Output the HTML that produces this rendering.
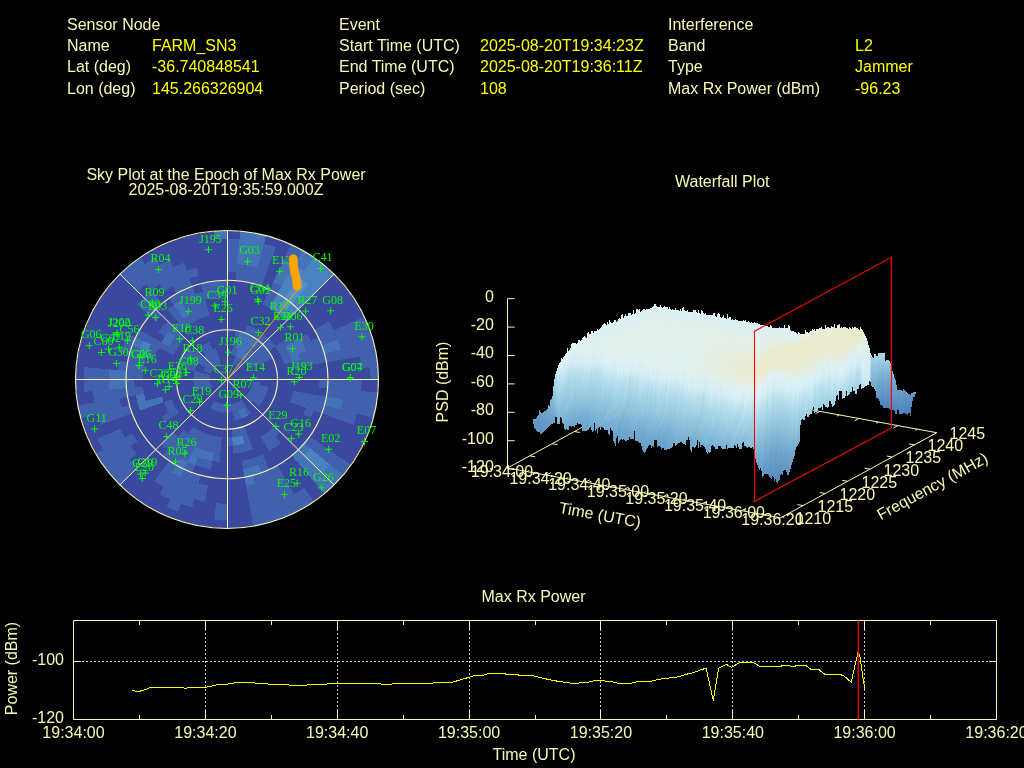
<!DOCTYPE html>
<html><head><meta charset="utf-8"><title>Interference Event Report</title>
<style>
html,body{margin:0;padding:0;background:#000;overflow:hidden}
svg{display:block}
text{font-family:'Liberation Sans', Arial, sans-serif;font-size:16px}
.sat text{font-family:'Liberation Serif','Times New Roman',serif;font-size:12px;fill:#00ff00;text-anchor:middle}
</style></head><body>
<svg width="1024" height="768" viewBox="0 0 1024 768">
<rect width="1024" height="768" fill="#000"/>
<text x="67" y="29.8" fill="#f8f8b4" text-anchor="start">Sensor Node</text>
<text x="67" y="50.8" fill="#f8f8b4" text-anchor="start">Name</text>
<text x="152" y="50.8" fill="#ffff00" text-anchor="start">FARM_SN3</text>
<text x="67" y="72.4" fill="#f8f8b4" text-anchor="start">Lat (deg)</text>
<text x="152" y="72.4" fill="#ffff00" text-anchor="start">-36.740848541</text>
<text x="67" y="94.2" fill="#f8f8b4" text-anchor="start">Lon (deg)</text>
<text x="152" y="94.2" fill="#ffff00" text-anchor="start">145.266326904</text>
<text x="339" y="29.8" fill="#f8f8b4" text-anchor="start">Event</text>
<text x="339" y="50.8" fill="#f8f8b4" text-anchor="start">Start Time (UTC)</text>
<text x="480" y="50.8" fill="#ffff00" text-anchor="start">2025-08-20T19:34:23Z</text>
<text x="339" y="72.4" fill="#f8f8b4" text-anchor="start">End Time (UTC)</text>
<text x="480" y="72.4" fill="#ffff00" text-anchor="start">2025-08-20T19:36:11Z</text>
<text x="339" y="94.2" fill="#f8f8b4" text-anchor="start">Period (sec)</text>
<text x="480" y="94.2" fill="#ffff00" text-anchor="start">108</text>
<text x="668" y="29.8" fill="#f8f8b4" text-anchor="start">Interference</text>
<text x="668" y="50.8" fill="#f8f8b4" text-anchor="start">Band</text>
<text x="855" y="50.8" fill="#ffff00" text-anchor="start">L2</text>
<text x="668" y="72.4" fill="#f8f8b4" text-anchor="start">Type</text>
<text x="855" y="72.4" fill="#ffff00" text-anchor="start">Jammer</text>
<text x="668" y="94.2" fill="#f8f8b4" text-anchor="start">Max Rx Power (dBm)</text>
<text x="855" y="94.2" fill="#ffff00" text-anchor="start">-96.23</text>
<text x="226" y="180" fill="#f8f8b4" text-anchor="middle">Sky Plot at the Epoch of Max Rx Power</text>
<text x="226" y="195" fill="#f8f8b4" text-anchor="middle">2025-08-20T19:35:59.000Z</text>
<text x="722.3" y="186.6" fill="#f8f8b4" text-anchor="middle">Waterfall Plot</text>
<text x="533.5" y="602" fill="#f8f8b4" text-anchor="middle">Max Rx Power</text>
<g shape-rendering="crispEdges">
<ellipse cx="227.0" cy="379.5" rx="151.0" ry="148.5" fill="#3b48a0"/>
<path d="M291.0 244.5A151.5 149.0 0 0 1 302.8 250.5L298.5 257.6A143.1 140.7 0 0 0 287.5 252.0ZM364.3 316.5A151.5 149.0 0 0 1 378.5 379.5L370.1 379.5A143.1 140.7 0 0 0 356.7 320.0ZM377.9 392.5A151.5 149.0 0 0 1 373.3 418.1L365.2 415.9A143.1 140.7 0 0 0 369.5 391.8ZM351.1 465.0A151.5 149.0 0 0 1 343.1 475.3L336.6 470.0A143.1 140.7 0 0 0 344.2 460.2ZM313.9 501.6A151.5 149.0 0 0 1 253.3 526.2L251.8 518.1A143.1 140.7 0 0 0 309.1 494.8ZM119.9 484.9A151.5 149.0 0 0 1 95.8 454.0L103.1 449.9A143.1 140.7 0 0 0 125.8 479.0ZM80.7 418.1A151.5 149.0 0 0 1 77.8 405.4L86.1 403.9A143.1 140.7 0 0 0 88.8 415.9ZM119.9 274.1A151.5 149.0 0 0 1 140.1 257.4L144.9 264.2A143.1 140.7 0 0 0 125.8 280.0ZM227.0 238.8A143.1 140.7 0 0 1 239.5 239.3L238.7 247.6A134.7 132.4 0 0 0 227.0 247.1ZM264.0 243.6A143.1 140.7 0 0 1 275.9 247.3L273.1 255.0A134.7 132.4 0 0 0 261.9 251.6ZM287.5 252.0A143.1 140.7 0 0 1 298.5 257.6L294.3 264.8A134.7 132.4 0 0 0 283.9 259.5ZM356.7 320.0A143.1 140.7 0 0 1 369.5 367.2L361.2 368.0A134.7 132.4 0 0 0 349.0 323.5ZM369.5 391.8A143.1 140.7 0 0 1 365.2 415.9L357.1 413.8A134.7 132.4 0 0 0 361.2 391.0ZM344.2 460.2A143.1 140.7 0 0 1 336.6 470.0L330.2 464.6A134.7 132.4 0 0 0 337.3 455.5ZM309.1 494.8A143.1 140.7 0 0 1 251.8 518.1L250.4 509.9A134.7 132.4 0 0 0 304.2 488.0ZM227.0 520.2A143.1 140.7 0 0 1 214.5 519.7L215.3 511.4A134.7 132.4 0 0 0 227.0 511.9ZM178.1 511.7A143.1 140.7 0 0 1 166.5 507.0L170.1 499.5A134.7 132.4 0 0 0 180.9 504.0ZM125.8 479.0A143.1 140.7 0 0 1 97.3 439.0L105.0 435.5A134.7 132.4 0 0 0 131.8 473.2ZM88.8 415.9A143.1 140.7 0 0 1 86.1 403.9L94.4 402.5A134.7 132.4 0 0 0 96.9 413.8ZM84.5 391.8A143.1 140.7 0 0 1 84.5 367.2L92.8 368.0A134.7 132.4 0 0 0 92.8 391.0ZM125.8 280.0A143.1 140.7 0 0 1 155.5 257.6L159.7 264.8A134.7 132.4 0 0 0 131.8 285.8ZM227.0 247.1A134.7 132.4 0 0 1 238.7 247.6L238.0 255.8A126.2 124.2 0 0 0 227.0 255.3ZM261.9 251.6A134.7 132.4 0 0 1 273.1 255.0L270.2 262.8A126.2 124.2 0 0 0 259.7 259.6ZM349.0 323.5A134.7 132.4 0 0 1 359.6 356.5L351.3 357.9A126.2 124.2 0 0 0 341.4 327.0ZM361.7 379.5A134.7 132.4 0 0 1 353.5 424.8L345.6 422.0A126.2 124.2 0 0 0 353.2 379.5ZM337.3 455.5A134.7 132.4 0 0 1 330.2 464.6L323.7 459.3A126.2 124.2 0 0 0 330.4 450.7ZM294.3 494.2A134.7 132.4 0 0 1 250.4 509.9L248.9 501.8A126.2 124.2 0 0 0 290.1 487.0ZM227.0 511.9A134.7 132.4 0 0 1 215.3 511.4L216.0 503.2A126.2 124.2 0 0 0 227.0 503.7ZM192.1 507.4A134.7 132.4 0 0 1 159.7 494.2L163.9 487.0A126.2 124.2 0 0 0 194.3 499.4ZM131.8 473.2A134.7 132.4 0 0 1 105.0 435.5L112.6 432.0A126.2 124.2 0 0 0 137.7 467.3ZM100.5 424.8A134.7 132.4 0 0 1 92.8 368.0L101.2 368.7A126.2 124.2 0 0 0 108.4 422.0ZM131.8 285.8A134.7 132.4 0 0 1 170.1 259.5L173.6 267.0A126.2 124.2 0 0 0 137.7 291.7ZM227.0 255.3A126.2 124.2 0 0 1 238.0 255.8L237.3 264.1A117.8 115.9 0 0 0 227.0 263.6ZM259.7 259.6A126.2 124.2 0 0 1 270.2 262.8L267.3 270.6A117.8 115.9 0 0 0 257.5 267.6ZM341.4 327.0A126.2 124.2 0 0 1 351.3 357.9L343.0 359.4A117.8 115.9 0 0 0 333.8 330.5ZM353.2 379.5A126.2 124.2 0 0 1 345.6 422.0L337.7 419.1A117.8 115.9 0 0 0 344.8 379.5ZM330.4 450.7A126.2 124.2 0 0 1 323.7 459.3L317.3 454.0A117.8 115.9 0 0 0 323.5 446.0ZM290.1 487.0A126.2 124.2 0 0 1 248.9 501.8L247.5 493.6A117.8 115.9 0 0 0 285.9 479.9ZM205.1 501.8A126.2 124.2 0 0 1 154.6 481.2L159.4 474.4A117.8 115.9 0 0 0 206.5 493.6ZM130.3 459.3A126.2 124.2 0 0 1 112.6 432.0L120.2 428.5A117.8 115.9 0 0 0 136.7 454.0ZM108.4 422.0A126.2 124.2 0 0 1 101.2 368.7L109.6 369.4A117.8 115.9 0 0 0 116.3 419.1ZM145.8 284.4A126.2 124.2 0 0 1 183.8 262.8L186.7 270.6A117.8 115.9 0 0 0 151.3 290.7ZM227.0 263.6A117.8 115.9 0 0 1 267.3 270.6L264.4 278.4A109.4 107.6 0 0 0 227.0 271.9ZM329.0 321.6A117.8 115.9 0 0 1 337.7 339.9L329.8 342.7A109.4 107.6 0 0 0 321.8 325.7ZM340.8 349.5A117.8 115.9 0 0 1 343.0 359.4L334.8 360.8A109.4 107.6 0 0 0 332.7 351.6ZM344.8 379.5A117.8 115.9 0 0 1 343.0 399.6L334.8 398.2A109.4 107.6 0 0 0 336.4 379.5ZM340.8 409.5A117.8 115.9 0 0 1 337.7 419.1L329.8 416.3A109.4 107.6 0 0 0 332.7 407.4ZM323.5 446.0A117.8 115.9 0 0 1 317.3 454.0L310.8 448.7A109.4 107.6 0 0 0 316.6 441.2ZM285.9 479.9A117.8 115.9 0 0 1 247.5 493.6L246.0 485.5A109.4 107.6 0 0 0 281.7 472.7ZM206.5 493.6A117.8 115.9 0 0 1 159.4 474.4L164.2 467.6A109.4 107.6 0 0 0 208.0 485.5ZM130.5 446.0A117.8 115.9 0 0 1 125.0 437.4L132.2 433.3A109.4 107.6 0 0 0 137.4 441.2ZM116.3 419.1A117.8 115.9 0 0 1 109.6 389.6L118.0 388.9A109.4 107.6 0 0 0 124.2 416.3ZM136.7 305.0A117.8 115.9 0 0 1 151.3 290.7L156.7 297.1A109.4 107.6 0 0 0 143.2 310.3ZM159.4 284.6A117.8 115.9 0 0 1 196.5 267.6L198.7 275.6A109.4 107.6 0 0 0 164.2 291.4ZM236.5 272.3A109.4 107.6 0 0 1 264.4 278.4L261.5 286.2A101.0 99.3 0 0 0 235.8 280.5ZM273.2 282.0A109.4 107.6 0 0 1 281.7 286.3L277.5 293.5A101.0 99.3 0 0 0 269.7 289.5ZM321.8 325.7A109.4 107.6 0 0 1 329.8 342.7L321.9 345.5A101.0 99.3 0 0 0 314.5 329.8ZM332.7 351.6A109.4 107.6 0 0 1 334.8 360.8L326.5 362.3A101.0 99.3 0 0 0 324.6 353.8ZM336.4 379.5A109.4 107.6 0 0 1 334.8 398.2L326.5 396.7A101.0 99.3 0 0 0 328.0 379.5ZM332.7 407.4A109.4 107.6 0 0 1 329.8 416.3L321.9 413.5A101.0 99.3 0 0 0 324.6 405.2ZM316.6 441.2A109.4 107.6 0 0 1 310.8 448.7L304.4 443.4A101.0 99.3 0 0 0 309.7 436.5ZM281.7 472.7A109.4 107.6 0 0 1 255.3 483.4L253.1 475.4A101.0 99.3 0 0 0 277.5 465.5ZM198.7 483.4A109.4 107.6 0 0 1 180.8 477.0L184.3 469.5A101.0 99.3 0 0 0 200.9 475.4ZM172.3 472.7A109.4 107.6 0 0 1 164.2 467.6L169.1 460.9A101.0 99.3 0 0 0 176.5 465.5ZM124.2 416.3A109.4 107.6 0 0 1 121.3 407.4L129.4 405.2A101.0 99.3 0 0 0 132.1 413.5ZM119.2 398.2A109.4 107.6 0 0 1 118.0 388.9L126.4 388.2A101.0 99.3 0 0 0 127.5 396.7ZM118.0 370.1A109.4 107.6 0 0 1 119.2 360.8L127.5 362.3A101.0 99.3 0 0 0 126.4 370.8ZM121.3 351.6A109.4 107.6 0 0 1 127.8 334.0L135.5 337.5A101.0 99.3 0 0 0 129.4 353.8ZM143.2 310.3A109.4 107.6 0 0 1 156.7 297.1L162.1 303.4A101.0 99.3 0 0 0 149.6 315.6ZM172.3 286.3A109.4 107.6 0 0 1 189.6 278.4L192.5 286.2A101.0 99.3 0 0 0 176.5 293.5ZM269.7 289.5A101.0 99.3 0 0 1 277.5 293.5L273.3 300.6A92.6 91.1 0 0 0 266.1 297.0ZM318.5 337.5A101.0 99.3 0 0 1 326.5 362.3L318.2 363.7A92.6 91.1 0 0 0 310.9 341.0ZM328.0 379.5A101.0 99.3 0 0 1 327.6 388.2L319.2 387.4A92.6 91.1 0 0 0 319.6 379.5ZM326.5 396.7A101.0 99.3 0 0 1 321.9 413.5L314.0 410.6A92.6 91.1 0 0 0 318.2 395.3ZM269.7 469.5A101.0 99.3 0 0 1 261.5 472.8L258.7 465.1A92.6 91.1 0 0 0 266.1 462.0ZM192.5 472.8A101.0 99.3 0 0 1 184.3 469.5L187.9 462.0A92.6 91.1 0 0 0 195.3 465.1ZM176.5 465.5A101.0 99.3 0 0 1 162.1 455.6L167.5 449.3A92.6 91.1 0 0 0 180.7 458.4ZM127.5 396.7A101.0 99.3 0 0 1 132.1 345.5L140.0 348.4A92.6 91.1 0 0 0 135.8 395.3ZM135.5 337.5A101.0 99.3 0 0 1 139.5 329.8L146.8 334.0A92.6 91.1 0 0 0 143.1 341.0ZM149.6 315.6A101.0 99.3 0 0 1 155.6 309.3L161.5 315.1A92.6 91.1 0 0 0 156.1 321.0ZM169.1 298.1A101.0 99.3 0 0 1 192.5 286.2L195.3 293.9A92.6 91.1 0 0 0 173.9 304.9ZM200.9 283.6A101.0 99.3 0 0 1 227.0 280.2L227.0 288.4A92.6 91.1 0 0 0 203.0 291.5ZM266.1 297.0A92.6 91.1 0 0 1 273.3 300.6L269.1 307.8A84.2 82.8 0 0 0 262.6 304.5ZM307.2 334.0A92.6 91.1 0 0 1 318.2 363.7L309.9 365.1A84.2 82.8 0 0 0 299.9 338.1ZM318.2 395.3A92.6 91.1 0 0 1 310.9 418.0L303.3 414.5A84.2 82.8 0 0 0 309.9 393.9ZM266.1 462.0A92.6 91.1 0 0 1 243.1 469.2L241.6 461.0A84.2 82.8 0 0 0 262.6 454.5ZM210.9 469.2A92.6 91.1 0 0 1 195.3 465.1L198.2 457.3A84.2 82.8 0 0 0 212.4 461.0ZM187.9 462.0A92.6 91.1 0 0 1 161.5 443.9L167.5 438.0A84.2 82.8 0 0 0 191.4 454.5ZM135.8 395.3A92.6 91.1 0 0 1 134.8 387.4L143.2 386.7A84.2 82.8 0 0 0 144.1 393.9ZM134.4 379.5A92.6 91.1 0 0 1 137.6 355.9L145.7 358.1A84.2 82.8 0 0 0 142.8 379.5ZM143.1 341.0A92.6 91.1 0 0 1 146.8 334.0L154.1 338.1A84.2 82.8 0 0 0 150.7 344.5ZM167.5 309.7A92.6 91.1 0 0 1 173.9 304.9L178.7 311.7A84.2 82.8 0 0 0 172.9 316.1ZM180.7 300.6A92.6 91.1 0 0 1 227.0 288.4L227.0 296.7A84.2 82.8 0 0 0 184.9 307.8ZM306.1 351.2A84.2 82.8 0 0 1 309.9 365.1L301.6 366.6A75.8 74.5 0 0 0 298.2 354.0ZM309.9 393.9A84.2 82.8 0 0 1 306.1 407.8L298.2 405.0A75.8 74.5 0 0 0 301.6 392.4ZM281.1 442.9A84.2 82.8 0 0 1 269.1 451.2L264.9 444.0A75.8 74.5 0 0 0 275.7 436.6ZM219.7 462.0A84.2 82.8 0 0 1 212.4 461.0L213.8 452.9A75.8 74.5 0 0 0 220.4 453.7ZM191.4 454.5A84.2 82.8 0 0 1 167.5 438.0L173.4 432.2A75.8 74.5 0 0 0 195.0 447.0ZM145.7 358.1A84.2 82.8 0 0 1 154.1 338.1L161.4 342.2A75.8 74.5 0 0 0 153.8 360.2ZM158.1 332.0A84.2 82.8 0 0 1 167.5 321.0L173.4 326.8A75.8 74.5 0 0 0 164.9 336.8ZM172.9 316.1A84.2 82.8 0 0 1 178.7 311.7L183.6 318.5A75.8 74.5 0 0 0 178.3 322.4ZM184.9 307.8A84.2 82.8 0 0 1 205.2 299.5L207.4 307.5A75.8 74.5 0 0 0 189.1 315.0ZM289.1 336.8A75.8 74.5 0 0 1 292.6 342.2L285.3 346.4A67.3 66.2 0 0 0 282.2 341.5ZM300.2 360.2A75.8 74.5 0 0 1 301.6 366.6L293.3 368.0A67.3 66.2 0 0 0 292.0 362.4ZM301.6 392.4A75.8 74.5 0 0 1 298.2 405.0L290.3 402.1A67.3 66.2 0 0 0 293.3 391.0ZM280.6 432.2A75.8 74.5 0 0 1 264.9 444.0L260.7 436.9A67.3 66.2 0 0 0 274.6 426.3ZM252.9 449.5A75.8 74.5 0 0 1 233.6 453.7L232.9 445.5A67.3 66.2 0 0 0 250.0 441.7ZM220.4 453.7A75.8 74.5 0 0 1 178.3 436.6L183.7 430.2A67.3 66.2 0 0 0 221.1 445.5ZM164.9 422.2A75.8 74.5 0 0 1 161.4 416.8L168.7 412.6A67.3 66.2 0 0 0 171.8 417.5ZM158.3 348.0A75.8 74.5 0 0 1 161.4 342.2L168.7 346.4A67.3 66.2 0 0 0 166.0 351.5ZM169.0 331.6A75.8 74.5 0 0 1 207.4 307.5L209.6 315.5A67.3 66.2 0 0 0 175.4 336.9ZM282.2 341.5A67.3 66.2 0 0 1 292.0 362.4L283.9 364.5A58.9 57.9 0 0 0 275.3 346.3ZM250.0 441.7A67.3 66.2 0 0 1 244.4 443.5L242.2 435.5A58.9 57.9 0 0 0 247.2 433.9ZM232.9 445.5A67.3 66.2 0 0 1 227.0 445.7L227.0 437.4A58.9 57.9 0 0 0 232.1 437.2ZM221.1 445.5A67.3 66.2 0 0 1 188.4 433.7L193.2 427.0A58.9 57.9 0 0 0 221.9 437.2ZM171.8 417.5A67.3 66.2 0 0 1 163.7 402.1L171.6 399.3A58.9 57.9 0 0 0 178.7 412.7ZM166.0 351.5A67.3 66.2 0 0 1 179.4 332.7L185.3 338.5A58.9 57.9 0 0 0 173.6 355.0ZM247.2 325.1A58.9 57.9 0 0 1 275.3 346.3L268.4 351.0A50.5 49.7 0 0 0 244.3 332.8ZM247.2 433.9A58.9 57.9 0 0 1 232.1 437.2L231.4 429.0A50.5 49.7 0 0 0 244.3 426.2ZM235.8 330.6A50.5 49.7 0 0 1 240.1 331.5L237.9 339.5A42.1 41.4 0 0 0 234.3 338.7ZM259.5 341.5A50.5 49.7 0 0 1 272.8 358.5L265.1 362.0A42.1 41.4 0 0 0 254.1 347.8ZM179.5 362.5A50.5 49.7 0 0 1 188.3 347.6L194.8 352.9A42.1 41.4 0 0 0 187.5 365.3ZM234.3 338.7A42.1 41.4 0 0 1 237.9 339.5L235.7 347.5A33.7 33.1 0 0 0 232.8 346.9ZM251.1 345.6A42.1 41.4 0 0 1 265.1 362.0L257.5 365.5A33.7 33.1 0 0 0 246.3 352.4ZM268.4 386.7A42.1 41.4 0 0 1 259.2 406.1L252.8 400.8A33.7 33.1 0 0 0 260.2 385.2ZM251.1 413.4A42.1 41.4 0 0 1 248.0 415.3L243.8 408.2A33.7 33.1 0 0 0 246.3 406.6ZM241.4 418.4A42.1 41.4 0 0 1 234.3 420.3L232.8 412.1A33.7 33.1 0 0 0 238.5 410.6ZM186.4 368.8A42.1 41.4 0 0 1 197.2 350.2L203.2 356.1A33.7 33.1 0 0 0 194.5 370.9ZM199.9 347.8A42.1 41.4 0 0 1 209.2 342.0L212.8 349.5A33.7 33.1 0 0 0 205.4 354.1ZM232.8 346.9A33.7 33.1 0 0 1 238.5 348.4L235.6 356.2A25.2 24.8 0 0 0 231.4 355.0ZM248.6 354.1A33.7 33.1 0 0 1 257.5 365.5L249.9 369.0A25.2 24.8 0 0 0 243.2 360.5ZM260.5 382.4A33.7 33.1 0 0 1 250.8 402.9L244.9 397.1A25.2 24.8 0 0 0 252.2 381.7ZM246.3 406.6A33.7 33.1 0 0 1 210.2 408.2L214.4 401.0A25.2 24.8 0 0 0 241.5 399.8ZM195.4 390.8A33.7 33.1 0 0 1 194.5 370.9L202.6 373.1A25.2 24.8 0 0 0 203.3 388.0ZM197.8 362.9A33.7 33.1 0 0 1 215.5 348.4L218.4 356.2A25.2 24.8 0 0 0 205.1 367.1ZM235.6 356.2A25.2 24.8 0 0 1 244.9 361.9L238.9 367.8A16.8 16.6 0 0 0 232.8 363.9ZM204.1 390.0A25.2 24.8 0 0 1 202.6 373.1L210.7 375.2A16.8 16.6 0 0 0 211.7 386.5ZM203.3 371.0A25.2 24.8 0 0 1 218.4 356.2L221.2 363.9A16.8 16.6 0 0 0 211.2 373.8Z" fill="#4160ad"/>
<path d="M240.2 231.1A151.5 149.0 0 0 1 266.2 235.6L264.0 243.6A143.1 140.7 0 0 0 239.5 239.3ZM302.8 250.5A151.5 149.0 0 0 1 313.9 257.4L309.1 264.2A143.1 140.7 0 0 0 298.5 257.6ZM343.1 475.3A151.5 149.0 0 0 1 324.4 493.6L319.0 487.3A143.1 140.7 0 0 0 336.6 470.0ZM213.8 231.1A151.5 149.0 0 0 1 227.0 230.5L227.0 238.8A143.1 140.7 0 0 0 214.5 239.3ZM239.5 239.3A143.1 140.7 0 0 1 264.0 243.6L261.9 251.6A134.7 132.4 0 0 0 238.7 247.6ZM298.5 257.6A143.1 140.7 0 0 1 309.1 264.2L304.2 271.0A134.7 132.4 0 0 0 294.3 264.8ZM336.6 470.0A143.1 140.7 0 0 1 319.0 487.3L313.6 481.0A134.7 132.4 0 0 0 330.2 464.6ZM238.7 247.6A134.7 132.4 0 0 1 261.9 251.6L259.7 259.6A126.2 124.2 0 0 0 238.0 255.8ZM283.9 259.5A134.7 132.4 0 0 1 294.3 264.8L290.1 272.0A126.2 124.2 0 0 0 280.4 267.0ZM322.2 473.2A134.7 132.4 0 0 1 313.6 481.0L308.2 474.6A126.2 124.2 0 0 0 316.3 467.3ZM238.0 255.8A126.2 124.2 0 0 1 259.7 259.6L257.5 267.6A117.8 115.9 0 0 0 237.3 264.1ZM280.4 267.0A126.2 124.2 0 0 1 290.1 272.0L285.9 279.1A117.8 115.9 0 0 0 276.8 274.5ZM316.3 467.3A126.2 124.2 0 0 1 308.2 474.6L302.7 468.3A117.8 115.9 0 0 0 310.3 461.4ZM276.8 274.5A117.8 115.9 0 0 1 285.9 279.1L281.7 286.3A109.4 107.6 0 0 0 273.2 282.0ZM337.7 339.9A117.8 115.9 0 0 1 340.8 349.5L332.7 351.6A109.4 107.6 0 0 0 329.8 342.7ZM343.0 399.6A117.8 115.9 0 0 1 340.8 409.5L332.7 407.4A109.4 107.6 0 0 0 334.8 398.2ZM310.3 461.4A117.8 115.9 0 0 1 302.7 468.3L297.3 461.9A109.4 107.6 0 0 0 304.4 455.6ZM109.6 389.6A117.8 115.9 0 0 1 109.6 369.4L118.0 370.1A109.4 107.6 0 0 0 118.0 388.9ZM329.8 342.7A109.4 107.6 0 0 1 332.7 351.6L324.6 353.8A101.0 99.3 0 0 0 321.9 345.5ZM334.8 398.2A109.4 107.6 0 0 1 332.7 407.4L324.6 405.2A101.0 99.3 0 0 0 326.5 396.7ZM310.8 448.7A109.4 107.6 0 0 1 297.3 461.9L291.9 455.6A101.0 99.3 0 0 0 304.4 443.4ZM255.3 483.4A109.4 107.6 0 0 1 246.0 485.5L244.5 477.3A101.0 99.3 0 0 0 253.1 475.4ZM180.8 477.0A109.4 107.6 0 0 1 172.3 472.7L176.5 465.5A101.0 99.3 0 0 0 184.3 469.5ZM118.0 388.9A109.4 107.6 0 0 1 118.0 370.1L126.4 370.8A101.0 99.3 0 0 0 126.4 388.2ZM261.5 472.8A101.0 99.3 0 0 1 244.5 477.3L243.1 469.2A92.6 91.1 0 0 0 258.7 465.1ZM184.3 469.5A101.0 99.3 0 0 1 176.5 465.5L180.7 458.4A92.6 91.1 0 0 0 187.9 462.0ZM132.1 345.5A101.0 99.3 0 0 1 135.5 337.5L143.1 341.0A92.6 91.1 0 0 0 140.0 348.4ZM195.3 465.1A92.6 91.1 0 0 1 187.9 462.0L191.4 454.5A84.2 82.8 0 0 0 198.2 457.3ZM140.0 410.6A92.6 91.1 0 0 1 135.8 395.3L144.1 393.9A84.2 82.8 0 0 0 147.9 407.8ZM137.6 355.9A92.6 91.1 0 0 1 140.0 348.4L147.9 351.2A84.2 82.8 0 0 0 145.7 358.1ZM173.9 304.9A92.6 91.1 0 0 1 180.7 300.6L184.9 307.8A84.2 82.8 0 0 0 178.7 311.7ZM299.9 338.1A84.2 82.8 0 0 1 306.1 351.2L298.2 354.0A75.8 74.5 0 0 0 292.6 342.2ZM212.4 461.0A84.2 82.8 0 0 1 191.4 454.5L195.0 447.0A75.8 74.5 0 0 0 213.8 452.9ZM147.9 407.8A84.2 82.8 0 0 1 145.7 400.9L153.8 398.8A75.8 74.5 0 0 0 155.8 405.0ZM178.7 311.7A84.2 82.8 0 0 1 184.9 307.8L189.1 315.0A75.8 74.5 0 0 0 183.6 318.5ZM292.6 342.2A75.8 74.5 0 0 1 300.2 360.2L292.0 362.4A67.3 66.2 0 0 0 285.3 346.4ZM155.8 405.0A75.8 74.5 0 0 1 153.8 398.8L162.0 396.6A67.3 66.2 0 0 0 163.7 402.1ZM161.4 342.2A75.8 74.5 0 0 1 169.0 331.6L175.4 336.9A67.3 66.2 0 0 0 168.7 346.4ZM240.1 331.5A50.5 49.7 0 0 1 259.5 341.5L254.1 347.8A42.1 41.4 0 0 0 237.9 339.5ZM237.9 339.5A42.1 41.4 0 0 1 251.1 345.6L246.3 352.4A33.7 33.1 0 0 0 235.7 347.5ZM248.0 415.3A42.1 41.4 0 0 1 241.4 418.4L238.5 410.6A33.7 33.1 0 0 0 243.8 408.2ZM238.5 348.4A33.7 33.1 0 0 1 248.6 354.1L243.2 360.5A25.2 24.8 0 0 0 235.6 356.2Z" fill="#4573b7"/>
<path d="M313.9 257.4A151.5 149.0 0 0 1 334.1 274.1L328.2 280.0A143.1 140.7 0 0 0 309.1 264.2ZM309.1 264.2A143.1 140.7 0 0 1 328.2 280.0L322.2 285.8A134.7 132.4 0 0 0 304.2 271.0ZM294.3 264.8A134.7 132.4 0 0 1 322.2 285.8L316.3 291.7A126.2 124.2 0 0 0 290.1 272.0ZM330.2 464.6A134.7 132.4 0 0 1 322.2 473.2L316.3 467.3A126.2 124.2 0 0 0 323.7 459.3ZM290.1 272.0A126.2 124.2 0 0 1 299.4 277.8L294.6 284.6A117.8 115.9 0 0 0 285.9 279.1ZM308.2 284.4A126.2 124.2 0 0 1 316.3 291.7L310.3 297.6A117.8 115.9 0 0 0 302.7 290.7ZM323.7 459.3A126.2 124.2 0 0 1 316.3 467.3L310.3 461.4A117.8 115.9 0 0 0 317.3 454.0ZM285.9 279.1A117.8 115.9 0 0 1 294.6 284.6L289.8 291.4A109.4 107.6 0 0 0 281.7 286.3ZM302.7 290.7A117.8 115.9 0 0 1 310.3 297.6L304.4 303.4A109.4 107.6 0 0 0 297.3 297.1ZM317.3 454.0A117.8 115.9 0 0 1 310.3 461.4L304.4 455.6A109.4 107.6 0 0 0 310.8 448.7ZM281.7 286.3A109.4 107.6 0 0 1 289.8 291.4L284.9 298.1A101.0 99.3 0 0 0 277.5 293.5ZM297.3 297.1A109.4 107.6 0 0 1 304.4 303.4L298.4 309.3A101.0 99.3 0 0 0 291.9 303.4ZM277.5 293.5A101.0 99.3 0 0 1 284.9 298.1L280.1 304.9A92.6 91.1 0 0 0 273.3 300.6ZM291.9 303.4A101.0 99.3 0 0 1 298.4 309.3L292.5 315.1A92.6 91.1 0 0 0 286.5 309.7ZM273.3 300.6A92.6 91.1 0 0 1 292.5 315.1L286.5 321.0A84.2 82.8 0 0 0 269.1 307.8ZM140.0 348.4A92.6 91.1 0 0 1 143.1 341.0L150.7 344.5A84.2 82.8 0 0 0 147.9 351.2ZM244.4 443.5A67.3 66.2 0 0 1 232.9 445.5L232.1 437.2A58.9 57.9 0 0 0 242.2 435.5Z" fill="#4a82c1"/>
<path d="M299.4 277.8A126.2 124.2 0 0 1 308.2 284.4L302.7 290.7A117.8 115.9 0 0 0 294.6 284.6ZM294.6 284.6A117.8 115.9 0 0 1 302.7 290.7L297.3 297.1A109.4 107.6 0 0 0 289.8 291.4ZM289.8 291.4A109.4 107.6 0 0 1 297.3 297.1L291.9 303.4A101.0 99.3 0 0 0 284.9 298.1ZM284.9 298.1A101.0 99.3 0 0 1 291.9 303.4L286.5 309.7A92.6 91.1 0 0 0 280.1 304.9Z" fill="#5592c9"/>
</g>
<path d="M227.5 230.5L227.5 528.5M334.1 274.1L119.9 484.9M378.5 379.5L75.5 379.5M334.1 484.9L119.9 274.1" stroke="#f8f8b4" stroke-width="1" fill="none"/>
<ellipse cx="227.0" cy="379.5" rx="50.5" ry="49.7" stroke="#f8f8b4" stroke-width="1.1" fill="none"/>
<ellipse cx="227.0" cy="379.5" rx="101.0" ry="99.3" stroke="#f8f8b4" stroke-width="1.1" fill="none"/>
<ellipse cx="227.0" cy="379.5" rx="151.5" ry="149.0" stroke="#f8f8b4" stroke-width="1.1" fill="none"/>
<path d="M205.0 249.7h7M208.5 246.2v7M154.9 269.6h7M158.4 266.1v7M149.0 302.9h7M152.5 299.4v7M144.7 315.1h7M148.2 311.6v7M152.2 317.5h7M155.7 314.0v7M244.0 261.6h7M247.5 258.1v7M184.9 311.3h7M188.4 307.8v7M211.2 305.7h7M214.7 302.2v7M221.6 301.6h7M225.1 298.1v7M217.7 319.5h7M221.2 316.0v7M254.2 299.6h7M257.7 296.1v7M254.9 301.6h7M258.4 298.1v7M255.1 332.6h7M258.6 329.1v7M276.2 271.3h7M279.7 267.8v7M317.1 268.5h7M320.6 265.0v7M302.1 311.1h7M305.6 307.6v7M327.1 310.7h7M330.6 307.2v7M358.5 336.9h7M362.0 333.4v7M286.9 326.7h7M290.4 323.2v7M277.1 327.3h7M280.6 323.8v7M274.2 317.2h7M277.7 313.7v7M288.9 348.6h7M292.4 345.1v7M249.9 377.7h7M253.4 374.2v7M296.0 377.5h7M299.5 374.0v7M290.9 381.8h7M294.4 378.3v7M346.8 377.8h7M350.3 374.3v7M346.8 377.8h7M350.3 374.3v7M361.0 441.5h7M364.5 438.0v7M295.2 434.1h7M298.7 430.6v7M287.9 438.6h7M291.4 435.1v7M272.3 426.4h7M275.8 422.9v7M325.2 449.3h7M328.7 445.8v7M293.6 483.3h7M297.1 479.8v7M317.9 487.9h7M321.4 484.4v7M280.9 494.4h7M284.4 490.9v7M85.8 345.6h7M89.3 342.1v7M97.9 352.5h7M101.4 349.0v7M105.0 349.1h7M108.5 345.6v7M115.8 347.3h7M119.3 343.8v7M113.5 333.0h7M117.0 329.5v7M113.9 334.3h7M117.4 330.8v7M124.0 340.5h7M127.5 337.0v7M113.0 363.4h7M116.5 359.9v7M135.7 365.5h7M139.2 362.0v7M135.7 365.5h7M139.2 362.0v7M141.7 370.3h7M145.2 366.8v7M176.2 338.9h7M179.7 335.4v7M188.8 340.8h7M192.3 337.3v7M187.1 358.7h7M190.6 355.2v7M183.2 372.5h7M186.7 369.0v7M224.9 352.2h7M228.4 348.7v7M217.9 380.2h7M221.4 376.7v7M237.1 395.3h7M240.6 391.8v7M223.3 405.3h7M226.8 401.8v7M196.0 402.0h7M199.5 398.5v7M187.1 410.5h7M190.6 407.0v7M153.9 383.7h7M157.4 380.2v7M161.9 389.8h7M165.4 386.3v7M165.7 386.5h7M169.2 383.0v7M173.2 383.4h7M176.7 379.9v7M171.9 377.5h7M175.4 374.0v7M91.1 428.9h7M94.6 425.4v7M162.9 436.5h7M166.4 433.0v7M172.1 461.8h7M175.6 458.3v7M181.1 453.2h7M184.6 449.7v7M137.0 474.0h7M140.5 470.5v7M141.7 473.0h7M145.2 469.5v7M138.8 478.5h7M142.3 475.0v7" stroke="#00ff00" stroke-width="1" fill="none"/>
<g class="sat">
<text x="210.5" y="242.5">J195</text>
<text x="160.4" y="262.4">R04</text>
<text x="154.5" y="295.7">R09</text>
<text x="150.2" y="307.9">C60</text>
<text x="157.7" y="310.3">E03</text>
<text x="249.5" y="254.4">G03</text>
<text x="190.4" y="304.1">J199</text>
<text x="216.7" y="298.5">C39</text>
<text x="227.1" y="294.4">G01</text>
<text x="223.2" y="312.3">E26</text>
<text x="259.7" y="292.4">C04</text>
<text x="260.4" y="294.4">G02</text>
<text x="260.6" y="325.4">C32</text>
<text x="281.7" y="264.1">E13</text>
<text x="322.6" y="261.3">C41</text>
<text x="307.6" y="303.9">R27</text>
<text x="332.6" y="303.5">G08</text>
<text x="364.0" y="329.7">E30</text>
<text x="292.4" y="319.5">R06</text>
<text x="282.6" y="320.1">E21</text>
<text x="279.7" y="310.0">R17</text>
<text x="294.4" y="341.4">R01</text>
<text x="255.4" y="370.5">E14</text>
<text x="301.5" y="370.3">J193</text>
<text x="296.4" y="374.6">R20</text>
<text x="352.3" y="370.6">G04</text>
<text x="352.3" y="370.6">G07</text>
<text x="366.5" y="434.3">E07</text>
<text x="300.7" y="426.9">G16</text>
<text x="293.4" y="431.4">C23</text>
<text x="277.8" y="419.2">E29</text>
<text x="330.7" y="442.1">E02</text>
<text x="299.1" y="476.1">R16</text>
<text x="323.4" y="480.7">G26</text>
<text x="286.4" y="487.2">E25</text>
<text x="91.3" y="338.4">G06</text>
<text x="103.4" y="345.3">C60</text>
<text x="110.5" y="341.9">G02</text>
<text x="121.3" y="340.1">E19</text>
<text x="119.0" y="325.8">J202</text>
<text x="119.4" y="327.1">J200</text>
<text x="129.5" y="333.3">C56</text>
<text x="118.5" y="356.2">G30</text>
<text x="141.2" y="358.3">C06</text>
<text x="141.2" y="358.3">G26</text>
<text x="147.2" y="363.1">E16</text>
<text x="181.7" y="331.7">E18</text>
<text x="194.3" y="333.6">C38</text>
<text x="192.6" y="351.5">R18</text>
<text x="188.7" y="365.3">C08</text>
<text x="230.4" y="345.0">J196</text>
<text x="223.4" y="373.0">C37</text>
<text x="242.6" y="388.1">R07</text>
<text x="228.8" y="398.1">G09</text>
<text x="201.5" y="394.8">E19</text>
<text x="192.6" y="403.3">C29</text>
<text x="159.4" y="376.5">C28</text>
<text x="167.4" y="382.6">R14</text>
<text x="171.2" y="379.3">G04</text>
<text x="178.7" y="376.2">E31</text>
<text x="177.4" y="370.3">E36</text>
<text x="96.6" y="421.7">G11</text>
<text x="168.4" y="429.3">C48</text>
<text x="177.6" y="454.6">R05</text>
<text x="186.6" y="446.0">R26</text>
<text x="142.5" y="466.8">G29</text>
<text x="147.2" y="465.8">C19</text>
<text x="144.3" y="471.3">E20</text>
</g>
<path d="M227.0 379.5L297.4 290" stroke="#ffa500" stroke-width="1" fill="none"/>
<path d="M293.3 258.6L293.6 266.5L295 273.7L296.5 279.4L297.2 286.5" stroke="#ffa500" stroke-width="8.6" stroke-linecap="round" stroke-linejoin="round" fill="none"/>
<path d="M507.5 468.0L663.7 382.9L936.8 432.7M529.8 455.8l5.4 1.0M552.1 443.7l5.4 1.0M574.4 431.5l5.4 1.0M596.8 419.4l5.4 1.0M619.1 407.2l5.4 1.0M641.4 395.1l5.4 1.0M683.2 386.5l-2.2 1.2M702.7 390.0l-4.4 2.4M722.2 393.6l-2.2 1.2M741.7 397.1l-4.4 2.4M761.2 400.7l-2.2 1.2M780.7 404.2l-4.4 2.4M800.2 407.8l-2.2 1.2M819.8 411.4l-4.4 2.4M839.3 414.9l-2.2 1.2M858.8 418.5l-4.4 2.4M878.3 422.0l-2.2 1.2M897.8 425.6l-4.4 2.4M917.3 429.1l-2.2 1.2" stroke="#f8f8b4" stroke-width="1" fill="none"/>
<defs><linearGradient id="w0" x1="0" y1="0" x2="0" y2="1"><stop offset="0" stop-color="#679dc9"/><stop offset="1" stop-color="#649ac7"/></linearGradient><linearGradient id="w1" x1="0" y1="0" x2="0" y2="1"><stop offset="0" stop-color="#659bc8"/><stop offset="1" stop-color="#6096c5"/></linearGradient><linearGradient id="w2" x1="0" y1="0" x2="0" y2="1"><stop offset="0" stop-color="#689ec9"/><stop offset="1" stop-color="#5e93c4"/></linearGradient><linearGradient id="w3" x1="0" y1="0" x2="0" y2="1"><stop offset="0" stop-color="#679ec9"/><stop offset="1" stop-color="#5d92c3"/></linearGradient><linearGradient id="w4" x1="0" y1="0" x2="0" y2="1"><stop offset="0" stop-color="#669dc8"/><stop offset="1" stop-color="#5b90c2"/></linearGradient><linearGradient id="w5" x1="0" y1="0" x2="0" y2="1"><stop offset="0" stop-color="#689fca"/><stop offset="1" stop-color="#5e93c3"/></linearGradient><linearGradient id="w6" x1="0" y1="0" x2="0" y2="1"><stop offset="0" stop-color="#6ca4cc"/><stop offset="1" stop-color="#5d92c3"/></linearGradient><linearGradient id="w7" x1="0" y1="0" x2="0" y2="1"><stop offset="0" stop-color="#6ba3cc"/><stop offset="1" stop-color="#5a8ec1"/></linearGradient><linearGradient id="w8" x1="0" y1="0" x2="0" y2="1"><stop offset="0" stop-color="#6ba2cb"/><stop offset="1" stop-color="#5a8ec1"/></linearGradient><linearGradient id="w9" x1="0" y1="0" x2="0" y2="1"><stop offset="0" stop-color="#6ea5cd"/><stop offset="1" stop-color="#5c91c2"/></linearGradient><linearGradient id="w10" x1="0" y1="0" x2="0" y2="1"><stop offset="0" stop-color="#70a8cf"/><stop offset="1" stop-color="#5c91c2"/></linearGradient><linearGradient id="w11" x1="0" y1="0" x2="0" y2="1"><stop offset="0" stop-color="#6da5cd"/><stop offset="1" stop-color="#5c91c2"/></linearGradient><linearGradient id="w12" x1="0" y1="0" x2="0" y2="1"><stop offset="0" stop-color="#6da4cd"/><stop offset="1" stop-color="#6196c5"/></linearGradient><linearGradient id="w13" x1="0" y1="0" x2="0" y2="1"><stop offset="0" stop-color="#70a8cf"/><stop offset="1" stop-color="#6095c4"/></linearGradient><linearGradient id="w14" x1="0" y1="0" x2="0" y2="1"><stop offset="0" stop-color="#72abd0"/><stop offset="1" stop-color="#6399c7"/></linearGradient><linearGradient id="w15" x1="0" y1="0" x2="0" y2="1"><stop offset="0" stop-color="#78b0d3"/><stop offset="1" stop-color="#6298c6"/></linearGradient><linearGradient id="w16" x1="0" y1="0" x2="0" y2="1"><stop offset="0" stop-color="#78b0d3"/><stop offset="1" stop-color="#6298c6"/></linearGradient><linearGradient id="w17" x1="0" y1="0" x2="0" y2="1"><stop offset="0" stop-color="#7fb6d6"/><stop offset=".72" stop-color="#6da4cc"/><stop offset="1" stop-color="#659bc8"/></linearGradient><linearGradient id="w18" x1="0" y1="0" x2="0" y2="1"><stop offset="0" stop-color="#82b9d7"/><stop offset="1" stop-color="#659bc8"/></linearGradient><linearGradient id="w19" x1="0" y1="0" x2="0" y2="1"><stop offset="0" stop-color="#8abeda"/><stop offset="1" stop-color="#679dc9"/></linearGradient><linearGradient id="w20" x1="0" y1="0" x2="0" y2="1"><stop offset="0" stop-color="#9bcce2"/><stop offset=".97" stop-color="#679dc9"/><stop offset="1" stop-color="#6aa1cb"/></linearGradient><linearGradient id="w21" x1="0" y1="0" x2="0" y2="1"><stop offset="0" stop-color="#addae9"/><stop offset=".73" stop-color="#7ab1d3"/><stop offset=".86" stop-color="#70a8cf"/><stop offset="1" stop-color="#6da5cd"/></linearGradient><linearGradient id="w22" x1="0" y1="0" x2="0" y2="1"><stop offset="0" stop-color="#b5deec"/><stop offset=".56" stop-color="#95c7df"/><stop offset="1" stop-color="#70a9cf"/></linearGradient><linearGradient id="w23" x1="0" y1="0" x2="0" y2="1"><stop offset="0" stop-color="#c4e5f0"/><stop offset=".35" stop-color="#a7d6e7"/><stop offset=".78" stop-color="#8abfdb"/><stop offset="1" stop-color="#77b0d2"/></linearGradient><linearGradient id="w24" x1="0" y1="0" x2="0" y2="1"><stop offset="0" stop-color="#d3edf4"/><stop offset=".25" stop-color="#b3ddeb"/><stop offset=".64" stop-color="#94c7df"/><stop offset=".89" stop-color="#7bb2d4"/><stop offset=".93" stop-color="#7fb5d6"/><stop offset="1" stop-color="#78b0d3"/></linearGradient><linearGradient id="w25" x1="0" y1="0" x2="0" y2="1"><stop offset="0" stop-color="#dbf0f6"/><stop offset=".41" stop-color="#aad8e9"/><stop offset=".61" stop-color="#9acbe1"/><stop offset=".78" stop-color="#88bdda"/><stop offset=".95" stop-color="#7cb4d5"/><stop offset="1" stop-color="#74add1"/></linearGradient><linearGradient id="w26" x1="0" y1="0" x2="0" y2="1"><stop offset="0" stop-color="#dbf0f7"/><stop offset=".13" stop-color="#d0ebf4"/><stop offset=".30" stop-color="#b5deec"/><stop offset=".59" stop-color="#9bcce2"/><stop offset=".75" stop-color="#89beda"/><stop offset=".92" stop-color="#80b6d6"/><stop offset="1" stop-color="#76afd2"/></linearGradient><linearGradient id="w27" x1="0" y1="0" x2="0" y2="1"><stop offset="0" stop-color="#def2f8"/><stop offset=".11" stop-color="#d4edf4"/><stop offset=".40" stop-color="#b0dcea"/><stop offset=".84" stop-color="#8abfdb"/><stop offset=".91" stop-color="#87bdd9"/><stop offset=".95" stop-color="#89beda"/><stop offset="1" stop-color="#7fb6d6"/></linearGradient><linearGradient id="w28" x1="0" y1="0" x2="0" y2="1"><stop offset="0" stop-color="#e0f3f7"/><stop offset=".20" stop-color="#d1ecf4"/><stop offset=".50" stop-color="#aad8e9"/><stop offset=".77" stop-color="#8dc1dc"/><stop offset=".87" stop-color="#8bbfdb"/><stop offset=".90" stop-color="#8bc0db"/><stop offset="1" stop-color="#7cb3d4"/></linearGradient><linearGradient id="w29" x1="0" y1="0" x2="0" y2="1"><stop offset="0" stop-color="#dff2f8"/><stop offset=".16" stop-color="#d3edf4"/><stop offset=".41" stop-color="#b0dbea"/><stop offset=".69" stop-color="#8ec2dc"/><stop offset=".84" stop-color="#87bcd9"/><stop offset="1" stop-color="#7ab2d3"/></linearGradient><linearGradient id="w30" x1="0" y1="0" x2="0" y2="1"><stop offset="0" stop-color="#e0f3f7"/><stop offset=".15" stop-color="#d4edf5"/><stop offset=".42" stop-color="#aedaea"/><stop offset=".69" stop-color="#8fc3dd"/><stop offset=".75" stop-color="#8bc0db"/><stop offset=".81" stop-color="#88bdda"/><stop offset="1" stop-color="#74add1"/></linearGradient><linearGradient id="w31" x1="0" y1="0" x2="0" y2="1"><stop offset="0" stop-color="#e0f3f8"/><stop offset=".16" stop-color="#d1ecf4"/><stop offset=".38" stop-color="#addaea"/><stop offset=".68" stop-color="#8bbfdb"/><stop offset=".74" stop-color="#8bc0db"/><stop offset=".88" stop-color="#76aed2"/><stop offset=".90" stop-color="#79b1d3"/><stop offset=".96" stop-color="#6ea6cd"/><stop offset="1" stop-color="#6fa7ce"/></linearGradient><linearGradient id="w32" x1="0" y1="0" x2="0" y2="1"><stop offset="0" stop-color="#e1f2f4"/><stop offset=".16" stop-color="#d5edf5"/><stop offset=".37" stop-color="#afdbea"/><stop offset=".63" stop-color="#8fc3dd"/><stop offset=".68" stop-color="#8cc0db"/><stop offset=".71" stop-color="#8fc3dd"/><stop offset=".87" stop-color="#79b1d3"/><stop offset=".97" stop-color="#6fa7ce"/><stop offset="1" stop-color="#6da5cd"/></linearGradient><linearGradient id="w33" x1="0" y1="0" x2="0" y2="1"><stop offset="0" stop-color="#e2f2f3"/><stop offset=".16" stop-color="#d5eef5"/><stop offset=".39" stop-color="#abd9e9"/><stop offset=".68" stop-color="#8bc0db"/><stop offset=".71" stop-color="#90c3dd"/><stop offset=".84" stop-color="#7fb6d6"/><stop offset=".97" stop-color="#70a9cf"/><stop offset="1" stop-color="#70a8ce"/></linearGradient><linearGradient id="w34" x1="0" y1="0" x2="0" y2="1"><stop offset="0" stop-color="#d8eff6"/><stop offset=".02" stop-color="#e2f2f1"/><stop offset=".20" stop-color="#d6eef5"/><stop offset=".37" stop-color="#b0dcea"/><stop offset=".66" stop-color="#8fc2dd"/><stop offset=".68" stop-color="#94c7df"/><stop offset=".85" stop-color="#7cb3d5"/><stop offset=".90" stop-color="#76aed2"/><stop offset="1" stop-color="#6ea5cd"/></linearGradient><linearGradient id="w35" x1="0" y1="0" x2="0" y2="1"><stop offset="0" stop-color="#e2f2f2"/><stop offset=".15" stop-color="#d5eef5"/><stop offset=".30" stop-color="#b6deec"/><stop offset=".61" stop-color="#92c5de"/><stop offset=".68" stop-color="#8ec2dc"/><stop offset=".91" stop-color="#73acd1"/><stop offset="1" stop-color="#6ca4cc"/></linearGradient><linearGradient id="w36" x1="0" y1="0" x2="0" y2="1"><stop offset="0" stop-color="#e2f2f1"/><stop offset=".18" stop-color="#d1ecf4"/><stop offset=".39" stop-color="#abd9e9"/><stop offset=".63" stop-color="#94c6df"/><stop offset=".66" stop-color="#98cae1"/><stop offset=".82" stop-color="#81b7d7"/><stop offset=".97" stop-color="#70a9cf"/><stop offset="1" stop-color="#71aacf"/></linearGradient><linearGradient id="w37" x1="0" y1="0" x2="0" y2="1"><stop offset="0" stop-color="#e2f2f1"/><stop offset=".18" stop-color="#d7eef5"/><stop offset=".36" stop-color="#b3ddeb"/><stop offset=".62" stop-color="#98cae1"/><stop offset=".64" stop-color="#9acce2"/><stop offset=".77" stop-color="#84bad8"/><stop offset="1" stop-color="#6ea6cd"/></linearGradient><linearGradient id="w38" x1="0" y1="0" x2="0" y2="1"><stop offset="0" stop-color="#d8eff6"/><stop offset=".02" stop-color="#daf0f6"/><stop offset=".05" stop-color="#e1f2f4"/><stop offset=".22" stop-color="#d3edf4"/><stop offset=".36" stop-color="#b6deec"/><stop offset=".55" stop-color="#a2d2e5"/><stop offset=".63" stop-color="#9ecee3"/><stop offset=".75" stop-color="#88bdda"/><stop offset=".94" stop-color="#77afd2"/><stop offset=".99" stop-color="#6da4cd"/><stop offset="1" stop-color="#6ea6ce"/></linearGradient><linearGradient id="w39" x1="0" y1="0" x2="0" y2="1"><stop offset="0" stop-color="#d5eef5"/><stop offset=".02" stop-color="#d9f0f6"/><stop offset=".05" stop-color="#e2f2f1"/><stop offset=".22" stop-color="#cfebf3"/><stop offset=".41" stop-color="#b0dceb"/><stop offset=".55" stop-color="#a6d5e7"/><stop offset=".77" stop-color="#8bbfdb"/><stop offset=".82" stop-color="#81b8d7"/><stop offset=".94" stop-color="#71aacf"/><stop offset="1" stop-color="#71aacf"/></linearGradient><linearGradient id="w40" x1="0" y1="0" x2="0" y2="1"><stop offset="0" stop-color="#dbf0f6"/><stop offset=".02" stop-color="#dbf0f7"/><stop offset=".05" stop-color="#e2f2f0"/><stop offset=".22" stop-color="#d6eef5"/><stop offset=".34" stop-color="#bde2ee"/><stop offset=".48" stop-color="#aad8e9"/><stop offset=".82" stop-color="#80b7d6"/><stop offset=".92" stop-color="#73acd0"/><stop offset="1" stop-color="#70a8ce"/></linearGradient><linearGradient id="w41" x1="0" y1="0" x2="0" y2="1"><stop offset="0" stop-color="#daf0f6"/><stop offset=".05" stop-color="#e2f2f2"/><stop offset=".31" stop-color="#c9e8f2"/><stop offset=".43" stop-color="#addaea"/><stop offset=".79" stop-color="#84bad8"/><stop offset=".86" stop-color="#7ab2d4"/><stop offset=".90" stop-color="#6fa7ce"/><stop offset=".98" stop-color="#71aacf"/><stop offset="1" stop-color="#699fca"/></linearGradient><linearGradient id="w42" x1="0" y1="0" x2="0" y2="1"><stop offset="0" stop-color="#d7eff5"/><stop offset=".05" stop-color="#e2f1f0"/><stop offset=".24" stop-color="#d4edf5"/><stop offset=".41" stop-color="#b0dbea"/><stop offset=".78" stop-color="#86bbd9"/><stop offset=".85" stop-color="#7eb5d6"/><stop offset=".90" stop-color="#75aed1"/><stop offset=".95" stop-color="#71aacf"/><stop offset="1" stop-color="#6ba3cc"/></linearGradient><linearGradient id="w43" x1="0" y1="0" x2="0" y2="1"><stop offset="0" stop-color="#dbf1f7"/><stop offset=".02" stop-color="#e2f1f0"/><stop offset=".22" stop-color="#d3edf4"/><stop offset=".42" stop-color="#afdbea"/><stop offset=".67" stop-color="#95c7df"/><stop offset=".72" stop-color="#8abfdb"/><stop offset=".84" stop-color="#81b7d7"/><stop offset=".89" stop-color="#7bb2d4"/><stop offset=".91" stop-color="#7ab2d3"/><stop offset=".96" stop-color="#6fa7ce"/><stop offset="1" stop-color="#6ba2cb"/></linearGradient><linearGradient id="w44" x1="0" y1="0" x2="0" y2="1"><stop offset="0" stop-color="#dbf1f7"/><stop offset=".07" stop-color="#e2f2f1"/><stop offset=".25" stop-color="#d4edf4"/><stop offset=".38" stop-color="#b9e0ed"/><stop offset=".80" stop-color="#87bcd9"/><stop offset=".82" stop-color="#86bbd9"/><stop offset=".85" stop-color="#7eb5d5"/><stop offset=".93" stop-color="#7bb2d4"/><stop offset=".97" stop-color="#70a8cf"/><stop offset="1" stop-color="#6ca4cc"/></linearGradient><linearGradient id="w45" x1="0" y1="0" x2="0" y2="1"><stop offset="0" stop-color="#d7eff5"/><stop offset=".10" stop-color="#e2f2f0"/><stop offset=".26" stop-color="#d1ecf4"/><stop offset=".45" stop-color="#aedbea"/><stop offset=".60" stop-color="#9ecfe3"/><stop offset=".79" stop-color="#8abfdb"/><stop offset=".83" stop-color="#7eb5d5"/><stop offset=".88" stop-color="#80b6d6"/><stop offset=".93" stop-color="#72aad0"/><stop offset="1" stop-color="#70a8ce"/></linearGradient><linearGradient id="w46" x1="0" y1="0" x2="0" y2="1"><stop offset="0" stop-color="#d9f0f6"/><stop offset=".10" stop-color="#e3f1ee"/><stop offset=".26" stop-color="#d7eef5"/><stop offset=".38" stop-color="#bee2ee"/><stop offset=".64" stop-color="#98cae1"/><stop offset=".76" stop-color="#8cc0dc"/><stop offset=".81" stop-color="#82b8d7"/><stop offset=".86" stop-color="#81b8d7"/><stop offset=".90" stop-color="#73acd0"/><stop offset=".98" stop-color="#71aacf"/><stop offset="1" stop-color="#6da5cd"/></linearGradient><linearGradient id="w47" x1="0" y1="0" x2="0" y2="1"><stop offset="0" stop-color="#dcf1f7"/><stop offset=".07" stop-color="#e4f1ec"/><stop offset=".27" stop-color="#d3edf4"/><stop offset=".36" stop-color="#c4e5f0"/><stop offset=".46" stop-color="#acdae9"/><stop offset=".75" stop-color="#8ec2dc"/><stop offset=".80" stop-color="#86bbd9"/><stop offset=".82" stop-color="#8abfdb"/><stop offset=".87" stop-color="#79b1d3"/><stop offset="1" stop-color="#6ea6cd"/></linearGradient><linearGradient id="w48" x1="0" y1="0" x2="0" y2="1"><stop offset="0" stop-color="#dbf1f7"/><stop offset=".09" stop-color="#e3f1ed"/><stop offset=".26" stop-color="#daf0f6"/><stop offset=".38" stop-color="#b8dfed"/><stop offset=".71" stop-color="#94c7df"/><stop offset=".73" stop-color="#8abfdb"/><stop offset=".80" stop-color="#85bad8"/><stop offset=".85" stop-color="#7cb4d5"/><stop offset=".92" stop-color="#72abd0"/><stop offset=".94" stop-color="#70a8cf"/><stop offset=".96" stop-color="#72aacf"/><stop offset="1" stop-color="#6ba3cc"/></linearGradient><linearGradient id="w49" x1="0" y1="0" x2="0" y2="1"><stop offset="0" stop-color="#d9f0f6"/><stop offset=".11" stop-color="#e3f1ee"/><stop offset=".24" stop-color="#d6eef5"/><stop offset=".43" stop-color="#b2ddeb"/><stop offset=".65" stop-color="#97c9e0"/><stop offset=".67" stop-color="#8cc1dc"/><stop offset=".73" stop-color="#8cc0dc"/><stop offset=".77" stop-color="#7eb5d6"/><stop offset=".84" stop-color="#7ab2d3"/><stop offset=".86" stop-color="#73acd0"/><stop offset=".88" stop-color="#72aad0"/><stop offset=".92" stop-color="#6da5cd"/><stop offset="1" stop-color="#69a0ca"/></linearGradient><linearGradient id="w50" x1="0" y1="0" x2="0" y2="1"><stop offset="0" stop-color="#d8eff6"/><stop offset=".13" stop-color="#e1f2f4"/><stop offset=".28" stop-color="#d3ecf4"/><stop offset=".47" stop-color="#afdbea"/><stop offset=".64" stop-color="#95c7df"/><stop offset=".68" stop-color="#91c4de"/><stop offset=".70" stop-color="#92c5de"/><stop offset=".74" stop-color="#84bad8"/><stop offset=".81" stop-color="#7fb6d6"/><stop offset=".83" stop-color="#78b0d3"/><stop offset=".98" stop-color="#6ba2cb"/><stop offset="1" stop-color="#6da4cd"/></linearGradient><linearGradient id="w51" x1="0" y1="0" x2="0" y2="1"><stop offset="0" stop-color="#daf0f6"/><stop offset=".13" stop-color="#e1f3f6"/><stop offset=".29" stop-color="#d3edf4"/><stop offset=".44" stop-color="#b3ddeb"/><stop offset=".57" stop-color="#a1d1e5"/><stop offset=".65" stop-color="#93c6de"/><stop offset=".67" stop-color="#96c8e0"/><stop offset=".74" stop-color="#83b9d8"/><stop offset=".80" stop-color="#7eb5d5"/><stop offset=".82" stop-color="#77afd2"/><stop offset=".84" stop-color="#7ab2d4"/><stop offset=".86" stop-color="#73abd0"/><stop offset="1" stop-color="#6da4cc"/></linearGradient><linearGradient id="w52" x1="0" y1="0" x2="0" y2="1"><stop offset="0" stop-color="#dbf1f7"/><stop offset=".13" stop-color="#e3f1ee"/><stop offset=".28" stop-color="#d8eff6"/><stop offset=".55" stop-color="#9ecfe4"/><stop offset=".66" stop-color="#96c9e0"/><stop offset=".70" stop-color="#8bc0db"/><stop offset=".77" stop-color="#86bbd9"/><stop offset=".79" stop-color="#7bb3d4"/><stop offset=".83" stop-color="#7ab2d4"/><stop offset=".94" stop-color="#6fa7ce"/><stop offset="1" stop-color="#6aa1cb"/></linearGradient><linearGradient id="w53" x1="0" y1="0" x2="0" y2="1"><stop offset="0" stop-color="#daf0f6"/><stop offset=".11" stop-color="#e3f1ed"/><stop offset=".30" stop-color="#d0ebf4"/><stop offset=".37" stop-color="#c2e5f0"/><stop offset=".43" stop-color="#afdbea"/><stop offset=".62" stop-color="#9acbe2"/><stop offset=".69" stop-color="#8cc0db"/><stop offset=".75" stop-color="#82b8d7"/><stop offset=".77" stop-color="#7eb5d5"/><stop offset=".80" stop-color="#7eb5d5"/><stop offset=".84" stop-color="#77afd2"/><stop offset=".86" stop-color="#78b0d3"/><stop offset=".90" stop-color="#70a8cf"/><stop offset="1" stop-color="#6da5cd"/></linearGradient><linearGradient id="w54" x1="0" y1="0" x2="0" y2="1"><stop offset="0" stop-color="#d6eef5"/><stop offset=".16" stop-color="#e2f1f0"/><stop offset=".31" stop-color="#d8eff6"/><stop offset=".39" stop-color="#bee2ee"/><stop offset=".62" stop-color="#9ecfe3"/><stop offset=".70" stop-color="#8bbfdb"/><stop offset=".74" stop-color="#8cc0db"/><stop offset=".76" stop-color="#80b6d6"/><stop offset=".78" stop-color="#84bad8"/><stop offset=".82" stop-color="#79b1d3"/><stop offset=".97" stop-color="#6ba2cb"/><stop offset="1" stop-color="#6da5cd"/></linearGradient><linearGradient id="w55" x1="0" y1="0" x2="0" y2="1"><stop offset="0" stop-color="#d6eef5"/><stop offset=".16" stop-color="#e4f1eb"/><stop offset=".29" stop-color="#daf0f6"/><stop offset=".41" stop-color="#c1e4ef"/><stop offset=".55" stop-color="#a8d6e8"/><stop offset=".67" stop-color="#93c6de"/><stop offset=".71" stop-color="#8ec2dc"/><stop offset=".82" stop-color="#7db5d5"/><stop offset=".84" stop-color="#7fb6d6"/><stop offset=".86" stop-color="#74add1"/><stop offset=".92" stop-color="#73acd0"/><stop offset=".98" stop-color="#71aacf"/><stop offset="1" stop-color="#6ba2cb"/></linearGradient><linearGradient id="w56" x1="0" y1="0" x2="0" y2="1"><stop offset="0" stop-color="#d8eff6"/><stop offset=".15" stop-color="#e4f1eb"/><stop offset=".38" stop-color="#cbe9f2"/><stop offset=".55" stop-color="#a0d0e4"/><stop offset=".70" stop-color="#93c6df"/><stop offset=".74" stop-color="#8abeda"/><stop offset=".81" stop-color="#82b8d7"/><stop offset=".83" stop-color="#84bad8"/><stop offset=".85" stop-color="#78b0d3"/><stop offset=".91" stop-color="#73acd0"/><stop offset="1" stop-color="#6da5cd"/></linearGradient><linearGradient id="w57" x1="0" y1="0" x2="0" y2="1"><stop offset="0" stop-color="#dbf0f6"/><stop offset=".13" stop-color="#e4f1ea"/><stop offset=".32" stop-color="#d9f0f6"/><stop offset=".47" stop-color="#abd9e9"/><stop offset=".69" stop-color="#96c8e0"/><stop offset=".71" stop-color="#8fc3dd"/><stop offset=".80" stop-color="#84bad8"/><stop offset=".82" stop-color="#86bcd9"/><stop offset=".84" stop-color="#7eb5d5"/><stop offset=".90" stop-color="#77afd2"/><stop offset=".92" stop-color="#73acd0"/><stop offset=".97" stop-color="#73acd1"/><stop offset="1" stop-color="#6ea6cd"/></linearGradient><linearGradient id="w58" x1="0" y1="0" x2="0" y2="1"><stop offset="0" stop-color="#dcf1f7"/><stop offset=".18" stop-color="#e4f0e9"/><stop offset=".32" stop-color="#d9eff6"/><stop offset=".40" stop-color="#b8dfed"/><stop offset=".67" stop-color="#97c9e0"/><stop offset=".69" stop-color="#91c4de"/><stop offset=".71" stop-color="#92c5de"/><stop offset=".73" stop-color="#88bdda"/><stop offset=".77" stop-color="#89beda"/><stop offset=".89" stop-color="#75aed1"/><stop offset=".91" stop-color="#7cb3d4"/><stop offset=".93" stop-color="#70a8ce"/><stop offset="1" stop-color="#70a8ce"/></linearGradient><linearGradient id="w59" x1="0" y1="0" x2="0" y2="1"><stop offset="0" stop-color="#d9eff6"/><stop offset=".18" stop-color="#e4f0e9"/><stop offset=".30" stop-color="#d5eef5"/><stop offset=".48" stop-color="#afdbea"/><stop offset=".59" stop-color="#9ccde3"/><stop offset=".65" stop-color="#94c7df"/><stop offset=".67" stop-color="#96c8e0"/><stop offset=".69" stop-color="#8fc2dd"/><stop offset=".73" stop-color="#8ec2dc"/><stop offset=".77" stop-color="#84bad8"/><stop offset=".85" stop-color="#7ab2d4"/><stop offset=".87" stop-color="#7eb5d5"/><stop offset=".89" stop-color="#70a8ce"/><stop offset=".95" stop-color="#73abd0"/><stop offset="1" stop-color="#6ca4cc"/></linearGradient><linearGradient id="w60" x1="0" y1="0" x2="0" y2="1"><stop offset="0" stop-color="#ddf2f7"/><stop offset=".14" stop-color="#e5f0e7"/><stop offset=".33" stop-color="#cfebf3"/><stop offset=".57" stop-color="#9ecee3"/><stop offset=".65" stop-color="#96c8e0"/><stop offset=".69" stop-color="#8bbfdb"/><stop offset=".71" stop-color="#90c3dd"/><stop offset=".76" stop-color="#88bdda"/><stop offset=".84" stop-color="#7eb5d5"/><stop offset=".86" stop-color="#81b8d7"/><stop offset=".88" stop-color="#73acd1"/><stop offset=".92" stop-color="#75aed1"/><stop offset="1" stop-color="#6ba3cc"/></linearGradient><linearGradient id="w61" x1="0" y1="0" x2="0" y2="1"><stop offset="0" stop-color="#d9eff6"/><stop offset=".15" stop-color="#e4f1eb"/><stop offset=".37" stop-color="#d1ecf4"/><stop offset=".46" stop-color="#bde2ee"/><stop offset=".52" stop-color="#acd9e9"/><stop offset=".63" stop-color="#a5d4e6"/><stop offset=".74" stop-color="#8fc3dd"/><stop offset=".76" stop-color="#93c6df"/><stop offset=".78" stop-color="#8bc0db"/><stop offset=".85" stop-color="#89beda"/><stop offset=".89" stop-color="#81b8d7"/><stop offset=".91" stop-color="#86bbd9"/><stop offset=".93" stop-color="#75aed1"/><stop offset=".98" stop-color="#76afd2"/><stop offset="1" stop-color="#75aed2"/></linearGradient><linearGradient id="w62" x1="0" y1="0" x2="0" y2="1"><stop offset="0" stop-color="#daf0f6"/><stop offset=".16" stop-color="#e4f1ec"/><stop offset=".32" stop-color="#d7eff5"/><stop offset=".40" stop-color="#b9e0ed"/><stop offset=".50" stop-color="#afdbea"/><stop offset=".62" stop-color="#9acce2"/><stop offset=".68" stop-color="#94c7df"/><stop offset=".70" stop-color="#8dc1dc"/><stop offset=".76" stop-color="#8bbfdb"/><stop offset=".80" stop-color="#85bad8"/><stop offset=".82" stop-color="#87bdd9"/><stop offset=".84" stop-color="#7bb2d4"/><stop offset=".90" stop-color="#7ab1d3"/><stop offset="1" stop-color="#6da5cd"/></linearGradient><linearGradient id="w63" x1="0" y1="0" x2="0" y2="1"><stop offset="0" stop-color="#dbf0f7"/><stop offset=".16" stop-color="#e3f1ec"/><stop offset=".29" stop-color="#daf0f6"/><stop offset=".35" stop-color="#cae8f2"/><stop offset=".41" stop-color="#c4e5f0"/><stop offset=".47" stop-color="#b1dceb"/><stop offset=".67" stop-color="#99cbe1"/><stop offset=".69" stop-color="#93c6de"/><stop offset=".76" stop-color="#8cc1dc"/><stop offset=".80" stop-color="#88bdda"/><stop offset=".82" stop-color="#87bcd9"/><stop offset=".84" stop-color="#7fb6d6"/><stop offset=".90" stop-color="#7db4d5"/><stop offset=".98" stop-color="#6ea6cd"/><stop offset="1" stop-color="#6ea6cd"/></linearGradient><linearGradient id="w64" x1="0" y1="0" x2="0" y2="1"><stop offset="0" stop-color="#d9f0f6"/><stop offset=".15" stop-color="#e4f0ea"/><stop offset=".33" stop-color="#d8eff6"/><stop offset=".42" stop-color="#b7dfec"/><stop offset=".60" stop-color="#a0d0e4"/><stop offset=".67" stop-color="#97c9e0"/><stop offset=".75" stop-color="#8dc1dc"/><stop offset=".77" stop-color="#8abeda"/><stop offset=".79" stop-color="#81b8d7"/><stop offset=".85" stop-color="#81b7d7"/><stop offset=".92" stop-color="#70a8ce"/><stop offset="1" stop-color="#6da4cd"/></linearGradient><linearGradient id="w65" x1="0" y1="0" x2="0" y2="1"><stop offset="0" stop-color="#dcf1f7"/><stop offset=".14" stop-color="#e4f1eb"/><stop offset=".29" stop-color="#dcf1f7"/><stop offset=".47" stop-color="#b5deec"/><stop offset=".63" stop-color="#9fcfe4"/><stop offset=".73" stop-color="#93c6de"/><stop offset=".76" stop-color="#8bbfdb"/><stop offset=".78" stop-color="#95c7df"/><stop offset=".80" stop-color="#86bbd9"/><stop offset=".88" stop-color="#82b9d7"/><stop offset=".96" stop-color="#71aacf"/><stop offset=".98" stop-color="#73abd0"/><stop offset="1" stop-color="#70a9cf"/></linearGradient><linearGradient id="w66" x1="0" y1="0" x2="0" y2="1"><stop offset="0" stop-color="#ddf1f7"/><stop offset=".14" stop-color="#e4f0ea"/><stop offset=".22" stop-color="#e0f3f8"/><stop offset=".43" stop-color="#c4e5f0"/><stop offset=".51" stop-color="#b0dbea"/><stop offset=".71" stop-color="#98cae1"/><stop offset=".73" stop-color="#92c5de"/><stop offset=".78" stop-color="#91c4de"/><stop offset=".80" stop-color="#88bdda"/><stop offset=".86" stop-color="#87bcd9"/><stop offset=".94" stop-color="#76afd2"/><stop offset="1" stop-color="#73acd0"/></linearGradient><linearGradient id="w67" x1="0" y1="0" x2="0" y2="1"><stop offset="0" stop-color="#dcf1f7"/><stop offset=".16" stop-color="#e4f0ea"/><stop offset=".35" stop-color="#d7eff6"/><stop offset=".43" stop-color="#bde2ee"/><stop offset=".71" stop-color="#94c6df"/><stop offset=".73" stop-color="#9acbe1"/><stop offset=".75" stop-color="#8dc1dc"/><stop offset=".82" stop-color="#87bcd9"/><stop offset=".90" stop-color="#7ab1d3"/><stop offset=".92" stop-color="#7ab2d4"/><stop offset=".94" stop-color="#75aed2"/><stop offset=".98" stop-color="#76afd2"/><stop offset="1" stop-color="#6ea6cd"/></linearGradient><linearGradient id="w68" x1="0" y1="0" x2="0" y2="1"><stop offset="0" stop-color="#dcf1f7"/><stop offset=".16" stop-color="#e3f1ee"/><stop offset=".32" stop-color="#d9f0f6"/><stop offset=".70" stop-color="#98cae1"/><stop offset=".72" stop-color="#9ccde2"/><stop offset=".76" stop-color="#8fc2dd"/><stop offset=".82" stop-color="#8dc1dc"/><stop offset=".90" stop-color="#7ab2d4"/><stop offset="1" stop-color="#76aed2"/></linearGradient><linearGradient id="w69" x1="0" y1="0" x2="0" y2="1"><stop offset="0" stop-color="#d9eff6"/><stop offset=".16" stop-color="#e3f1ef"/><stop offset=".25" stop-color="#e1f2f5"/><stop offset=".39" stop-color="#d5edf5"/><stop offset=".59" stop-color="#a9d8e8"/><stop offset=".67" stop-color="#a6d5e7"/><stop offset=".71" stop-color="#a1d1e4"/><stop offset=".75" stop-color="#92c5de"/><stop offset=".80" stop-color="#90c4dd"/><stop offset=".88" stop-color="#7fb6d6"/><stop offset=".98" stop-color="#79b1d3"/><stop offset="1" stop-color="#70a8ce"/></linearGradient><linearGradient id="w70" x1="0" y1="0" x2="0" y2="1"><stop offset="0" stop-color="#d9eff6"/><stop offset=".17" stop-color="#e3f1ef"/><stop offset=".38" stop-color="#d8eff6"/><stop offset=".54" stop-color="#b1dceb"/><stop offset=".62" stop-color="#b1dceb"/><stop offset=".71" stop-color="#96c8e0"/><stop offset=".77" stop-color="#95c7df"/><stop offset=".87" stop-color="#82b8d7"/><stop offset=".88" stop-color="#85bbd8"/><stop offset=".90" stop-color="#7bb3d4"/><stop offset=".94" stop-color="#7cb4d5"/><stop offset=".98" stop-color="#74add1"/><stop offset="1" stop-color="#6fa7ce"/></linearGradient><linearGradient id="w71" x1="0" y1="0" x2="0" y2="1"><stop offset="0" stop-color="#dbf0f7"/><stop offset=".17" stop-color="#e4f0ea"/><stop offset=".30" stop-color="#e0f3f7"/><stop offset=".39" stop-color="#d6eef5"/><stop offset=".45" stop-color="#c2e4f0"/><stop offset=".52" stop-color="#c0e3ef"/><stop offset=".62" stop-color="#a1d1e5"/><stop offset=".75" stop-color="#96c8e0"/><stop offset=".82" stop-color="#83b9d8"/><stop offset=".90" stop-color="#81b8d7"/><stop offset=".95" stop-color="#70a9cf"/><stop offset=".97" stop-color="#7cb3d4"/><stop offset="1" stop-color="#6fa7ce"/></linearGradient><linearGradient id="w72" x1="0" y1="0" x2="0" y2="1"><stop offset="0" stop-color="#dcf1f7"/><stop offset=".15" stop-color="#e3f1ec"/><stop offset=".26" stop-color="#e2f2f1"/><stop offset=".40" stop-color="#d5eef5"/><stop offset=".45" stop-color="#d4edf5"/><stop offset=".51" stop-color="#b5deec"/><stop offset=".57" stop-color="#a9d8e8"/><stop offset=".75" stop-color="#90c3dd"/><stop offset=".81" stop-color="#87bcd9"/><stop offset=".85" stop-color="#84bad8"/><stop offset=".89" stop-color="#85bbd9"/><stop offset=".92" stop-color="#77afd2"/><stop offset=".96" stop-color="#75aed2"/><stop offset="1" stop-color="#6ca4cc"/></linearGradient><linearGradient id="w73" x1="0" y1="0" x2="0" y2="1"><stop offset="0" stop-color="#dcf1f7"/><stop offset=".15" stop-color="#e3f1ee"/><stop offset=".25" stop-color="#e1f2f5"/><stop offset=".32" stop-color="#e0f3f8"/><stop offset=".38" stop-color="#dbf1f7"/><stop offset=".42" stop-color="#cfebf3"/><stop offset=".46" stop-color="#c0e3ef"/><stop offset=".74" stop-color="#94c7df"/><stop offset=".78" stop-color="#8abfdb"/><stop offset=".80" stop-color="#8cc0dc"/><stop offset=".88" stop-color="#86bbd9"/><stop offset=".91" stop-color="#7ab2d3"/><stop offset=".93" stop-color="#7eb5d5"/><stop offset=".97" stop-color="#70a8ce"/><stop offset="1" stop-color="#70a8cf"/></linearGradient><linearGradient id="w74" x1="0" y1="0" x2="0" y2="1"><stop offset="0" stop-color="#dcf1f7"/><stop offset=".17" stop-color="#e3f1ef"/><stop offset=".31" stop-color="#e2f2f0"/><stop offset=".41" stop-color="#d1ecf4"/><stop offset=".50" stop-color="#c1e4ef"/><stop offset=".78" stop-color="#91c4de"/><stop offset=".85" stop-color="#8ec1dc"/><stop offset=".89" stop-color="#7db4d5"/><stop offset=".93" stop-color="#7db4d5"/><stop offset="1" stop-color="#6ea6cd"/></linearGradient><linearGradient id="w75" x1="0" y1="0" x2="0" y2="1"><stop offset="0" stop-color="#daf0f6"/><stop offset=".15" stop-color="#e4f1eb"/><stop offset=".25" stop-color="#e4f0ea"/><stop offset=".31" stop-color="#d9f0f6"/><stop offset=".40" stop-color="#d6eef5"/><stop offset=".60" stop-color="#a6d5e7"/><stop offset=".73" stop-color="#90c4dd"/><stop offset=".75" stop-color="#92c5de"/><stop offset=".76" stop-color="#8dc1dc"/><stop offset=".80" stop-color="#8dc1dc"/><stop offset=".84" stop-color="#83b9d8"/><stop offset=".87" stop-color="#82b8d7"/><stop offset=".91" stop-color="#75aed1"/><stop offset="1" stop-color="#6ea6ce"/></linearGradient><linearGradient id="w76" x1="0" y1="0" x2="0" y2="1"><stop offset="0" stop-color="#d8eff6"/><stop offset=".16" stop-color="#e4f0e9"/><stop offset=".31" stop-color="#e1f3f6"/><stop offset=".43" stop-color="#d4edf5"/><stop offset=".56" stop-color="#aedaea"/><stop offset=".71" stop-color="#96c8e0"/><stop offset=".80" stop-color="#8bbfdb"/><stop offset=".83" stop-color="#83b9d8"/><stop offset=".85" stop-color="#87bcd9"/><stop offset=".89" stop-color="#76afd2"/><stop offset="1" stop-color="#6ca4cc"/></linearGradient><linearGradient id="w77" x1="0" y1="0" x2="0" y2="1"><stop offset="0" stop-color="#d7eff5"/><stop offset=".17" stop-color="#e5f0e8"/><stop offset=".30" stop-color="#e2f2f1"/><stop offset=".43" stop-color="#daf0f6"/><stop offset=".57" stop-color="#b3ddeb"/><stop offset=".75" stop-color="#94c7df"/><stop offset=".77" stop-color="#96c9e0"/><stop offset=".79" stop-color="#90c3dd"/><stop offset=".83" stop-color="#91c4dd"/><stop offset=".87" stop-color="#85bad8"/><stop offset=".91" stop-color="#86bbd9"/><stop offset=".94" stop-color="#77afd2"/><stop offset="1" stop-color="#72abd0"/></linearGradient><linearGradient id="w78" x1="0" y1="0" x2="0" y2="1"><stop offset="0" stop-color="#dcf1f7"/><stop offset=".13" stop-color="#e4f1eb"/><stop offset=".30" stop-color="#e2f2f0"/><stop offset=".43" stop-color="#cfebf3"/><stop offset=".58" stop-color="#aedaea"/><stop offset=".75" stop-color="#97c9e0"/><stop offset=".77" stop-color="#92c5de"/><stop offset=".80" stop-color="#94c7df"/><stop offset=".84" stop-color="#85bbd8"/><stop offset=".88" stop-color="#84bad8"/><stop offset=".92" stop-color="#7ab2d3"/><stop offset="1" stop-color="#72aad0"/></linearGradient><linearGradient id="w79" x1="0" y1="0" x2="0" y2="1"><stop offset="0" stop-color="#dbf1f7"/><stop offset=".13" stop-color="#e2f1f0"/><stop offset=".30" stop-color="#e3f1ef"/><stop offset=".43" stop-color="#d4edf5"/><stop offset=".52" stop-color="#b5deec"/><stop offset=".70" stop-color="#9ccde3"/><stop offset=".76" stop-color="#95c8df"/><stop offset=".80" stop-color="#8fc3dd"/><stop offset=".83" stop-color="#88bdda"/><stop offset=".85" stop-color="#8cc0dc"/><stop offset=".89" stop-color="#79b1d3"/><stop offset="1" stop-color="#73acd0"/></linearGradient><linearGradient id="w80" x1="0" y1="0" x2="0" y2="1"><stop offset="0" stop-color="#dcf1f7"/><stop offset=".13" stop-color="#e4f1ec"/><stop offset=".27" stop-color="#e3f1ee"/><stop offset=".37" stop-color="#d8eff6"/><stop offset=".49" stop-color="#b4ddec"/><stop offset=".59" stop-color="#a9d8e8"/><stop offset=".67" stop-color="#9bcce2"/><stop offset=".72" stop-color="#99cae1"/><stop offset=".76" stop-color="#88bdda"/><stop offset=".79" stop-color="#86bcd9"/><stop offset=".86" stop-color="#73acd1"/><stop offset=".92" stop-color="#6fa7ce"/><stop offset=".96" stop-color="#689ec9"/><stop offset="1" stop-color="#659bc8"/></linearGradient><linearGradient id="w81" x1="0" y1="0" x2="0" y2="1"><stop offset="0" stop-color="#d9f0f6"/><stop offset=".15" stop-color="#e3f1ed"/><stop offset=".29" stop-color="#e2f2f0"/><stop offset=".39" stop-color="#d3ecf4"/><stop offset=".47" stop-color="#bde2ee"/><stop offset=".59" stop-color="#a9d7e8"/><stop offset=".72" stop-color="#95c7df"/><stop offset=".75" stop-color="#87bcd9"/><stop offset=".78" stop-color="#89beda"/><stop offset=".81" stop-color="#79b1d3"/><stop offset=".83" stop-color="#7db4d5"/><stop offset=".85" stop-color="#75aed1"/><stop offset=".91" stop-color="#71a9cf"/><stop offset=".96" stop-color="#69a0ca"/><stop offset="1" stop-color="#6398c6"/></linearGradient><linearGradient id="w82" x1="0" y1="0" x2="0" y2="1"><stop offset="0" stop-color="#d9eff6"/><stop offset=".14" stop-color="#e4f1eb"/><stop offset=".27" stop-color="#e4f1eb"/><stop offset=".44" stop-color="#c9e8f1"/><stop offset=".51" stop-color="#b4ddeb"/><stop offset=".65" stop-color="#9fcfe4"/><stop offset=".75" stop-color="#86bbd9"/><stop offset=".76" stop-color="#8bbfdb"/><stop offset=".79" stop-color="#7bb3d4"/><stop offset=".81" stop-color="#7eb5d5"/><stop offset=".86" stop-color="#71aacf"/><stop offset=".90" stop-color="#6ca4cc"/><stop offset=".98" stop-color="#6096c5"/><stop offset="1" stop-color="#679dc9"/></linearGradient><linearGradient id="w83" x1="0" y1="0" x2="0" y2="1"><stop offset="0" stop-color="#def2f7"/><stop offset=".14" stop-color="#e4f1eb"/><stop offset=".28" stop-color="#e2f2f2"/><stop offset=".41" stop-color="#d7eff6"/><stop offset=".48" stop-color="#c0e3ef"/><stop offset=".66" stop-color="#a1d1e5"/><stop offset=".78" stop-color="#89beda"/><stop offset=".79" stop-color="#8dc1dc"/><stop offset=".83" stop-color="#7fb6d6"/><stop offset=".93" stop-color="#74add1"/><stop offset=".97" stop-color="#689ec9"/><stop offset="1" stop-color="#69a0cb"/></linearGradient><linearGradient id="w84" x1="0" y1="0" x2="0" y2="1"><stop offset="0" stop-color="#daf0f6"/><stop offset=".14" stop-color="#e3f1ed"/><stop offset=".31" stop-color="#e2f2f1"/><stop offset=".49" stop-color="#cdeaf3"/><stop offset=".64" stop-color="#a1d1e5"/><stop offset=".78" stop-color="#8fc3dd"/><stop offset=".85" stop-color="#7db4d5"/><stop offset=".90" stop-color="#7cb3d4"/><stop offset=".96" stop-color="#6fa7ce"/><stop offset="1" stop-color="#6ba3cc"/></linearGradient><linearGradient id="w85" x1="0" y1="0" x2="0" y2="1"><stop offset="0" stop-color="#dbf0f7"/><stop offset=".13" stop-color="#e3f1ee"/><stop offset=".29" stop-color="#e3f1ef"/><stop offset=".44" stop-color="#d8eff6"/><stop offset=".52" stop-color="#b1dceb"/><stop offset=".61" stop-color="#a6d5e7"/><stop offset=".71" stop-color="#94c7df"/><stop offset=".81" stop-color="#7eb5d5"/><stop offset=".82" stop-color="#7eb5d5"/><stop offset=".87" stop-color="#6ea6cd"/><stop offset=".94" stop-color="#6aa1cb"/><stop offset=".95" stop-color="#6ea6cd"/><stop offset="1" stop-color="#649ac7"/></linearGradient><linearGradient id="w86" x1="0" y1="0" x2="0" y2="1"><stop offset="0" stop-color="#d9f0f6"/><stop offset=".13" stop-color="#e4f1eb"/><stop offset=".34" stop-color="#e3f1ef"/><stop offset=".42" stop-color="#d7eff6"/><stop offset=".50" stop-color="#b9e0ed"/><stop offset=".60" stop-color="#abd9e9"/><stop offset=".72" stop-color="#91c4de"/><stop offset=".81" stop-color="#87bcd9"/><stop offset=".85" stop-color="#72abd0"/><stop offset=".89" stop-color="#6fa8ce"/><stop offset="1" stop-color="#689fca"/></linearGradient><linearGradient id="w87" x1="0" y1="0" x2="0" y2="1"><stop offset="0" stop-color="#daf0f6"/><stop offset=".13" stop-color="#e3f1ec"/><stop offset=".31" stop-color="#e3f1ec"/><stop offset=".48" stop-color="#cce9f2"/><stop offset=".53" stop-color="#bbe1ed"/><stop offset=".64" stop-color="#9dcee3"/><stop offset=".79" stop-color="#8cc0db"/><stop offset=".83" stop-color="#7ab2d4"/><stop offset=".88" stop-color="#73abd0"/><stop offset=".89" stop-color="#6fa7ce"/><stop offset=".94" stop-color="#6da5cd"/><stop offset="1" stop-color="#689ec9"/></linearGradient><linearGradient id="w88" x1="0" y1="0" x2="0" y2="1"><stop offset="0" stop-color="#d9eff6"/><stop offset=".16" stop-color="#e4f0e9"/><stop offset=".32" stop-color="#e2f2f0"/><stop offset=".47" stop-color="#d7eef5"/><stop offset=".56" stop-color="#b0dbea"/><stop offset=".69" stop-color="#9acbe2"/><stop offset=".79" stop-color="#8dc1dc"/><stop offset=".82" stop-color="#7cb4d5"/><stop offset=".87" stop-color="#78b0d3"/><stop offset=".89" stop-color="#70a9cf"/><stop offset=".90" stop-color="#76afd2"/><stop offset=".97" stop-color="#6da5cd"/><stop offset="1" stop-color="#6ba2cb"/></linearGradient><linearGradient id="w89" x1="0" y1="0" x2="0" y2="1"><stop offset="0" stop-color="#d7eff5"/><stop offset=".17" stop-color="#e4f0e9"/><stop offset=".38" stop-color="#e1f2f5"/><stop offset=".46" stop-color="#d5eef5"/><stop offset=".52" stop-color="#bbe1ed"/><stop offset=".75" stop-color="#94c6df"/><stop offset=".76" stop-color="#91c5de"/><stop offset=".79" stop-color="#82b8d7"/><stop offset=".84" stop-color="#7bb3d4"/><stop offset=".87" stop-color="#75aed2"/><stop offset=".89" stop-color="#77b0d2"/><stop offset=".94" stop-color="#6fa7ce"/><stop offset="1" stop-color="#69a0ca"/></linearGradient><linearGradient id="w90" x1="0" y1="0" x2="0" y2="1"><stop offset="0" stop-color="#dcf1f7"/><stop offset=".15" stop-color="#e4f1eb"/><stop offset=".33" stop-color="#e4f1ec"/><stop offset=".43" stop-color="#d1ecf4"/><stop offset=".51" stop-color="#bfe3ef"/><stop offset=".58" stop-color="#acd9e9"/><stop offset=".73" stop-color="#96c8e0"/><stop offset=".74" stop-color="#93c6de"/><stop offset=".78" stop-color="#84bad8"/><stop offset=".83" stop-color="#80b7d6"/><stop offset=".84" stop-color="#76afd2"/><stop offset=".88" stop-color="#77b0d2"/><stop offset=".93" stop-color="#6fa7ce"/><stop offset="1" stop-color="#6ba2cc"/></linearGradient><linearGradient id="w91" x1="0" y1="0" x2="0" y2="1"><stop offset="0" stop-color="#d9f0f6"/><stop offset=".15" stop-color="#e3f1ef"/><stop offset=".32" stop-color="#e3f1ef"/><stop offset=".44" stop-color="#d8eff6"/><stop offset=".52" stop-color="#bae0ed"/><stop offset=".68" stop-color="#a2d1e5"/><stop offset=".73" stop-color="#99cbe1"/><stop offset=".76" stop-color="#87bdd9"/><stop offset=".81" stop-color="#82b8d7"/><stop offset=".82" stop-color="#7cb3d5"/><stop offset=".84" stop-color="#7fb6d6"/><stop offset=".90" stop-color="#70a9cf"/><stop offset="1" stop-color="#6ba2cb"/></linearGradient><linearGradient id="w92" x1="0" y1="0" x2="0" y2="1"><stop offset="0" stop-color="#d7eff5"/><stop offset=".14" stop-color="#e5f0e8"/><stop offset=".35" stop-color="#e3f1ef"/><stop offset=".43" stop-color="#d8eff6"/><stop offset=".58" stop-color="#aedbea"/><stop offset=".68" stop-color="#9fd0e4"/><stop offset=".74" stop-color="#8bbfdb"/><stop offset=".79" stop-color="#86bbd9"/><stop offset=".80" stop-color="#7fb5d6"/><stop offset=".82" stop-color="#84bad8"/><stop offset=".88" stop-color="#75aed2"/><stop offset="1" stop-color="#6ca4cc"/></linearGradient><linearGradient id="w93" x1="0" y1="0" x2="0" y2="1"><stop offset="0" stop-color="#dcf1f7"/><stop offset=".14" stop-color="#e4f0e9"/><stop offset=".32" stop-color="#e2f2f0"/><stop offset=".45" stop-color="#d3edf4"/><stop offset=".51" stop-color="#bfe3ef"/><stop offset=".62" stop-color="#a8d7e8"/><stop offset=".72" stop-color="#8ec2dc"/><stop offset=".77" stop-color="#89beda"/><stop offset=".78" stop-color="#84bad8"/><stop offset=".80" stop-color="#88bdda"/><stop offset=".85" stop-color="#7cb3d4"/><stop offset="1" stop-color="#699fca"/></linearGradient><linearGradient id="w94" x1="0" y1="0" x2="0" y2="1"><stop offset="0" stop-color="#dcf1f7"/><stop offset=".13" stop-color="#e3f1ed"/><stop offset=".32" stop-color="#e2f1ef"/><stop offset=".50" stop-color="#ceeaf3"/><stop offset=".61" stop-color="#a7d6e7"/><stop offset=".76" stop-color="#8dc1dc"/><stop offset=".77" stop-color="#87bcd9"/><stop offset=".79" stop-color="#8dc1dc"/><stop offset=".82" stop-color="#7db4d5"/><stop offset=".95" stop-color="#6ea6cd"/><stop offset="1" stop-color="#6aa1cb"/></linearGradient><linearGradient id="w95" x1="0" y1="0" x2="0" y2="1"><stop offset="0" stop-color="#d8eff6"/><stop offset=".14" stop-color="#e3f1ee"/><stop offset=".35" stop-color="#e2f2f1"/><stop offset=".47" stop-color="#d5eef5"/><stop offset=".57" stop-color="#addaea"/><stop offset=".74" stop-color="#90c4dd"/><stop offset=".76" stop-color="#89beda"/><stop offset=".77" stop-color="#8ec2dd"/><stop offset=".83" stop-color="#7fb6d6"/><stop offset="1" stop-color="#6da4cc"/></linearGradient><linearGradient id="w96" x1="0" y1="0" x2="0" y2="1"><stop offset="0" stop-color="#d8eff6"/><stop offset=".15" stop-color="#e3f1ec"/><stop offset=".39" stop-color="#e3f1ef"/><stop offset=".47" stop-color="#d7eef5"/><stop offset=".53" stop-color="#b5deec"/><stop offset=".73" stop-color="#95c7df"/><stop offset=".76" stop-color="#8dc1dc"/><stop offset=".77" stop-color="#94c6df"/><stop offset=".82" stop-color="#86bbd9"/><stop offset=".92" stop-color="#7ab2d3"/><stop offset=".94" stop-color="#73acd1"/><stop offset="1" stop-color="#70a8cf"/></linearGradient><linearGradient id="w97" x1="0" y1="0" x2="0" y2="1"><stop offset="0" stop-color="#d9f0f6"/><stop offset=".14" stop-color="#e3f1ee"/><stop offset=".37" stop-color="#e1f2f3"/><stop offset=".43" stop-color="#d7eef5"/><stop offset=".48" stop-color="#c6e6f1"/><stop offset=".73" stop-color="#95c7df"/><stop offset=".75" stop-color="#97c9e0"/><stop offset=".78" stop-color="#8fc2dd"/><stop offset=".89" stop-color="#7eb5d5"/><stop offset=".90" stop-color="#74add1"/><stop offset=".92" stop-color="#76aed2"/><stop offset="1" stop-color="#6ca3cc"/></linearGradient><linearGradient id="w98" x1="0" y1="0" x2="0" y2="1"><stop offset="0" stop-color="#dbf0f7"/><stop offset=".13" stop-color="#e3f1ed"/><stop offset=".32" stop-color="#e4f0e9"/><stop offset=".40" stop-color="#dbf0f6"/><stop offset=".47" stop-color="#ceeaf3"/><stop offset=".65" stop-color="#9ecee3"/><stop offset=".71" stop-color="#9ecfe3"/><stop offset=".77" stop-color="#89beda"/><stop offset=".85" stop-color="#82b8d7"/><stop offset=".89" stop-color="#79b1d3"/><stop offset=".90" stop-color="#7bb3d4"/><stop offset=".97" stop-color="#6ca4cc"/><stop offset="1" stop-color="#6ea6cd"/></linearGradient><linearGradient id="w99" x1="0" y1="0" x2="0" y2="1"><stop offset="0" stop-color="#ddf1f7"/><stop offset=".13" stop-color="#e3f1ec"/><stop offset=".32" stop-color="#e1f2f4"/><stop offset=".45" stop-color="#d8eff6"/><stop offset=".58" stop-color="#addaea"/><stop offset=".66" stop-color="#a5d4e6"/><stop offset=".77" stop-color="#8fc3dd"/><stop offset=".93" stop-color="#75aed1"/><stop offset=".96" stop-color="#6fa7ce"/><stop offset=".99" stop-color="#6ea6ce"/><stop offset="1" stop-color="#6aa1cb"/></linearGradient><linearGradient id="w100" x1="0" y1="0" x2="0" y2="1"><stop offset="0" stop-color="#d7eff6"/><stop offset=".16" stop-color="#e4f1eb"/><stop offset=".36" stop-color="#e4f1ec"/><stop offset=".47" stop-color="#d5eef5"/><stop offset=".53" stop-color="#b8dfed"/><stop offset=".59" stop-color="#b9e0ed"/><stop offset=".71" stop-color="#99cbe1"/><stop offset=".84" stop-color="#87bcd9"/><stop offset=".85" stop-color="#80b6d6"/><stop offset=".87" stop-color="#83b9d7"/><stop offset=".95" stop-color="#72abd0"/><stop offset=".98" stop-color="#6ea6cd"/><stop offset="1" stop-color="#6ba2cb"/></linearGradient><linearGradient id="w101" x1="0" y1="0" x2="0" y2="1"><stop offset="0" stop-color="#ddf1f7"/><stop offset=".14" stop-color="#e3f1ec"/><stop offset=".36" stop-color="#e3f1ee"/><stop offset=".46" stop-color="#d3edf4"/><stop offset=".48" stop-color="#cbe9f2"/><stop offset=".55" stop-color="#cbe9f2"/><stop offset=".62" stop-color="#b4ddec"/><stop offset=".79" stop-color="#96c8e0"/><stop offset=".89" stop-color="#84bad8"/><stop offset=".91" stop-color="#88bdda"/><stop offset=".99" stop-color="#72abd0"/><stop offset="1" stop-color="#76afd2"/></linearGradient><linearGradient id="w102" x1="0" y1="0" x2="0" y2="1"><stop offset="0" stop-color="#daf0f6"/><stop offset=".12" stop-color="#e4f1eb"/><stop offset=".33" stop-color="#e3f1ee"/><stop offset=".41" stop-color="#dcf1f7"/><stop offset=".47" stop-color="#d7eef5"/><stop offset=".55" stop-color="#b4deec"/><stop offset=".70" stop-color="#9bcce2"/><stop offset=".83" stop-color="#89beda"/><stop offset=".88" stop-color="#7eb5d5"/><stop offset=".89" stop-color="#75aed1"/><stop offset=".92" stop-color="#76afd2"/><stop offset=".97" stop-color="#6fa7ce"/><stop offset="1" stop-color="#6da5cd"/></linearGradient><linearGradient id="w103" x1="0" y1="0" x2="0" y2="1"><stop offset="0" stop-color="#d6eef5"/><stop offset=".12" stop-color="#e4f1eb"/><stop offset=".33" stop-color="#e2f2f0"/><stop offset=".42" stop-color="#e0f3f8"/><stop offset=".50" stop-color="#c7e7f1"/><stop offset=".59" stop-color="#aedbea"/><stop offset=".79" stop-color="#8dc1dc"/><stop offset=".80" stop-color="#89beda"/><stop offset=".82" stop-color="#8cc0dc"/><stop offset=".89" stop-color="#77afd2"/><stop offset=".91" stop-color="#79b1d3"/><stop offset=".94" stop-color="#70a8ce"/><stop offset="1" stop-color="#6aa2cb"/></linearGradient><linearGradient id="w104" x1="0" y1="0" x2="0" y2="1"><stop offset="0" stop-color="#d6eef5"/><stop offset=".14" stop-color="#e3f1ee"/><stop offset=".38" stop-color="#e1f2f3"/><stop offset=".47" stop-color="#d3edf4"/><stop offset=".56" stop-color="#b7dfec"/><stop offset=".79" stop-color="#8abfdb"/><stop offset=".80" stop-color="#8cc0dc"/><stop offset=".88" stop-color="#79b1d3"/><stop offset=".89" stop-color="#7eb5d5"/><stop offset=".92" stop-color="#70a8ce"/><stop offset="1" stop-color="#6ba2cb"/></linearGradient><linearGradient id="w105" x1="0" y1="0" x2="0" y2="1"><stop offset="0" stop-color="#daf0f6"/><stop offset=".14" stop-color="#e4f0e9"/><stop offset=".35" stop-color="#e3f1ec"/><stop offset=".45" stop-color="#d6eef5"/><stop offset=".65" stop-color="#aad8e9"/><stop offset=".77" stop-color="#90c3dd"/><stop offset=".79" stop-color="#8fc3dd"/><stop offset=".83" stop-color="#88bdda"/><stop offset=".85" stop-color="#7bb3d4"/><stop offset=".88" stop-color="#7cb4d5"/><stop offset=".91" stop-color="#71aacf"/><stop offset="1" stop-color="#6da5cd"/></linearGradient><linearGradient id="w106" x1="0" y1="0" x2="0" y2="1"><stop offset="0" stop-color="#d8eff6"/><stop offset=".13" stop-color="#e3f1ed"/><stop offset=".36" stop-color="#e2f2f2"/><stop offset=".49" stop-color="#cfebf3"/><stop offset=".61" stop-color="#afdbea"/><stop offset=".82" stop-color="#85bad8"/><stop offset=".84" stop-color="#7cb4d5"/><stop offset=".85" stop-color="#83b9d8"/><stop offset=".90" stop-color="#73acd1"/><stop offset="1" stop-color="#689fca"/></linearGradient><linearGradient id="w107" x1="0" y1="0" x2="0" y2="1"><stop offset="0" stop-color="#dcf1f7"/><stop offset=".11" stop-color="#e4f1eb"/><stop offset=".34" stop-color="#e3f1ee"/><stop offset=".47" stop-color="#d5eef5"/><stop offset=".60" stop-color="#b4ddeb"/><stop offset=".73" stop-color="#98cae1"/><stop offset=".76" stop-color="#92c5de"/><stop offset=".82" stop-color="#83b9d8"/><stop offset=".84" stop-color="#83b9d7"/><stop offset=".87" stop-color="#78b0d3"/><stop offset="1" stop-color="#6aa2cb"/></linearGradient><linearGradient id="w108" x1="0" y1="0" x2="0" y2="1"><stop offset="0" stop-color="#daf0f6"/><stop offset=".12" stop-color="#e3f1ed"/><stop offset=".36" stop-color="#e3f1ef"/><stop offset=".47" stop-color="#d6eef5"/><stop offset=".59" stop-color="#b3ddeb"/><stop offset=".70" stop-color="#9bcde2"/><stop offset=".79" stop-color="#8bbfdb"/><stop offset=".80" stop-color="#7eb5d5"/><stop offset=".81" stop-color="#88bdda"/><stop offset=".86" stop-color="#77afd2"/><stop offset="1" stop-color="#689ec9"/></linearGradient><linearGradient id="w109" x1="0" y1="0" x2="0" y2="1"><stop offset="0" stop-color="#d9eff6"/><stop offset=".13" stop-color="#e3f1ef"/><stop offset=".36" stop-color="#e3f1ec"/><stop offset=".47" stop-color="#d3edf4"/><stop offset=".61" stop-color="#a5d5e7"/><stop offset=".70" stop-color="#9acbe1"/><stop offset=".77" stop-color="#8cc0dc"/><stop offset=".79" stop-color="#82b8d7"/><stop offset=".81" stop-color="#82b8d7"/><stop offset=".84" stop-color="#78b0d3"/><stop offset="1" stop-color="#659bc8"/></linearGradient><linearGradient id="w110" x1="0" y1="0" x2="0" y2="1"><stop offset="0" stop-color="#daf0f6"/><stop offset=".13" stop-color="#e4f1eb"/><stop offset=".36" stop-color="#e2f2f2"/><stop offset=".46" stop-color="#d4edf5"/><stop offset=".57" stop-color="#acdae9"/><stop offset=".66" stop-color="#a0d0e4"/><stop offset=".80" stop-color="#7eb5d5"/><stop offset=".81" stop-color="#83b9d7"/><stop offset=".84" stop-color="#73abd0"/><stop offset=".98" stop-color="#659cc8"/><stop offset="1" stop-color="#6399c7"/></linearGradient><linearGradient id="w111" x1="0" y1="0" x2="0" y2="1"><stop offset="0" stop-color="#d9eff6"/><stop offset=".11" stop-color="#e3f1ed"/><stop offset=".36" stop-color="#e3f1ee"/><stop offset=".46" stop-color="#d7eef5"/><stop offset=".53" stop-color="#b9e0ed"/><stop offset=".62" stop-color="#a6d5e7"/><stop offset=".76" stop-color="#87bcd9"/><stop offset=".78" stop-color="#7fb6d6"/><stop offset=".79" stop-color="#85bad8"/><stop offset=".82" stop-color="#76afd2"/><stop offset=".93" stop-color="#69a0ca"/><stop offset=".96" stop-color="#6aa1cb"/><stop offset="1" stop-color="#6196c5"/></linearGradient><linearGradient id="w112" x1="0" y1="0" x2="0" y2="1"><stop offset="0" stop-color="#dcf1f7"/><stop offset=".10" stop-color="#e4f1eb"/><stop offset=".37" stop-color="#e1f2f3"/><stop offset=".51" stop-color="#cce9f2"/><stop offset=".56" stop-color="#b2dceb"/><stop offset=".70" stop-color="#93c6de"/><stop offset=".75" stop-color="#88bdda"/><stop offset=".77" stop-color="#87bdd9"/><stop offset=".80" stop-color="#7eb5d6"/><stop offset=".85" stop-color="#77afd2"/><stop offset="1" stop-color="#679dc9"/></linearGradient><linearGradient id="w113" x1="0" y1="0" x2="0" y2="1"><stop offset="0" stop-color="#d9eff6"/><stop offset=".11" stop-color="#e5f0e6"/><stop offset=".37" stop-color="#e1f2f4"/><stop offset=".47" stop-color="#d8eff6"/><stop offset=".56" stop-color="#b8dfed"/><stop offset=".66" stop-color="#9ecfe3"/><stop offset=".70" stop-color="#96c9e0"/><stop offset=".76" stop-color="#92c5de"/><stop offset=".80" stop-color="#82b8d7"/><stop offset=".89" stop-color="#79b1d3"/><stop offset=".90" stop-color="#70a9cf"/><stop offset=".93" stop-color="#71a9cf"/><stop offset="1" stop-color="#689ec9"/></linearGradient><linearGradient id="w114" x1="0" y1="0" x2="0" y2="1"><stop offset="0" stop-color="#dff2f8"/><stop offset=".12" stop-color="#e3f1ee"/><stop offset=".39" stop-color="#e2f2f2"/><stop offset=".49" stop-color="#d1ecf4"/><stop offset=".62" stop-color="#a2d2e5"/><stop offset=".71" stop-color="#9ccde3"/><stop offset=".78" stop-color="#89beda"/><stop offset=".86" stop-color="#7cb4d5"/><stop offset=".88" stop-color="#75aed1"/><stop offset=".89" stop-color="#78b0d3"/><stop offset=".95" stop-color="#6da4cd"/><stop offset=".99" stop-color="#669cc8"/><stop offset="1" stop-color="#679dc9"/></linearGradient><linearGradient id="w115" x1="0" y1="0" x2="0" y2="1"><stop offset="0" stop-color="#ddf2f7"/><stop offset=".12" stop-color="#e4f0e9"/><stop offset=".38" stop-color="#e3f1ef"/><stop offset=".50" stop-color="#d4edf5"/><stop offset=".55" stop-color="#b4ddeb"/><stop offset=".66" stop-color="#a7d6e7"/><stop offset=".76" stop-color="#8fc3dd"/><stop offset=".80" stop-color="#87bcd9"/><stop offset=".89" stop-color="#79b1d3"/><stop offset=".93" stop-color="#6fa7ce"/><stop offset=".98" stop-color="#6da4cc"/><stop offset="1" stop-color="#679ec9"/></linearGradient><linearGradient id="w116" x1="0" y1="0" x2="0" y2="1"><stop offset="0" stop-color="#dbf1f7"/><stop offset=".12" stop-color="#e3f1ec"/><stop offset=".40" stop-color="#e1f2f5"/><stop offset=".47" stop-color="#d7eff6"/><stop offset=".50" stop-color="#c8e7f1"/><stop offset=".57" stop-color="#c0e3ef"/><stop offset=".71" stop-color="#9bcce2"/><stop offset=".87" stop-color="#80b7d6"/><stop offset=".94" stop-color="#73acd1"/><stop offset=".99" stop-color="#6aa1cb"/><stop offset="1" stop-color="#6aa2cb"/></linearGradient><linearGradient id="w117" x1="0" y1="0" x2="0" y2="1"><stop offset="0" stop-color="#dbf0f6"/><stop offset=".12" stop-color="#e3f1ee"/><stop offset=".39" stop-color="#e4f1eb"/><stop offset=".47" stop-color="#daf0f6"/><stop offset=".51" stop-color="#d5eef5"/><stop offset=".63" stop-color="#a8d6e8"/><stop offset=".83" stop-color="#84bad8"/><stop offset=".85" stop-color="#81b7d7"/><stop offset=".86" stop-color="#84bad8"/><stop offset=".91" stop-color="#75aed2"/><stop offset=".95" stop-color="#6ea6cd"/><stop offset=".98" stop-color="#6ba3cc"/><stop offset="1" stop-color="#6fa6ce"/></linearGradient><linearGradient id="w118" x1="0" y1="0" x2="0" y2="1"><stop offset="0" stop-color="#daf0f6"/><stop offset=".11" stop-color="#e2f1ef"/><stop offset=".36" stop-color="#e2f1f0"/><stop offset=".43" stop-color="#dff3f8"/><stop offset=".49" stop-color="#d8eff6"/><stop offset=".56" stop-color="#b5deec"/><stop offset=".74" stop-color="#94c6df"/><stop offset=".81" stop-color="#85bbd9"/><stop offset=".83" stop-color="#86bcd9"/><stop offset=".87" stop-color="#79b1d3"/><stop offset=".91" stop-color="#70a9cf"/><stop offset=".94" stop-color="#6ea6ce"/><stop offset=".97" stop-color="#6ea6cd"/><stop offset="1" stop-color="#659cc8"/></linearGradient><linearGradient id="w119" x1="0" y1="0" x2="0" y2="1"><stop offset="0" stop-color="#ddf1f7"/><stop offset=".12" stop-color="#e4f1eb"/><stop offset=".40" stop-color="#e2f2f2"/><stop offset=".49" stop-color="#d6eef5"/><stop offset=".55" stop-color="#c3e5f0"/><stop offset=".76" stop-color="#92c5de"/><stop offset=".79" stop-color="#90c3dd"/><stop offset=".81" stop-color="#87bcd9"/><stop offset=".82" stop-color="#8bbfdb"/><stop offset=".88" stop-color="#7ab2d4"/><stop offset=".91" stop-color="#79b1d3"/><stop offset=".94" stop-color="#6da4cc"/><stop offset=".95" stop-color="#72aad0"/><stop offset="1" stop-color="#679ec9"/></linearGradient><linearGradient id="w120" x1="0" y1="0" x2="0" y2="1"><stop offset="0" stop-color="#daf0f6"/><stop offset=".11" stop-color="#e2f2f0"/><stop offset=".40" stop-color="#e2f2f2"/><stop offset=".52" stop-color="#cdeaf3"/><stop offset=".64" stop-color="#addaea"/><stop offset=".79" stop-color="#8cc1dc"/><stop offset=".82" stop-color="#85bbd9"/><stop offset=".88" stop-color="#7eb5d6"/><stop offset=".91" stop-color="#70a8cf"/><stop offset=".94" stop-color="#72abd0"/><stop offset="1" stop-color="#69a0ca"/></linearGradient><linearGradient id="w121" x1="0" y1="0" x2="0" y2="1"><stop offset="0" stop-color="#d9f0f6"/><stop offset=".13" stop-color="#e5f0e8"/><stop offset=".41" stop-color="#e2f2f2"/><stop offset=".54" stop-color="#d4edf4"/><stop offset=".65" stop-color="#addaea"/><stop offset=".79" stop-color="#94c7df"/><stop offset=".82" stop-color="#91c4de"/><stop offset=".90" stop-color="#83b9d8"/><stop offset=".91" stop-color="#80b7d6"/><stop offset=".94" stop-color="#72aad0"/><stop offset=".97" stop-color="#75aed2"/><stop offset="1" stop-color="#6ea6cd"/></linearGradient><linearGradient id="w122" x1="0" y1="0" x2="0" y2="1"><stop offset="0" stop-color="#dcf1f7"/><stop offset=".13" stop-color="#e5f0e8"/><stop offset=".44" stop-color="#e1f2f4"/><stop offset=".53" stop-color="#d6eef5"/><stop offset=".63" stop-color="#b4ddeb"/><stop offset=".76" stop-color="#98cae1"/><stop offset=".79" stop-color="#92c5de"/><stop offset=".82" stop-color="#90c4dd"/><stop offset=".87" stop-color="#87bcd9"/><stop offset=".90" stop-color="#85bbd9"/><stop offset=".93" stop-color="#77afd2"/><stop offset=".94" stop-color="#7cb3d5"/><stop offset="1" stop-color="#6ea5cd"/></linearGradient><linearGradient id="w123" x1="0" y1="0" x2="0" y2="1"><stop offset="0" stop-color="#daf0f6"/><stop offset=".12" stop-color="#e4f1eb"/><stop offset=".43" stop-color="#e2f1f0"/><stop offset=".52" stop-color="#d4edf5"/><stop offset=".73" stop-color="#9fcfe4"/><stop offset=".79" stop-color="#9acbe1"/><stop offset=".85" stop-color="#8abfdb"/><stop offset=".88" stop-color="#86bcd9"/><stop offset=".91" stop-color="#77afd2"/><stop offset=".93" stop-color="#80b7d6"/><stop offset=".99" stop-color="#70a8cf"/><stop offset="1" stop-color="#71a9cf"/></linearGradient><linearGradient id="w124" x1="0" y1="0" x2="0" y2="1"><stop offset="0" stop-color="#daf0f6"/><stop offset=".11" stop-color="#e4f0e9"/><stop offset=".40" stop-color="#e1f2f4"/><stop offset=".51" stop-color="#d4edf5"/><stop offset=".63" stop-color="#addaea"/><stop offset=".70" stop-color="#a5d4e6"/><stop offset=".80" stop-color="#8fc2dd"/><stop offset=".81" stop-color="#8bc0db"/><stop offset=".84" stop-color="#7bb2d4"/><stop offset=".87" stop-color="#82b8d7"/><stop offset=".91" stop-color="#70a8ce"/><stop offset="1" stop-color="#689ec9"/></linearGradient><linearGradient id="w125" x1="0" y1="0" x2="0" y2="1"><stop offset="0" stop-color="#dcf1f7"/><stop offset=".12" stop-color="#e3f1ec"/><stop offset=".40" stop-color="#e3f1ef"/><stop offset=".52" stop-color="#d2ecf4"/><stop offset=".58" stop-color="#bde2ee"/><stop offset=".66" stop-color="#acdae9"/><stop offset=".79" stop-color="#90c4dd"/><stop offset=".81" stop-color="#90c3dd"/><stop offset=".83" stop-color="#80b6d6"/><stop offset=".86" stop-color="#86bbd9"/><stop offset=".91" stop-color="#74add1"/><stop offset="1" stop-color="#699fca"/></linearGradient><linearGradient id="w126" x1="0" y1="0" x2="0" y2="1"><stop offset="0" stop-color="#def2f7"/><stop offset=".12" stop-color="#e3f1ed"/><stop offset=".42" stop-color="#e2f2f0"/><stop offset=".50" stop-color="#d4edf5"/><stop offset=".58" stop-color="#c6e6f1"/><stop offset=".65" stop-color="#addaea"/><stop offset=".78" stop-color="#93c6de"/><stop offset=".79" stop-color="#91c4de"/><stop offset=".82" stop-color="#84bad8"/><stop offset=".85" stop-color="#87bcd9"/><stop offset=".89" stop-color="#77b0d3"/><stop offset="1" stop-color="#69a0ca"/></linearGradient><linearGradient id="w127" x1="0" y1="0" x2="0" y2="1"><stop offset="0" stop-color="#d7eff6"/><stop offset=".13" stop-color="#e4f0e9"/><stop offset=".41" stop-color="#e3f1ed"/><stop offset=".48" stop-color="#daf0f6"/><stop offset=".54" stop-color="#d6eef5"/><stop offset=".62" stop-color="#b1dceb"/><stop offset=".77" stop-color="#95c7df"/><stop offset=".80" stop-color="#8abfdb"/><stop offset=".83" stop-color="#8abfdb"/><stop offset=".87" stop-color="#7cb3d4"/><stop offset="1" stop-color="#679ec9"/></linearGradient><linearGradient id="w128" x1="0" y1="0" x2="0" y2="1"><stop offset="0" stop-color="#daf0f6"/><stop offset=".11" stop-color="#e3f1ed"/><stop offset=".42" stop-color="#e0f3f7"/><stop offset=".51" stop-color="#d2ecf4"/><stop offset=".59" stop-color="#b4ddeb"/><stop offset=".75" stop-color="#99cbe1"/><stop offset=".77" stop-color="#8bbfdb"/><stop offset=".80" stop-color="#8fc3dd"/><stop offset=".85" stop-color="#80b7d6"/><stop offset=".99" stop-color="#689fca"/><stop offset="1" stop-color="#6aa1cb"/></linearGradient><linearGradient id="w129" x1="0" y1="0" x2="0" y2="1"><stop offset="0" stop-color="#dbf1f7"/><stop offset=".11" stop-color="#e3f1ed"/><stop offset=".41" stop-color="#e4f1ec"/><stop offset=".50" stop-color="#d5eef5"/><stop offset=".61" stop-color="#b3ddeb"/><stop offset=".71" stop-color="#9ecfe3"/><stop offset=".77" stop-color="#8ec2dc"/><stop offset=".79" stop-color="#92c5de"/><stop offset=".84" stop-color="#84bad8"/><stop offset=".94" stop-color="#6ea6cd"/><stop offset="1" stop-color="#679ec9"/></linearGradient><linearGradient id="w130" x1="0" y1="0" x2="0" y2="1"><stop offset="0" stop-color="#daf0f6"/><stop offset=".11" stop-color="#e4f0e9"/><stop offset=".41" stop-color="#e2f2f2"/><stop offset=".51" stop-color="#d3edf4"/><stop offset=".75" stop-color="#92c5de"/><stop offset=".78" stop-color="#96c8e0"/><stop offset=".82" stop-color="#84bad8"/><stop offset=".89" stop-color="#7ab1d3"/><stop offset=".96" stop-color="#699fca"/><stop offset=".98" stop-color="#6da4cd"/><stop offset="1" stop-color="#699fca"/></linearGradient><linearGradient id="w131" x1="0" y1="0" x2="0" y2="1"><stop offset="0" stop-color="#dbf1f7"/><stop offset=".12" stop-color="#e3f1ec"/><stop offset=".40" stop-color="#e3f1ef"/><stop offset=".51" stop-color="#d5eef5"/><stop offset=".58" stop-color="#bfe3ef"/><stop offset=".68" stop-color="#9ccde3"/><stop offset=".75" stop-color="#99cae1"/><stop offset=".81" stop-color="#88bdda"/><stop offset=".94" stop-color="#6ca3cc"/><stop offset=".97" stop-color="#689ec9"/><stop offset="1" stop-color="#669cc8"/></linearGradient><linearGradient id="w132" x1="0" y1="0" x2="0" y2="1"><stop offset="0" stop-color="#d9eff6"/><stop offset=".13" stop-color="#e5f0e8"/><stop offset=".41" stop-color="#e3f1ed"/><stop offset=".52" stop-color="#d5edf5"/><stop offset=".59" stop-color="#b4ddec"/><stop offset=".64" stop-color="#a8d7e8"/><stop offset=".70" stop-color="#a3d3e6"/><stop offset=".78" stop-color="#8bc0db"/><stop offset=".85" stop-color="#81b7d7"/><stop offset=".90" stop-color="#72aad0"/><stop offset=".91" stop-color="#74add1"/><stop offset=".92" stop-color="#6ea5cd"/><stop offset=".95" stop-color="#6fa6ce"/><stop offset="1" stop-color="#689fca"/></linearGradient><linearGradient id="w133" x1="0" y1="0" x2="0" y2="1"><stop offset="0" stop-color="#d7eff5"/><stop offset=".13" stop-color="#e4f1ec"/><stop offset=".42" stop-color="#e2f2f2"/><stop offset=".50" stop-color="#d3edf4"/><stop offset=".57" stop-color="#b3ddeb"/><stop offset=".64" stop-color="#b1dceb"/><stop offset=".78" stop-color="#8fc3dd"/><stop offset=".88" stop-color="#74add1"/><stop offset=".90" stop-color="#78b0d3"/><stop offset=".91" stop-color="#71a9cf"/><stop offset=".94" stop-color="#72abd0"/><stop offset=".98" stop-color="#6ba2cb"/><stop offset="1" stop-color="#6ea5cd"/></linearGradient><linearGradient id="w134" x1="0" y1="0" x2="0" y2="1"><stop offset="0" stop-color="#daf0f6"/><stop offset=".13" stop-color="#e5f0e8"/><stop offset=".42" stop-color="#e3f1ec"/><stop offset=".49" stop-color="#d3edf4"/><stop offset=".52" stop-color="#c7e7f1"/><stop offset=".58" stop-color="#c7e7f1"/><stop offset=".69" stop-color="#a2d2e5"/><stop offset=".87" stop-color="#79b1d3"/><stop offset=".89" stop-color="#79b1d3"/><stop offset=".90" stop-color="#6fa8ce"/><stop offset=".92" stop-color="#74add1"/><stop offset=".97" stop-color="#6ca3cc"/><stop offset="1" stop-color="#6ea6ce"/></linearGradient><linearGradient id="w135" x1="0" y1="0" x2="0" y2="1"><stop offset="0" stop-color="#daf0f6"/><stop offset=".11" stop-color="#e4f1eb"/><stop offset=".39" stop-color="#e4f0ea"/><stop offset=".46" stop-color="#dbf0f7"/><stop offset=".53" stop-color="#d5eef5"/><stop offset=".61" stop-color="#b1dceb"/><stop offset=".83" stop-color="#84bad8"/><stop offset=".89" stop-color="#74add1"/><stop offset=".90" stop-color="#76afd2"/><stop offset=".94" stop-color="#6fa7ce"/><stop offset="1" stop-color="#6ca4cc"/></linearGradient><linearGradient id="w136" x1="0" y1="0" x2="0" y2="1"><stop offset="0" stop-color="#dbf0f6"/><stop offset=".13" stop-color="#e4f0e9"/><stop offset=".45" stop-color="#e1f3f6"/><stop offset=".52" stop-color="#d7eef5"/><stop offset=".61" stop-color="#b4deec"/><stop offset=".79" stop-color="#8ec2dc"/><stop offset=".83" stop-color="#82b8d7"/><stop offset=".85" stop-color="#84bad8"/><stop offset=".86" stop-color="#7ab2d4"/><stop offset=".87" stop-color="#7eb5d6"/><stop offset=".93" stop-color="#72aad0"/><stop offset="1" stop-color="#6da5cd"/></linearGradient><linearGradient id="w137" x1="0" y1="0" x2="0" y2="1"><stop offset="0" stop-color="#dbf1f7"/><stop offset=".12" stop-color="#e4f0e8"/><stop offset=".43" stop-color="#e2f2f1"/><stop offset=".52" stop-color="#d1ecf4"/><stop offset=".59" stop-color="#b8dfed"/><stop offset=".83" stop-color="#84bad8"/><stop offset=".85" stop-color="#7eb5d5"/><stop offset=".86" stop-color="#81b8d7"/><stop offset=".91" stop-color="#74acd1"/><stop offset=".95" stop-color="#73acd0"/><stop offset="1" stop-color="#6ba3cc"/></linearGradient><linearGradient id="w138" x1="0" y1="0" x2="0" y2="1"><stop offset="0" stop-color="#ddf1f7"/><stop offset=".12" stop-color="#e4f0e9"/><stop offset=".41" stop-color="#e3f1ee"/><stop offset=".55" stop-color="#c6e6f1"/><stop offset=".67" stop-color="#a8d6e8"/><stop offset=".81" stop-color="#87bcd9"/><stop offset=".83" stop-color="#81b8d7"/><stop offset=".84" stop-color="#89beda"/><stop offset=".88" stop-color="#79b1d3"/><stop offset=".93" stop-color="#75aed2"/><stop offset="1" stop-color="#6da5cd"/></linearGradient><linearGradient id="w139" x1="0" y1="0" x2="0" y2="1"><stop offset="0" stop-color="#d9f0f6"/><stop offset=".12" stop-color="#e4f1ec"/><stop offset=".41" stop-color="#e2f1f0"/><stop offset=".52" stop-color="#d5eef5"/><stop offset=".62" stop-color="#b0dceb"/><stop offset=".80" stop-color="#8fc2dd"/><stop offset=".81" stop-color="#86bbd9"/><stop offset=".83" stop-color="#8ec2dc"/><stop offset=".87" stop-color="#7eb5d5"/><stop offset=".91" stop-color="#7cb3d4"/><stop offset=".94" stop-color="#73acd0"/><stop offset=".97" stop-color="#71a9cf"/><stop offset="1" stop-color="#6fa7ce"/></linearGradient><linearGradient id="w140" x1="0" y1="0" x2="0" y2="1"><stop offset="0" stop-color="#dbf0f7"/><stop offset=".11" stop-color="#e4f1ec"/><stop offset=".44" stop-color="#e1f3f5"/><stop offset=".53" stop-color="#d5eef5"/><stop offset=".65" stop-color="#b0dbea"/><stop offset=".80" stop-color="#93c6de"/><stop offset=".81" stop-color="#87bcd9"/><stop offset=".83" stop-color="#90c3dd"/><stop offset=".87" stop-color="#83b9d8"/><stop offset=".92" stop-color="#82b8d7"/><stop offset=".95" stop-color="#75aed1"/><stop offset=".96" stop-color="#79b1d3"/><stop offset="1" stop-color="#6da5cd"/></linearGradient><linearGradient id="w141" x1="0" y1="0" x2="0" y2="1"><stop offset="0" stop-color="#daf0f6"/><stop offset=".11" stop-color="#e4f1eb"/><stop offset=".44" stop-color="#e2f2f0"/><stop offset=".56" stop-color="#cdeaf3"/><stop offset=".63" stop-color="#b3ddeb"/><stop offset=".78" stop-color="#95c8e0"/><stop offset=".80" stop-color="#8dc1dc"/><stop offset=".81" stop-color="#98cae1"/><stop offset=".86" stop-color="#87bcd9"/><stop offset=".90" stop-color="#82b8d7"/><stop offset=".93" stop-color="#7ab2d4"/><stop offset=".95" stop-color="#7cb4d5"/><stop offset="1" stop-color="#72abd0"/></linearGradient><linearGradient id="w142" x1="0" y1="0" x2="0" y2="1"><stop offset="0" stop-color="#ddf1f7"/><stop offset=".13" stop-color="#e2f2f1"/><stop offset=".42" stop-color="#e1f2f5"/><stop offset=".52" stop-color="#d4edf5"/><stop offset=".61" stop-color="#b5deec"/><stop offset=".75" stop-color="#99cae1"/><stop offset=".77" stop-color="#92c5de"/><stop offset=".78" stop-color="#99cbe1"/><stop offset=".83" stop-color="#8abfdb"/><stop offset=".87" stop-color="#87bcd9"/><stop offset="1" stop-color="#70a9cf"/></linearGradient><linearGradient id="w143" x1="0" y1="0" x2="0" y2="1"><stop offset="0" stop-color="#daf0f6"/><stop offset=".12" stop-color="#e5f0e8"/><stop offset=".43" stop-color="#e2f2f2"/><stop offset=".53" stop-color="#ceeaf3"/><stop offset=".62" stop-color="#b1dceb"/><stop offset=".70" stop-color="#a4d3e6"/><stop offset=".74" stop-color="#96c8e0"/><stop offset=".77" stop-color="#9bcde2"/><stop offset=".81" stop-color="#8dc1dc"/><stop offset=".86" stop-color="#8bbfdb"/><stop offset="1" stop-color="#72abd0"/></linearGradient><linearGradient id="w144" x1="0" y1="0" x2="0" y2="1"><stop offset="0" stop-color="#dbf1f7"/><stop offset=".12" stop-color="#e3f1ec"/><stop offset=".42" stop-color="#e1f2f3"/><stop offset=".52" stop-color="#d3ecf4"/><stop offset=".60" stop-color="#bee2ee"/><stop offset=".69" stop-color="#a5d4e6"/><stop offset=".75" stop-color="#a2d2e5"/><stop offset=".81" stop-color="#91c4de"/><stop offset=".84" stop-color="#90c3dd"/><stop offset=".88" stop-color="#88bdda"/><stop offset="1" stop-color="#70a8ce"/></linearGradient><linearGradient id="w145" x1="0" y1="0" x2="0" y2="1"><stop offset="0" stop-color="#dbf0f6"/><stop offset=".12" stop-color="#e3f1ec"/><stop offset=".42" stop-color="#e0f3f7"/><stop offset=".56" stop-color="#d1ebf4"/><stop offset=".62" stop-color="#b2dceb"/><stop offset=".71" stop-color="#abd9e9"/><stop offset=".80" stop-color="#96c9e0"/><stop offset=".84" stop-color="#90c3dd"/><stop offset=".86" stop-color="#8bbfdb"/><stop offset=".90" stop-color="#83b9d8"/><stop offset="1" stop-color="#72aad0"/></linearGradient><linearGradient id="w146" x1="0" y1="0" x2="0" y2="1"><stop offset="0" stop-color="#dbf1f7"/><stop offset=".12" stop-color="#e3f1ee"/><stop offset=".41" stop-color="#e3f1ef"/><stop offset=".52" stop-color="#d8eff6"/><stop offset=".56" stop-color="#bee2ee"/><stop offset=".62" stop-color="#bfe3ef"/><stop offset=".71" stop-color="#a3d3e6"/><stop offset=".77" stop-color="#97c9e0"/><stop offset=".82" stop-color="#97c9e0"/><stop offset="1" stop-color="#72abd0"/></linearGradient><linearGradient id="w147" x1="0" y1="0" x2="0" y2="1"><stop offset="0" stop-color="#daf0f6"/><stop offset=".14" stop-color="#e3f1ee"/><stop offset=".44" stop-color="#e3f1ee"/><stop offset=".53" stop-color="#d7eff5"/><stop offset=".57" stop-color="#d5eef5"/><stop offset=".65" stop-color="#b2ddeb"/><stop offset=".77" stop-color="#9dcee3"/><stop offset=".81" stop-color="#99cbe1"/><stop offset="1" stop-color="#73acd0"/></linearGradient><linearGradient id="w148" x1="0" y1="0" x2="0" y2="1"><stop offset="0" stop-color="#daf0f6"/><stop offset=".12" stop-color="#e4f1eb"/><stop offset=".41" stop-color="#e2f2f1"/><stop offset=".53" stop-color="#d9f0f6"/><stop offset=".63" stop-color="#b5deec"/><stop offset=".79" stop-color="#9acce2"/><stop offset=".98" stop-color="#77afd2"/><stop offset="1" stop-color="#72abd0"/></linearGradient><linearGradient id="w149" x1="0" y1="0" x2="0" y2="1"><stop offset="0" stop-color="#d9f0f6"/><stop offset=".13" stop-color="#e3f1ec"/><stop offset=".46" stop-color="#e1f2f4"/><stop offset=".55" stop-color="#d2ecf4"/><stop offset=".64" stop-color="#b7dfec"/><stop offset=".77" stop-color="#a1d1e5"/><stop offset="1" stop-color="#72aad0"/></linearGradient><linearGradient id="w150" x1="0" y1="0" x2="0" y2="1"><stop offset="0" stop-color="#d9eff6"/><stop offset=".13" stop-color="#e5f0e8"/><stop offset=".44" stop-color="#e3f1ed"/><stop offset=".54" stop-color="#d3edf4"/><stop offset=".77" stop-color="#9bcce2"/><stop offset=".79" stop-color="#9fcfe4"/><stop offset="1" stop-color="#71a9cf"/></linearGradient><linearGradient id="w151" x1="0" y1="0" x2="0" y2="1"><stop offset="0" stop-color="#daf0f6"/><stop offset=".12" stop-color="#e3f1ec"/><stop offset=".42" stop-color="#e3f1ec"/><stop offset=".57" stop-color="#d2ecf4"/><stop offset=".70" stop-color="#acd9e9"/><stop offset=".76" stop-color="#a2d2e5"/><stop offset="1" stop-color="#72aacf"/></linearGradient><linearGradient id="w152" x1="0" y1="0" x2="0" y2="1"><stop offset="0" stop-color="#dbf0f7"/><stop offset=".12" stop-color="#e4f0ea"/><stop offset=".42" stop-color="#e2f2f1"/><stop offset=".55" stop-color="#d6eef5"/><stop offset=".66" stop-color="#b1dceb"/><stop offset=".75" stop-color="#a6d5e7"/><stop offset=".82" stop-color="#94c7df"/><stop offset="1" stop-color="#6da5cd"/></linearGradient><linearGradient id="w153" x1="0" y1="0" x2="0" y2="1"><stop offset="0" stop-color="#d8eff6"/><stop offset=".12" stop-color="#e4f0e9"/><stop offset=".48" stop-color="#e2f2f0"/><stop offset=".57" stop-color="#d4edf5"/><stop offset=".64" stop-color="#bee2ee"/><stop offset="1" stop-color="#78b0d3"/></linearGradient><linearGradient id="w154" x1="0" y1="0" x2="0" y2="1"><stop offset="0" stop-color="#d8eff6"/><stop offset=".12" stop-color="#e4f0e9"/><stop offset=".48" stop-color="#e0f3f7"/><stop offset=".65" stop-color="#c6e6f1"/><stop offset=".72" stop-color="#acdae9"/><stop offset="1" stop-color="#75aed2"/></linearGradient><linearGradient id="w155" x1="0" y1="0" x2="0" y2="1"><stop offset="0" stop-color="#dbf1f7"/><stop offset=".13" stop-color="#e4f0ea"/><stop offset=".46" stop-color="#e3f1ed"/><stop offset=".56" stop-color="#dcf1f7"/><stop offset=".61" stop-color="#d2ecf4"/><stop offset=".70" stop-color="#b3ddeb"/><stop offset=".90" stop-color="#90c3dd"/><stop offset="1" stop-color="#7db4d5"/></linearGradient><linearGradient id="w156" x1="0" y1="0" x2="0" y2="1"><stop offset="0" stop-color="#dcf1f7"/><stop offset=".12" stop-color="#e3f1ef"/><stop offset=".47" stop-color="#e1f2f4"/><stop offset=".58" stop-color="#d7eef5"/><stop offset=".69" stop-color="#b6deec"/><stop offset=".97" stop-color="#7eb5d6"/><stop offset="1" stop-color="#71aacf"/></linearGradient><linearGradient id="w157" x1="0" y1="0" x2="0" y2="1"><stop offset="0" stop-color="#d9eff6"/><stop offset=".10" stop-color="#e3f1ee"/><stop offset=".45" stop-color="#e1f2f3"/><stop offset=".54" stop-color="#d5eef5"/><stop offset=".65" stop-color="#b2dceb"/><stop offset=".90" stop-color="#7fb6d6"/><stop offset=".93" stop-color="#70a8ce"/><stop offset="1" stop-color="#6fa8ce"/></linearGradient><linearGradient id="w158" x1="0" y1="0" x2="0" y2="1"><stop offset="0" stop-color="#dbf1f7"/><stop offset=".11" stop-color="#e5f0e7"/><stop offset=".43" stop-color="#e3f1ed"/><stop offset=".54" stop-color="#d0ebf3"/><stop offset=".64" stop-color="#b3ddeb"/><stop offset=".89" stop-color="#7db4d5"/><stop offset=".90" stop-color="#73acd1"/><stop offset="1" stop-color="#6da4cc"/></linearGradient><linearGradient id="w159" x1="0" y1="0" x2="0" y2="1"><stop offset="0" stop-color="#dff2f8"/><stop offset=".12" stop-color="#e3f1ed"/><stop offset=".44" stop-color="#e1f2f4"/><stop offset=".56" stop-color="#d1ecf4"/><stop offset=".68" stop-color="#b0dcea"/><stop offset=".92" stop-color="#7cb3d4"/><stop offset=".93" stop-color="#78b1d3"/><stop offset="1" stop-color="#72abd0"/></linearGradient><linearGradient id="w160" x1="0" y1="0" x2="0" y2="1"><stop offset="0" stop-color="#d8eff6"/><stop offset=".15" stop-color="#e4f0ea"/><stop offset=".45" stop-color="#e4f1ec"/><stop offset=".57" stop-color="#d4edf4"/><stop offset=".73" stop-color="#a6d5e7"/><stop offset=".91" stop-color="#81b7d7"/><stop offset=".92" stop-color="#76afd2"/><stop offset="1" stop-color="#6fa7ce"/></linearGradient><linearGradient id="w161" x1="0" y1="0" x2="0" y2="1"><stop offset="0" stop-color="#d6eef5"/><stop offset=".13" stop-color="#e4f1eb"/><stop offset=".45" stop-color="#e5f0e8"/><stop offset=".58" stop-color="#d3edf4"/><stop offset=".65" stop-color="#b5deec"/><stop offset=".87" stop-color="#87bcd9"/><stop offset=".88" stop-color="#7fb6d6"/><stop offset="1" stop-color="#71a9cf"/></linearGradient><linearGradient id="w162" x1="0" y1="0" x2="0" y2="1"><stop offset="0" stop-color="#d6eef5"/><stop offset=".13" stop-color="#e3f1ee"/><stop offset=".47" stop-color="#e3f1ee"/><stop offset=".55" stop-color="#d9eff6"/><stop offset=".69" stop-color="#b0dbea"/><stop offset=".85" stop-color="#90c4dd"/><stop offset=".88" stop-color="#81b7d7"/><stop offset="1" stop-color="#76aed2"/></linearGradient><linearGradient id="w163" x1="0" y1="0" x2="0" y2="1"><stop offset="0" stop-color="#ddf2f7"/><stop offset=".14" stop-color="#e5f0e8"/><stop offset=".47" stop-color="#e4f0ea"/><stop offset=".57" stop-color="#d7eff6"/><stop offset=".68" stop-color="#aedaea"/><stop offset=".83" stop-color="#95c7df"/><stop offset=".86" stop-color="#86bcd9"/><stop offset=".99" stop-color="#79b1d3"/><stop offset="1" stop-color="#76aed2"/></linearGradient><linearGradient id="w164" x1="0" y1="0" x2="0" y2="1"><stop offset="0" stop-color="#daf0f6"/><stop offset=".13" stop-color="#e4f0ea"/><stop offset=".46" stop-color="#e4f0ea"/><stop offset=".58" stop-color="#d3edf4"/><stop offset=".69" stop-color="#b4ddeb"/><stop offset=".83" stop-color="#9acce2"/><stop offset=".87" stop-color="#8fc3dd"/><stop offset=".93" stop-color="#87bcd9"/><stop offset=".98" stop-color="#82b8d7"/><stop offset="1" stop-color="#80b7d6"/></linearGradient><linearGradient id="w165" x1="0" y1="0" x2="0" y2="1"><stop offset="0" stop-color="#d9eff6"/><stop offset=".14" stop-color="#e3f1ef"/><stop offset=".45" stop-color="#e4f0e9"/><stop offset=".58" stop-color="#ceeaf3"/><stop offset=".68" stop-color="#aedaea"/><stop offset=".77" stop-color="#a1d1e4"/><stop offset=".80" stop-color="#92c5de"/><stop offset=".86" stop-color="#8dc1dc"/><stop offset=".90" stop-color="#88bdda"/><stop offset=".99" stop-color="#6fa7ce"/><stop offset="1" stop-color="#6fa7ce"/></linearGradient><linearGradient id="w166" x1="0" y1="0" x2="0" y2="1"><stop offset="0" stop-color="#dcf1f7"/><stop offset=".12" stop-color="#e3f1ed"/><stop offset=".45" stop-color="#e4f0ea"/><stop offset=".57" stop-color="#d7eff6"/><stop offset=".68" stop-color="#b3ddeb"/><stop offset=".78" stop-color="#a2d2e5"/><stop offset=".81" stop-color="#96c8e0"/><stop offset=".87" stop-color="#91c4de"/><stop offset=".99" stop-color="#77afd2"/><stop offset="1" stop-color="#76aed2"/></linearGradient><linearGradient id="w167" x1="0" y1="0" x2="0" y2="1"><stop offset="0" stop-color="#daf0f6"/><stop offset=".12" stop-color="#e4f1ec"/><stop offset=".44" stop-color="#e4f0ea"/><stop offset=".56" stop-color="#d1ecf4"/><stop offset=".69" stop-color="#aedaea"/><stop offset=".74" stop-color="#a0d0e4"/><stop offset=".75" stop-color="#9acbe1"/><stop offset=".89" stop-color="#8ec2dc"/><stop offset=".95" stop-color="#7bb3d4"/><stop offset=".99" stop-color="#76afd2"/><stop offset="1" stop-color="#71aacf"/></linearGradient><linearGradient id="w168" x1="0" y1="0" x2="0" y2="1"><stop offset="0" stop-color="#d8eff6"/><stop offset=".15" stop-color="#e4f1ec"/><stop offset=".46" stop-color="#e4f1ec"/><stop offset=".59" stop-color="#d0ebf4"/><stop offset=".74" stop-color="#a0d0e4"/><stop offset=".81" stop-color="#9bcce2"/><stop offset=".93" stop-color="#82b8d7"/><stop offset=".95" stop-color="#7db4d5"/><stop offset=".98" stop-color="#7db5d5"/><stop offset="1" stop-color="#75aed1"/></linearGradient><linearGradient id="w169" x1="0" y1="0" x2="0" y2="1"><stop offset="0" stop-color="#d8eff6"/><stop offset=".13" stop-color="#e4f1eb"/><stop offset=".45" stop-color="#e5f0e7"/><stop offset=".58" stop-color="#d4edf5"/><stop offset=".67" stop-color="#addaea"/><stop offset=".88" stop-color="#8ec2dc"/><stop offset=".93" stop-color="#84bad8"/><stop offset=".96" stop-color="#82b8d7"/><stop offset="1" stop-color="#76aed2"/></linearGradient><linearGradient id="w170" x1="0" y1="0" x2="0" y2="1"><stop offset="0" stop-color="#daf0f6"/><stop offset=".14" stop-color="#e4f0ea"/><stop offset=".45" stop-color="#e4f0ea"/><stop offset=".56" stop-color="#d3edf4"/><stop offset=".60" stop-color="#bae0ed"/><stop offset=".87" stop-color="#91c4dd"/><stop offset=".92" stop-color="#83b9d7"/><stop offset=".98" stop-color="#7ab2d4"/><stop offset="1" stop-color="#72abd0"/></linearGradient><linearGradient id="w171" x1="0" y1="0" x2="0" y2="1"><stop offset="0" stop-color="#d9f0f6"/><stop offset=".12" stop-color="#e4f1ea"/><stop offset=".44" stop-color="#e5f0e8"/><stop offset=".53" stop-color="#d6eef5"/><stop offset=".57" stop-color="#c7e7f1"/><stop offset=".75" stop-color="#a1d1e5"/><stop offset=".86" stop-color="#90c4dd"/><stop offset=".90" stop-color="#85bbd8"/><stop offset=".93" stop-color="#84bad8"/><stop offset="1" stop-color="#72abd0"/></linearGradient><linearGradient id="w172" x1="0" y1="0" x2="0" y2="1"><stop offset="0" stop-color="#dbf0f6"/><stop offset=".13" stop-color="#e4f0e9"/><stop offset=".43" stop-color="#e5f0e6"/><stop offset=".59" stop-color="#c3e5f0"/><stop offset=".69" stop-color="#addaea"/><stop offset=".79" stop-color="#9dcee3"/><stop offset=".88" stop-color="#83b9d8"/><stop offset=".91" stop-color="#87bcd9"/><stop offset="1" stop-color="#73abd0"/></linearGradient><linearGradient id="w173" x1="0" y1="0" x2="0" y2="1"><stop offset="0" stop-color="#dff2f8"/><stop offset=".12" stop-color="#e4f0e9"/><stop offset=".39" stop-color="#e5f0e8"/><stop offset=".45" stop-color="#dbf1f7"/><stop offset=".53" stop-color="#d6eef5"/><stop offset=".66" stop-color="#b4ddeb"/><stop offset=".74" stop-color="#9ecee3"/><stop offset=".82" stop-color="#93c6df"/><stop offset=".86" stop-color="#86bbd9"/><stop offset=".89" stop-color="#86bcd9"/><stop offset=".99" stop-color="#72aacf"/><stop offset="1" stop-color="#71aacf"/></linearGradient><linearGradient id="w174" x1="0" y1="0" x2="0" y2="1"><stop offset="0" stop-color="#ddf2f7"/><stop offset=".12" stop-color="#e3f1ec"/><stop offset=".37" stop-color="#e5f0e6"/><stop offset=".53" stop-color="#d3edf4"/><stop offset=".68" stop-color="#a8d7e8"/><stop offset=".81" stop-color="#94c6df"/><stop offset=".85" stop-color="#88bdda"/><stop offset=".91" stop-color="#81b7d7"/><stop offset=".96" stop-color="#70a8cf"/><stop offset="1" stop-color="#6ba3cc"/></linearGradient><linearGradient id="w175" x1="0" y1="0" x2="0" y2="1"><stop offset="0" stop-color="#dbf1f7"/><stop offset=".12" stop-color="#e5f0e8"/><stop offset=".38" stop-color="#e6efe5"/><stop offset=".55" stop-color="#d5eef5"/><stop offset=".64" stop-color="#b3ddeb"/><stop offset=".80" stop-color="#96c9e0"/><stop offset=".85" stop-color="#8bbfdb"/><stop offset=".91" stop-color="#82b8d7"/><stop offset=".96" stop-color="#73acd1"/><stop offset="1" stop-color="#70a8ce"/></linearGradient><linearGradient id="w176" x1="0" y1="0" x2="0" y2="1"><stop offset="0" stop-color="#dcf1f7"/><stop offset=".12" stop-color="#e3f1ee"/><stop offset=".36" stop-color="#e6efe5"/><stop offset=".43" stop-color="#e1f2f5"/><stop offset=".54" stop-color="#d5eef5"/><stop offset=".68" stop-color="#b0dcea"/><stop offset=".80" stop-color="#94c6df"/><stop offset=".83" stop-color="#90c3dd"/><stop offset=".94" stop-color="#76afd2"/><stop offset=".96" stop-color="#76aed2"/><stop offset=".97" stop-color="#71aacf"/><stop offset=".99" stop-color="#74add1"/><stop offset="1" stop-color="#6fa7ce"/></linearGradient><linearGradient id="w177" x1="0" y1="0" x2="0" y2="1"><stop offset="0" stop-color="#daf0f6"/><stop offset=".12" stop-color="#e4f0e8"/><stop offset=".38" stop-color="#e6efe2"/><stop offset=".44" stop-color="#e5f0e8"/><stop offset=".51" stop-color="#ddf1f7"/><stop offset=".57" stop-color="#d1ecf4"/><stop offset=".73" stop-color="#a5d4e6"/><stop offset=".79" stop-color="#94c7df"/><stop offset=".82" stop-color="#98cae1"/><stop offset=".92" stop-color="#7bb3d4"/><stop offset=".93" stop-color="#7fb6d6"/><stop offset=".95" stop-color="#78b0d3"/><stop offset=".98" stop-color="#74add1"/><stop offset="1" stop-color="#72abd0"/></linearGradient><linearGradient id="w178" x1="0" y1="0" x2="0" y2="1"><stop offset="0" stop-color="#daf0f6"/><stop offset=".12" stop-color="#e3f1ec"/><stop offset=".40" stop-color="#e6efe3"/><stop offset=".58" stop-color="#d9f0f6"/><stop offset=".72" stop-color="#b0dcea"/><stop offset=".81" stop-color="#9ccde2"/><stop offset=".90" stop-color="#8fc2dd"/><stop offset=".93" stop-color="#7fb6d6"/><stop offset=".95" stop-color="#84bad8"/><stop offset="1" stop-color="#76aed2"/></linearGradient><linearGradient id="w179" x1="0" y1="0" x2="0" y2="1"><stop offset="0" stop-color="#d9f0f6"/><stop offset=".12" stop-color="#e4f0e9"/><stop offset=".40" stop-color="#e7efe0"/><stop offset=".48" stop-color="#e4f1ec"/><stop offset=".60" stop-color="#d3edf4"/><stop offset=".71" stop-color="#b3ddeb"/><stop offset=".78" stop-color="#a0d0e4"/><stop offset=".82" stop-color="#a2d2e5"/><stop offset=".92" stop-color="#87bcd9"/><stop offset=".94" stop-color="#8abfdb"/><stop offset=".95" stop-color="#82b8d7"/><stop offset=".97" stop-color="#85bad8"/><stop offset="1" stop-color="#79b1d3"/></linearGradient><linearGradient id="w180" x1="0" y1="0" x2="0" y2="1"><stop offset="0" stop-color="#d9f0f6"/><stop offset=".14" stop-color="#e4f0ea"/><stop offset=".42" stop-color="#e7efe0"/><stop offset=".50" stop-color="#e2f1ef"/><stop offset=".60" stop-color="#d4edf5"/><stop offset=".75" stop-color="#a6d5e7"/><stop offset=".80" stop-color="#a4d3e6"/><stop offset=".90" stop-color="#8abfdb"/><stop offset=".98" stop-color="#7eb5d6"/><stop offset="1" stop-color="#79b1d3"/></linearGradient><linearGradient id="w181" x1="0" y1="0" x2="0" y2="1"><stop offset="0" stop-color="#daf0f6"/><stop offset=".13" stop-color="#e5f0e7"/><stop offset=".43" stop-color="#e6efe4"/><stop offset=".49" stop-color="#e1f2f3"/><stop offset=".60" stop-color="#d3edf4"/><stop offset=".69" stop-color="#b1dceb"/><stop offset=".81" stop-color="#a2d2e5"/><stop offset=".87" stop-color="#91c4de"/><stop offset=".94" stop-color="#83b9d8"/><stop offset="1" stop-color="#7bb3d4"/></linearGradient><linearGradient id="w182" x1="0" y1="0" x2="0" y2="1"><stop offset="0" stop-color="#dcf1f7"/><stop offset=".12" stop-color="#e4f1eb"/><stop offset=".41" stop-color="#e5f0e8"/><stop offset=".48" stop-color="#e3f1ee"/><stop offset=".56" stop-color="#d8eff6"/><stop offset=".62" stop-color="#bfe3ef"/><stop offset=".81" stop-color="#98cae1"/><stop offset=".84" stop-color="#90c4dd"/><stop offset=".86" stop-color="#94c7df"/><stop offset=".87" stop-color="#88bdda"/><stop offset=".89" stop-color="#8ec2dd"/><stop offset=".99" stop-color="#72abd0"/><stop offset="1" stop-color="#77afd2"/></linearGradient><linearGradient id="w183" x1="0" y1="0" x2="0" y2="1"><stop offset="0" stop-color="#ddf1f7"/><stop offset=".12" stop-color="#e4f1eb"/><stop offset=".39" stop-color="#e7efe1"/><stop offset=".45" stop-color="#e6efe4"/><stop offset=".65" stop-color="#c0e3ef"/><stop offset=".74" stop-color="#a9d7e8"/><stop offset=".82" stop-color="#95c7df"/><stop offset=".83" stop-color="#96c8e0"/><stop offset=".85" stop-color="#90c3dd"/><stop offset=".95" stop-color="#81b8d7"/><stop offset=".97" stop-color="#76aed2"/><stop offset=".98" stop-color="#79b1d3"/><stop offset="1" stop-color="#76aed2"/></linearGradient><linearGradient id="w184" x1="0" y1="0" x2="0" y2="1"><stop offset="0" stop-color="#d9eff6"/><stop offset=".13" stop-color="#e4f1ec"/><stop offset=".40" stop-color="#e7efe1"/><stop offset=".46" stop-color="#e4f1ea"/><stop offset=".61" stop-color="#d3edf4"/><stop offset=".68" stop-color="#b5deec"/><stop offset=".80" stop-color="#99cbe1"/><stop offset=".86" stop-color="#95c8df"/><stop offset=".92" stop-color="#86bbd9"/><stop offset=".93" stop-color="#85bbd8"/><stop offset=".95" stop-color="#7db4d5"/><stop offset="1" stop-color="#77b0d2"/></linearGradient><linearGradient id="w185" x1="0" y1="0" x2="0" y2="1"><stop offset="0" stop-color="#d8eff6"/><stop offset=".15" stop-color="#e5f0e7"/><stop offset=".41" stop-color="#e7eedf"/><stop offset=".48" stop-color="#e4f0ea"/><stop offset=".60" stop-color="#d5eef5"/><stop offset=".75" stop-color="#a9d8e8"/><stop offset=".81" stop-color="#9dcee3"/><stop offset=".83" stop-color="#a0d0e4"/><stop offset=".84" stop-color="#97c9e0"/><stop offset=".86" stop-color="#99cbe1"/><stop offset=".92" stop-color="#8bbfdb"/><stop offset=".96" stop-color="#7fb6d6"/><stop offset=".98" stop-color="#84bad8"/><stop offset="1" stop-color="#7cb3d4"/></linearGradient><linearGradient id="w186" x1="0" y1="0" x2="0" y2="1"><stop offset="0" stop-color="#d9eff6"/><stop offset=".15" stop-color="#e4f1eb"/><stop offset=".39" stop-color="#e6efe3"/><stop offset=".48" stop-color="#e7efe1"/><stop offset=".62" stop-color="#cfebf3"/><stop offset=".70" stop-color="#b5deec"/><stop offset=".77" stop-color="#a5d4e6"/><stop offset=".79" stop-color="#9fd0e4"/><stop offset=".80" stop-color="#a7d5e7"/><stop offset=".82" stop-color="#9acce2"/><stop offset=".92" stop-color="#8cc0db"/><stop offset=".94" stop-color="#83b9d8"/><stop offset=".95" stop-color="#87bcd9"/><stop offset="1" stop-color="#7db4d5"/></linearGradient><linearGradient id="w187" x1="0" y1="0" x2="0" y2="1"><stop offset="0" stop-color="#def2f7"/><stop offset=".12" stop-color="#e4f1eb"/><stop offset=".40" stop-color="#e8eedd"/><stop offset=".47" stop-color="#e5f0e7"/><stop offset=".59" stop-color="#d3ecf4"/><stop offset=".76" stop-color="#a3d3e6"/><stop offset=".82" stop-color="#a0d0e4"/><stop offset=".88" stop-color="#95c7df"/><stop offset=".90" stop-color="#92c5de"/><stop offset=".91" stop-color="#8bbfdb"/><stop offset="1" stop-color="#7fb6d6"/></linearGradient><linearGradient id="w188" x1="0" y1="0" x2="0" y2="1"><stop offset="0" stop-color="#dcf1f7"/><stop offset=".12" stop-color="#e5f0e8"/><stop offset=".38" stop-color="#e8eedc"/><stop offset=".46" stop-color="#e6efe2"/><stop offset=".60" stop-color="#d2ecf4"/><stop offset=".69" stop-color="#afdbea"/><stop offset=".74" stop-color="#a7d6e7"/><stop offset=".75" stop-color="#a9d7e8"/><stop offset=".77" stop-color="#a3d3e6"/><stop offset=".78" stop-color="#a3d2e5"/><stop offset=".89" stop-color="#8dc1dc"/><stop offset=".91" stop-color="#8ec2dc"/><stop offset="1" stop-color="#78b0d3"/></linearGradient><linearGradient id="w189" x1="0" y1="0" x2="0" y2="1"><stop offset="0" stop-color="#d8eff6"/><stop offset=".12" stop-color="#e3f1ed"/><stop offset=".39" stop-color="#e7efe0"/><stop offset=".45" stop-color="#e6efe4"/><stop offset=".52" stop-color="#dff3f8"/><stop offset=".58" stop-color="#d4edf5"/><stop offset=".67" stop-color="#b5deec"/><stop offset=".73" stop-color="#afdbea"/><stop offset=".76" stop-color="#a7d6e7"/><stop offset=".83" stop-color="#96c8e0"/><stop offset=".85" stop-color="#97c9e0"/><stop offset=".86" stop-color="#8ec2dc"/><stop offset=".88" stop-color="#8fc3dd"/><stop offset="1" stop-color="#77b0d3"/></linearGradient><linearGradient id="w190" x1="0" y1="0" x2="0" y2="1"><stop offset="0" stop-color="#d5eef5"/><stop offset=".13" stop-color="#e3f1ee"/><stop offset=".39" stop-color="#e9edda"/><stop offset=".48" stop-color="#e5f0e5"/><stop offset=".54" stop-color="#ddf1f7"/><stop offset=".58" stop-color="#d3edf4"/><stop offset=".67" stop-color="#c0e3ef"/><stop offset=".73" stop-color="#acdae9"/><stop offset=".79" stop-color="#a2d2e5"/><stop offset=".84" stop-color="#9acce2"/><stop offset=".85" stop-color="#90c3dd"/><stop offset=".87" stop-color="#95c8df"/><stop offset="1" stop-color="#77afd2"/></linearGradient><linearGradient id="w191" x1="0" y1="0" x2="0" y2="1"><stop offset="0" stop-color="#ddf2f7"/><stop offset=".12" stop-color="#e4f0ea"/><stop offset=".38" stop-color="#e7eedf"/><stop offset=".44" stop-color="#e8eedd"/><stop offset=".53" stop-color="#dbf1f7"/><stop offset=".60" stop-color="#d5edf5"/><stop offset=".66" stop-color="#bbe1ed"/><stop offset=".73" stop-color="#aedaea"/><stop offset=".79" stop-color="#a0d0e4"/><stop offset=".81" stop-color="#a1d1e5"/><stop offset=".82" stop-color="#98cae1"/><stop offset=".93" stop-color="#8abfdb"/><stop offset="1" stop-color="#76aed2"/></linearGradient><linearGradient id="w192" x1="0" y1="0" x2="0" y2="1"><stop offset="0" stop-color="#d9f0f6"/><stop offset=".14" stop-color="#e4f0ea"/><stop offset=".38" stop-color="#e8eedc"/><stop offset=".44" stop-color="#e6efe5"/><stop offset=".47" stop-color="#e2f2f2"/><stop offset=".56" stop-color="#daf0f6"/><stop offset=".61" stop-color="#cce9f2"/><stop offset=".67" stop-color="#bfe3ef"/><stop offset=".76" stop-color="#a5d4e7"/><stop offset=".79" stop-color="#a3d3e6"/><stop offset=".81" stop-color="#9bcce2"/><stop offset=".92" stop-color="#8ec2dc"/><stop offset="1" stop-color="#75aed1"/></linearGradient><linearGradient id="w193" x1="0" y1="0" x2="0" y2="1"><stop offset="0" stop-color="#d9f0f6"/><stop offset=".13" stop-color="#e4f0ea"/><stop offset=".38" stop-color="#e7efe0"/><stop offset=".49" stop-color="#e6efe4"/><stop offset=".54" stop-color="#dbf1f7"/><stop offset=".62" stop-color="#d1ecf4"/><stop offset=".71" stop-color="#b3ddeb"/><stop offset=".81" stop-color="#a3d3e6"/><stop offset=".83" stop-color="#9ecfe3"/><stop offset=".84" stop-color="#a1d1e4"/><stop offset="1" stop-color="#7eb5d5"/></linearGradient><linearGradient id="w194" x1="0" y1="0" x2="0" y2="1"><stop offset="0" stop-color="#d6eef5"/><stop offset=".15" stop-color="#e4f1ea"/><stop offset=".40" stop-color="#e9edd9"/><stop offset=".47" stop-color="#e5f0e8"/><stop offset=".50" stop-color="#e2f2f1"/><stop offset=".61" stop-color="#d5edf5"/><stop offset=".73" stop-color="#aedaea"/><stop offset=".77" stop-color="#a9d7e8"/><stop offset=".79" stop-color="#9dcee3"/><stop offset=".80" stop-color="#a2d2e5"/><stop offset=".95" stop-color="#7fb6d6"/><stop offset=".98" stop-color="#7cb4d5"/><stop offset="1" stop-color="#7db4d5"/></linearGradient><linearGradient id="w195" x1="0" y1="0" x2="0" y2="1"><stop offset="0" stop-color="#ddf2f7"/><stop offset=".12" stop-color="#e3f1ed"/><stop offset=".38" stop-color="#e8eedd"/><stop offset=".48" stop-color="#e7efe1"/><stop offset=".57" stop-color="#dcf1f7"/><stop offset=".63" stop-color="#cae8f2"/><stop offset=".72" stop-color="#b0dcea"/><stop offset=".75" stop-color="#addaea"/><stop offset=".77" stop-color="#a3d2e5"/><stop offset=".78" stop-color="#a8d7e8"/><stop offset=".97" stop-color="#7eb5d5"/><stop offset="1" stop-color="#81b8d7"/></linearGradient><linearGradient id="w196" x1="0" y1="0" x2="0" y2="1"><stop offset="0" stop-color="#ddf1f7"/><stop offset=".14" stop-color="#e4f0e9"/><stop offset=".40" stop-color="#e9edd9"/><stop offset=".47" stop-color="#e4f0e9"/><stop offset=".61" stop-color="#d0ebf3"/><stop offset=".73" stop-color="#b1dceb"/><stop offset=".75" stop-color="#a9d7e8"/><stop offset=".85" stop-color="#9bcce2"/><stop offset=".95" stop-color="#83b9d7"/><stop offset=".99" stop-color="#83b9d7"/><stop offset="1" stop-color="#7eb5d5"/></linearGradient><linearGradient id="w197" x1="0" y1="0" x2="0" y2="1"><stop offset="0" stop-color="#d8eff6"/><stop offset=".14" stop-color="#e4f1eb"/><stop offset=".40" stop-color="#e9edd9"/><stop offset=".49" stop-color="#e7eede"/><stop offset=".52" stop-color="#e1f3f5"/><stop offset=".63" stop-color="#d3ecf4"/><stop offset=".67" stop-color="#c4e5f0"/><stop offset=".72" stop-color="#aedaea"/><stop offset=".81" stop-color="#a5d4e6"/><stop offset=".93" stop-color="#86bbd9"/><stop offset=".98" stop-color="#87bcd9"/><stop offset="1" stop-color="#7eb5d5"/></linearGradient><linearGradient id="w198" x1="0" y1="0" x2="0" y2="1"><stop offset="0" stop-color="#dbf1f7"/><stop offset=".11" stop-color="#e4f1ec"/><stop offset=".39" stop-color="#e9eeda"/><stop offset=".47" stop-color="#e5f0e8"/><stop offset=".52" stop-color="#dff2f8"/><stop offset=".59" stop-color="#daf0f6"/><stop offset=".66" stop-color="#bbe1ed"/><stop offset=".73" stop-color="#b2dceb"/><stop offset=".89" stop-color="#92c5de"/><stop offset=".92" stop-color="#8dc1dc"/><stop offset=".95" stop-color="#88bdda"/><stop offset="1" stop-color="#7cb3d4"/></linearGradient><linearGradient id="w199" x1="0" y1="0" x2="0" y2="1"><stop offset="0" stop-color="#dcf1f7"/><stop offset=".14" stop-color="#e5f0e7"/><stop offset=".39" stop-color="#e9eeda"/><stop offset=".48" stop-color="#e7efe0"/><stop offset=".57" stop-color="#d9eff6"/><stop offset=".60" stop-color="#ceeaf3"/><stop offset=".67" stop-color="#c5e6f0"/><stop offset=".73" stop-color="#aedbea"/><stop offset=".81" stop-color="#a6d5e7"/><stop offset=".90" stop-color="#8dc1dc"/><stop offset=".95" stop-color="#8abfdb"/><stop offset="1" stop-color="#7db4d5"/></linearGradient><linearGradient id="w200" x1="0" y1="0" x2="0" y2="1"><stop offset="0" stop-color="#dbf0f7"/><stop offset=".12" stop-color="#e3f1ed"/><stop offset=".39" stop-color="#eaedd5"/><stop offset=".47" stop-color="#e5f0e5"/><stop offset=".53" stop-color="#dcf1f7"/><stop offset=".61" stop-color="#d5eef5"/><stop offset=".67" stop-color="#c1e4ef"/><stop offset=".88" stop-color="#91c4dd"/><stop offset=".92" stop-color="#93c6df"/><stop offset=".98" stop-color="#7fb6d6"/><stop offset="1" stop-color="#7cb3d4"/></linearGradient><linearGradient id="w201" x1="0" y1="0" x2="0" y2="1"><stop offset="0" stop-color="#ddf1f7"/><stop offset=".13" stop-color="#e6efe5"/><stop offset=".40" stop-color="#eaedd5"/><stop offset=".46" stop-color="#e6efe2"/><stop offset=".50" stop-color="#e4f1eb"/><stop offset=".62" stop-color="#d4edf5"/><stop offset=".88" stop-color="#92c5de"/><stop offset=".93" stop-color="#94c7df"/><stop offset="1" stop-color="#7fb6d6"/></linearGradient><linearGradient id="w202" x1="0" y1="0" x2="0" y2="1"><stop offset="0" stop-color="#daf0f6"/><stop offset=".14" stop-color="#e3f1ec"/><stop offset=".38" stop-color="#eaedd5"/><stop offset=".50" stop-color="#e7efe1"/><stop offset=".54" stop-color="#dff3f8"/><stop offset=".65" stop-color="#d3edf4"/><stop offset=".79" stop-color="#a7d6e7"/><stop offset=".87" stop-color="#99cae1"/><stop offset=".90" stop-color="#9bcce2"/><stop offset=".99" stop-color="#7bb3d4"/><stop offset="1" stop-color="#80b7d6"/></linearGradient><linearGradient id="w203" x1="0" y1="0" x2="0" y2="1"><stop offset="0" stop-color="#dbf1f7"/><stop offset=".12" stop-color="#e4f0e9"/><stop offset=".31" stop-color="#e9edd8"/><stop offset=".44" stop-color="#e8eedb"/><stop offset=".48" stop-color="#e7efe1"/><stop offset=".53" stop-color="#e1f3f6"/><stop offset=".62" stop-color="#d5edf5"/><stop offset=".77" stop-color="#a9d7e8"/><stop offset=".83" stop-color="#99cbe1"/><stop offset=".88" stop-color="#9acbe1"/><stop offset=".92" stop-color="#89beda"/><stop offset="1" stop-color="#7eb5d5"/></linearGradient><linearGradient id="w204" x1="0" y1="0" x2="0" y2="1"><stop offset="0" stop-color="#ddf2f7"/><stop offset=".13" stop-color="#e4f0e9"/><stop offset=".26" stop-color="#e8eede"/><stop offset=".42" stop-color="#eaedd6"/><stop offset=".52" stop-color="#e7eedf"/><stop offset=".56" stop-color="#e1f2f5"/><stop offset=".66" stop-color="#d1ecf4"/><stop offset=".74" stop-color="#b3ddeb"/><stop offset=".84" stop-color="#9fcfe4"/><stop offset=".89" stop-color="#9ecfe3"/><stop offset=".97" stop-color="#86bcd9"/><stop offset=".98" stop-color="#8abfdb"/><stop offset="1" stop-color="#81b8d7"/></linearGradient><linearGradient id="w205" x1="0" y1="0" x2="0" y2="1"><stop offset="0" stop-color="#daf0f6"/><stop offset=".13" stop-color="#e4f0ea"/><stop offset=".41" stop-color="#ebecd2"/><stop offset=".51" stop-color="#e7efe1"/><stop offset=".54" stop-color="#e2f2f2"/><stop offset=".62" stop-color="#d6eef5"/><stop offset=".71" stop-color="#b4deec"/><stop offset=".79" stop-color="#a4d4e6"/><stop offset=".84" stop-color="#a2d2e5"/><stop offset=".86" stop-color="#9bcde2"/><stop offset=".98" stop-color="#81b7d7"/><stop offset="1" stop-color="#7bb3d4"/></linearGradient><linearGradient id="w206" x1="0" y1="0" x2="0" y2="1"><stop offset="0" stop-color="#daf0f6"/><stop offset=".12" stop-color="#e2f2f0"/><stop offset=".36" stop-color="#eaedd4"/><stop offset=".50" stop-color="#e7efe0"/><stop offset=".55" stop-color="#ddf2f7"/><stop offset=".62" stop-color="#d2ecf4"/><stop offset=".75" stop-color="#a9d7e8"/><stop offset=".81" stop-color="#a5d4e6"/><stop offset=".89" stop-color="#8ec2dc"/><stop offset=".95" stop-color="#86bbd9"/><stop offset=".97" stop-color="#7db4d5"/><stop offset="1" stop-color="#7bb3d4"/></linearGradient><linearGradient id="w207" x1="0" y1="0" x2="0" y2="1"><stop offset="0" stop-color="#dbf0f6"/><stop offset=".12" stop-color="#e4f1eb"/><stop offset=".41" stop-color="#ebecd1"/><stop offset=".48" stop-color="#e5f0e5"/><stop offset=".52" stop-color="#e0f3f7"/><stop offset=".61" stop-color="#d4edf5"/><stop offset=".73" stop-color="#aedaea"/><stop offset=".80" stop-color="#acd9e9"/><stop offset=".84" stop-color="#98cae1"/><stop offset=".94" stop-color="#88bdda"/><stop offset=".98" stop-color="#7cb3d4"/><stop offset="1" stop-color="#7bb2d4"/></linearGradient><linearGradient id="w208" x1="0" y1="0" x2="0" y2="1"><stop offset="0" stop-color="#daf0f6"/><stop offset=".12" stop-color="#e3f1ed"/><stop offset=".33" stop-color="#eaedd6"/><stop offset=".41" stop-color="#eaedd6"/><stop offset=".48" stop-color="#e6efe4"/><stop offset=".52" stop-color="#e1f2f5"/><stop offset=".61" stop-color="#d2ecf4"/><stop offset=".70" stop-color="#b1dceb"/><stop offset=".78" stop-color="#abd9e9"/><stop offset=".83" stop-color="#9ccde3"/><stop offset=".86" stop-color="#97c9e0"/><stop offset=".88" stop-color="#98cae1"/><stop offset=".97" stop-color="#84b9d8"/><stop offset="1" stop-color="#78b1d3"/></linearGradient><linearGradient id="w209" x1="0" y1="0" x2="0" y2="1"><stop offset="0" stop-color="#dbf1f7"/><stop offset=".13" stop-color="#e4f1eb"/><stop offset=".33" stop-color="#e8eedc"/><stop offset=".41" stop-color="#eaecd4"/><stop offset=".51" stop-color="#e8eedd"/><stop offset=".54" stop-color="#e0f3f8"/><stop offset=".62" stop-color="#d5eef5"/><stop offset=".70" stop-color="#bee2ee"/><stop offset=".77" stop-color="#b5deec"/><stop offset=".80" stop-color="#aedbea"/><stop offset=".89" stop-color="#97c9e0"/><stop offset=".90" stop-color="#9bcce2"/><stop offset=".98" stop-color="#87bcd9"/><stop offset="1" stop-color="#84bad8"/></linearGradient><linearGradient id="w210" x1="0" y1="0" x2="0" y2="1"><stop offset="0" stop-color="#dcf1f7"/><stop offset=".15" stop-color="#e4f0ea"/><stop offset=".31" stop-color="#e8eedc"/><stop offset=".43" stop-color="#ebecd1"/><stop offset=".51" stop-color="#e7efe1"/><stop offset=".54" stop-color="#e1f2f4"/><stop offset=".79" stop-color="#b4deec"/><stop offset=".87" stop-color="#a0d0e4"/><stop offset=".93" stop-color="#97c9e0"/><stop offset=".95" stop-color="#8dc1dc"/><stop offset="1" stop-color="#89beda"/></linearGradient><linearGradient id="w211" x1="0" y1="0" x2="0" y2="1"><stop offset="0" stop-color="#dbf1f7"/><stop offset=".14" stop-color="#e3f1ed"/><stop offset=".34" stop-color="#eaecd4"/><stop offset=".42" stop-color="#eaedd6"/><stop offset=".48" stop-color="#e6efe3"/><stop offset=".51" stop-color="#e1f2f5"/><stop offset=".66" stop-color="#d1ecf4"/><stop offset=".74" stop-color="#bce1ee"/><stop offset=".78" stop-color="#addae9"/><stop offset=".83" stop-color="#9fd0e4"/><stop offset=".85" stop-color="#a4d3e6"/><stop offset=".86" stop-color="#97c9e0"/><stop offset=".88" stop-color="#9ccde2"/><stop offset=".91" stop-color="#90c3dd"/><stop offset="1" stop-color="#83b9d7"/></linearGradient><linearGradient id="w212" x1="0" y1="0" x2="0" y2="1"><stop offset="0" stop-color="#dbf1f7"/><stop offset=".14" stop-color="#e3f1ed"/><stop offset=".40" stop-color="#ebecd0"/><stop offset=".49" stop-color="#e6efe3"/><stop offset=".52" stop-color="#e2f2f3"/><stop offset=".67" stop-color="#d4edf5"/><stop offset=".73" stop-color="#b7dfed"/><stop offset=".81" stop-color="#a7d6e7"/><stop offset=".83" stop-color="#a5d5e7"/><stop offset=".92" stop-color="#90c4dd"/><stop offset=".97" stop-color="#85bbd8"/><stop offset="1" stop-color="#81b7d7"/></linearGradient><linearGradient id="w213" x1="0" y1="0" x2="0" y2="1"><stop offset="0" stop-color="#daf0f6"/><stop offset=".13" stop-color="#e4f1eb"/><stop offset=".30" stop-color="#ebecd3"/><stop offset=".38" stop-color="#eaedd5"/><stop offset=".51" stop-color="#e5f0e7"/><stop offset=".54" stop-color="#e2f2f1"/><stop offset=".62" stop-color="#d7eef5"/><stop offset=".75" stop-color="#b0dbea"/><stop offset=".78" stop-color="#a8d6e8"/><stop offset=".80" stop-color="#a9d7e8"/><stop offset=".90" stop-color="#91c4de"/><stop offset=".94" stop-color="#88bdda"/><stop offset="1" stop-color="#83b9d8"/></linearGradient><linearGradient id="w214" x1="0" y1="0" x2="0" y2="1"><stop offset="0" stop-color="#dcf1f7"/><stop offset=".13" stop-color="#e4f0e9"/><stop offset=".29" stop-color="#e8eedc"/><stop offset=".40" stop-color="#ecebce"/><stop offset=".52" stop-color="#e8eedd"/><stop offset=".56" stop-color="#dff2f8"/><stop offset=".63" stop-color="#d4edf5"/><stop offset=".71" stop-color="#b2ddeb"/><stop offset=".76" stop-color="#abd9e9"/><stop offset=".78" stop-color="#afdbea"/><stop offset=".79" stop-color="#a5d4e6"/><stop offset=".92" stop-color="#8bbfdb"/><stop offset=".94" stop-color="#8dc1dc"/><stop offset="1" stop-color="#81b7d6"/></linearGradient><linearGradient id="w215" x1="0" y1="0" x2="0" y2="1"><stop offset="0" stop-color="#d9eff6"/><stop offset=".13" stop-color="#e4f1eb"/><stop offset=".27" stop-color="#e8eedc"/><stop offset=".43" stop-color="#ebecd3"/><stop offset=".51" stop-color="#e6efe4"/><stop offset=".52" stop-color="#e2f2f2"/><stop offset=".62" stop-color="#d8eff6"/><stop offset=".68" stop-color="#c3e5f0"/><stop offset=".75" stop-color="#b0dcea"/><stop offset=".81" stop-color="#a5d4e6"/><stop offset=".83" stop-color="#9ecfe3"/><stop offset="1" stop-color="#85bbd9"/></linearGradient><linearGradient id="w216" x1="0" y1="0" x2="0" y2="1"><stop offset="0" stop-color="#dbf1f7"/><stop offset=".13" stop-color="#e4f1eb"/><stop offset=".42" stop-color="#ececcf"/><stop offset=".51" stop-color="#e5f0e7"/><stop offset=".54" stop-color="#dff3f8"/><stop offset=".66" stop-color="#cdeaf3"/><stop offset=".72" stop-color="#b4ddeb"/><stop offset=".75" stop-color="#b2dceb"/><stop offset=".77" stop-color="#addae9"/><stop offset=".78" stop-color="#afdbea"/><stop offset=".80" stop-color="#a4d4e6"/><stop offset=".90" stop-color="#93c6df"/><stop offset="1" stop-color="#88bdda"/></linearGradient><linearGradient id="w217" x1="0" y1="0" x2="0" y2="1"><stop offset="0" stop-color="#dcf1f7"/><stop offset=".11" stop-color="#e5f0e8"/><stop offset=".35" stop-color="#e9edd8"/><stop offset=".45" stop-color="#e9edd9"/><stop offset=".48" stop-color="#e9eeda"/><stop offset=".51" stop-color="#e1f2f3"/><stop offset=".61" stop-color="#d6eef5"/><stop offset=".66" stop-color="#c7e7f1"/><stop offset=".72" stop-color="#bbe1ed"/><stop offset=".78" stop-color="#a8d6e8"/><stop offset=".86" stop-color="#97c9e0"/><stop offset=".93" stop-color="#8fc2dd"/><stop offset="1" stop-color="#86bbd9"/></linearGradient><linearGradient id="w218" x1="0" y1="0" x2="0" y2="1"><stop offset="0" stop-color="#d8eff6"/><stop offset=".13" stop-color="#e3f1ef"/><stop offset=".29" stop-color="#e7eede"/><stop offset=".41" stop-color="#eaecd4"/><stop offset=".49" stop-color="#e7efe0"/><stop offset=".52" stop-color="#e3f1ef"/><stop offset=".65" stop-color="#d1ecf4"/><stop offset=".71" stop-color="#b6deec"/><stop offset=".75" stop-color="#b2dceb"/><stop offset=".76" stop-color="#a6d5e7"/><stop offset=".94" stop-color="#8ec2dc"/><stop offset="1" stop-color="#89beda"/></linearGradient><linearGradient id="w219" x1="0" y1="0" x2="0" y2="1"><stop offset="0" stop-color="#daf0f6"/><stop offset=".13" stop-color="#e4f0ea"/><stop offset=".27" stop-color="#e6efe4"/><stop offset=".39" stop-color="#ebecd3"/><stop offset=".48" stop-color="#e6efe4"/><stop offset=".52" stop-color="#e3f1ed"/><stop offset=".61" stop-color="#d8eff6"/><stop offset=".68" stop-color="#c4e5f0"/><stop offset=".73" stop-color="#b8dfed"/><stop offset=".76" stop-color="#abd9e9"/><stop offset=".84" stop-color="#9fcfe4"/><stop offset=".85" stop-color="#9ecfe3"/><stop offset=".98" stop-color="#89beda"/><stop offset="1" stop-color="#8dc1dc"/></linearGradient><linearGradient id="w220" x1="0" y1="0" x2="0" y2="1"><stop offset="0" stop-color="#daf0f6"/><stop offset=".13" stop-color="#e3f1ed"/><stop offset=".29" stop-color="#e8eedc"/><stop offset=".38" stop-color="#edebcd"/><stop offset=".51" stop-color="#e6efe2"/><stop offset=".57" stop-color="#dcf1f7"/><stop offset=".67" stop-color="#c5e6f0"/><stop offset=".71" stop-color="#b2ddeb"/><stop offset=".83" stop-color="#a0d0e4"/><stop offset=".84" stop-color="#a0d0e4"/><stop offset=".97" stop-color="#89beda"/><stop offset=".98" stop-color="#8ec2dc"/><stop offset="1" stop-color="#8abeda"/></linearGradient><linearGradient id="w221" x1="0" y1="0" x2="0" y2="1"><stop offset="0" stop-color="#dbf0f6"/><stop offset=".16" stop-color="#e4f0ea"/><stop offset=".22" stop-color="#e5f0e8"/><stop offset=".28" stop-color="#ececcf"/><stop offset=".46" stop-color="#eaedd5"/><stop offset=".57" stop-color="#ddf1f7"/><stop offset=".63" stop-color="#d2ecf4"/><stop offset=".75" stop-color="#afdbea"/><stop offset="1" stop-color="#7cb4d5"/></linearGradient><linearGradient id="w222" x1="0" y1="0" x2="0" y2="1"><stop offset="0" stop-color="#dbf1f7"/><stop offset=".15" stop-color="#e4f1eb"/><stop offset=".24" stop-color="#e5f0e7"/><stop offset=".31" stop-color="#ecebce"/><stop offset=".43" stop-color="#edebca"/><stop offset=".51" stop-color="#def2f8"/><stop offset=".60" stop-color="#d5edf5"/><stop offset=".72" stop-color="#b0dcea"/><stop offset="1" stop-color="#74add1"/></linearGradient><linearGradient id="w223" x1="0" y1="0" x2="0" y2="1"><stop offset="0" stop-color="#ddf1f7"/><stop offset=".16" stop-color="#e4f0ea"/><stop offset=".23" stop-color="#e4f0e8"/><stop offset=".29" stop-color="#ececcf"/><stop offset=".41" stop-color="#eaecd4"/><stop offset=".51" stop-color="#def2f8"/><stop offset=".57" stop-color="#d0ebf3"/><stop offset=".67" stop-color="#afdbea"/><stop offset="1" stop-color="#6ea5cd"/></linearGradient><linearGradient id="w224" x1="0" y1="0" x2="0" y2="1"><stop offset="0" stop-color="#dbf1f7"/><stop offset=".15" stop-color="#e4f0ea"/><stop offset=".23" stop-color="#e5f0e7"/><stop offset=".28" stop-color="#ecebce"/><stop offset=".39" stop-color="#ebecd3"/><stop offset=".48" stop-color="#def2f8"/><stop offset=".56" stop-color="#d0ebf3"/><stop offset=".69" stop-color="#acdae9"/><stop offset=".96" stop-color="#72abd0"/><stop offset="1" stop-color="#6da4cc"/></linearGradient><linearGradient id="w225" x1="0" y1="0" x2="0" y2="1"><stop offset="0" stop-color="#d9f0f6"/><stop offset=".15" stop-color="#e2f2f1"/><stop offset=".21" stop-color="#e5f0e6"/><stop offset=".26" stop-color="#edebcc"/><stop offset=".38" stop-color="#ebecd1"/><stop offset=".46" stop-color="#e2f2f1"/><stop offset=".53" stop-color="#d5eef5"/><stop offset=".62" stop-color="#b1dceb"/><stop offset=".99" stop-color="#679dc9"/><stop offset="1" stop-color="#6aa1cb"/></linearGradient><linearGradient id="w226" x1="0" y1="0" x2="0" y2="1"><stop offset="0" stop-color="#dbf1f7"/><stop offset=".15" stop-color="#e4f0ea"/><stop offset=".21" stop-color="#e5f0e6"/><stop offset=".26" stop-color="#edeac9"/><stop offset=".37" stop-color="#ebecd3"/><stop offset=".44" stop-color="#dff3f8"/><stop offset=".51" stop-color="#d3edf4"/><stop offset=".62" stop-color="#b2dceb"/><stop offset=".90" stop-color="#71a9cf"/><stop offset="1" stop-color="#699fca"/></linearGradient><linearGradient id="w227" x1="0" y1="0" x2="0" y2="1"><stop offset="0" stop-color="#def2f7"/><stop offset=".14" stop-color="#e2f2f0"/><stop offset=".20" stop-color="#e5f0e8"/><stop offset=".25" stop-color="#edebcc"/><stop offset=".35" stop-color="#eaecd4"/><stop offset=".45" stop-color="#dff3f8"/><stop offset=".52" stop-color="#d3edf4"/><stop offset=".60" stop-color="#b4ddeb"/><stop offset=".91" stop-color="#73acd1"/><stop offset="1" stop-color="#6aa1cb"/></linearGradient><linearGradient id="w228" x1="0" y1="0" x2="0" y2="1"><stop offset="0" stop-color="#d9eff6"/><stop offset=".14" stop-color="#e4f1eb"/><stop offset=".19" stop-color="#eaecd4"/><stop offset=".27" stop-color="#ececcf"/><stop offset=".34" stop-color="#ecebcd"/><stop offset=".42" stop-color="#def2f7"/><stop offset=".48" stop-color="#d5edf5"/><stop offset=".58" stop-color="#b3ddeb"/><stop offset=".93" stop-color="#6fa8ce"/><stop offset="1" stop-color="#679ec9"/></linearGradient><linearGradient id="w229" x1="0" y1="0" x2="0" y2="1"><stop offset="0" stop-color="#ddf1f7"/><stop offset=".13" stop-color="#e3f1ed"/><stop offset=".17" stop-color="#e7efe1"/><stop offset=".21" stop-color="#ecebcf"/><stop offset=".30" stop-color="#ecebcd"/><stop offset=".37" stop-color="#e1f2f4"/><stop offset=".46" stop-color="#d3ecf4"/><stop offset=".58" stop-color="#addaea"/><stop offset=".92" stop-color="#6ca3cc"/><stop offset="1" stop-color="#6197c5"/></linearGradient><linearGradient id="w230" x1="0" y1="0" x2="0" y2="1"><stop offset="0" stop-color="#daf0f6"/><stop offset=".15" stop-color="#e4f0ea"/><stop offset=".19" stop-color="#ececd0"/><stop offset=".32" stop-color="#ebecd3"/><stop offset=".41" stop-color="#ddf1f7"/><stop offset=".46" stop-color="#d2ecf4"/><stop offset=".57" stop-color="#b3ddeb"/><stop offset=".95" stop-color="#669cc8"/><stop offset="1" stop-color="#5e93c4"/></linearGradient><linearGradient id="w231" x1="0" y1="0" x2="0" y2="1"><stop offset="0" stop-color="#d9f0f6"/><stop offset=".16" stop-color="#e7eedf"/><stop offset=".21" stop-color="#ecebcd"/><stop offset=".32" stop-color="#ebecd2"/><stop offset=".39" stop-color="#e1f2f4"/><stop offset=".48" stop-color="#d2ecf4"/><stop offset=".59" stop-color="#afdbea"/><stop offset=".87" stop-color="#6fa7ce"/><stop offset="1" stop-color="#5f94c4"/></linearGradient><linearGradient id="w232" x1="0" y1="0" x2="0" y2="1"><stop offset="0" stop-color="#dcf1f7"/><stop offset=".15" stop-color="#e6efe4"/><stop offset=".20" stop-color="#ececcf"/><stop offset=".32" stop-color="#ebecd2"/><stop offset=".41" stop-color="#dff2f8"/><stop offset=".47" stop-color="#d5eef5"/><stop offset=".57" stop-color="#aedaea"/><stop offset=".84" stop-color="#72abd0"/><stop offset="1" stop-color="#6196c5"/></linearGradient><linearGradient id="w233" x1="0" y1="0" x2="0" y2="1"><stop offset="0" stop-color="#dbf1f7"/><stop offset=".16" stop-color="#e8eedd"/><stop offset=".22" stop-color="#ecebce"/><stop offset=".32" stop-color="#eaedd6"/><stop offset=".39" stop-color="#def2f7"/><stop offset=".45" stop-color="#d3edf4"/><stop offset=".53" stop-color="#b1dceb"/><stop offset=".91" stop-color="#6aa2cb"/><stop offset="1" stop-color="#6196c5"/></linearGradient><linearGradient id="w234" x1="0" y1="0" x2="0" y2="1"><stop offset="0" stop-color="#dbf1f7"/><stop offset=".16" stop-color="#e5f0e6"/><stop offset=".20" stop-color="#ececd0"/><stop offset=".28" stop-color="#ecebce"/><stop offset=".34" stop-color="#e2f2f1"/><stop offset=".43" stop-color="#d1ecf4"/><stop offset=".53" stop-color="#b3ddeb"/><stop offset=".89" stop-color="#6da4cc"/><stop offset="1" stop-color="#6095c4"/></linearGradient><linearGradient id="w235" x1="0" y1="0" x2="0" y2="1"><stop offset="0" stop-color="#dbf1f7"/><stop offset=".12" stop-color="#e5f0e6"/><stop offset=".16" stop-color="#edebcb"/><stop offset=".27" stop-color="#ebecd2"/><stop offset=".34" stop-color="#e0f3f8"/><stop offset=".43" stop-color="#d0ebf4"/><stop offset=".57" stop-color="#abd9e9"/><stop offset=".89" stop-color="#6ca3cc"/><stop offset="1" stop-color="#5d92c3"/></linearGradient><linearGradient id="w236" x1="0" y1="0" x2="0" y2="1"><stop offset="0" stop-color="#ddf1f7"/><stop offset=".12" stop-color="#e6efe4"/><stop offset=".16" stop-color="#ecebcf"/><stop offset=".27" stop-color="#eaecd4"/><stop offset=".35" stop-color="#e2f2f2"/><stop offset=".43" stop-color="#d4edf5"/><stop offset=".52" stop-color="#b4deec"/><stop offset=".85" stop-color="#6da5cd"/><stop offset="1" stop-color="#5a8ec1"/></linearGradient><linearGradient id="w237" x1="0" y1="0" x2="0" y2="1"><stop offset="0" stop-color="#dbf1f7"/><stop offset=".13" stop-color="#e5f0e7"/><stop offset=".18" stop-color="#ebecd1"/><stop offset=".29" stop-color="#eaedd7"/><stop offset=".35" stop-color="#e1f3f5"/><stop offset=".43" stop-color="#d4edf5"/><stop offset=".54" stop-color="#b1dceb"/><stop offset=".84" stop-color="#6ea6cd"/><stop offset="1" stop-color="#598dc1"/></linearGradient><linearGradient id="w238" x1="0" y1="0" x2="0" y2="1"><stop offset="0" stop-color="#dbf1f7"/><stop offset=".13" stop-color="#e7efdf"/><stop offset=".17" stop-color="#ecebcf"/><stop offset=".27" stop-color="#ebecd1"/><stop offset=".35" stop-color="#e0f3f7"/><stop offset=".42" stop-color="#d3ecf4"/><stop offset=".51" stop-color="#b3ddeb"/><stop offset=".82" stop-color="#6ba3cc"/><stop offset="1" stop-color="#5a8ec1"/></linearGradient><linearGradient id="w239" x1="0" y1="0" x2="0" y2="1"><stop offset="0" stop-color="#dff2f8"/><stop offset=".12" stop-color="#e6efe2"/><stop offset=".16" stop-color="#ecebce"/><stop offset=".26" stop-color="#edebcc"/><stop offset=".34" stop-color="#dff3f8"/><stop offset=".41" stop-color="#d3ecf4"/><stop offset=".51" stop-color="#acdae9"/><stop offset=".82" stop-color="#70a8ce"/><stop offset="1" stop-color="#5e92c3"/></linearGradient><linearGradient id="w240" x1="0" y1="0" x2="0" y2="1"><stop offset="0" stop-color="#ddf1f7"/><stop offset=".11" stop-color="#e5f0e5"/><stop offset=".15" stop-color="#ececd0"/><stop offset=".24" stop-color="#edebcc"/><stop offset=".32" stop-color="#def2f7"/><stop offset=".39" stop-color="#d5eef5"/><stop offset=".50" stop-color="#aedaea"/><stop offset=".86" stop-color="#6da5cd"/><stop offset="1" stop-color="#5c91c2"/></linearGradient><linearGradient id="w241" x1="0" y1="0" x2="0" y2="1"><stop offset="0" stop-color="#dcf1f7"/><stop offset=".10" stop-color="#e7eede"/><stop offset=".14" stop-color="#ecebce"/><stop offset=".24" stop-color="#ebecd1"/><stop offset=".30" stop-color="#e1f3f6"/><stop offset=".38" stop-color="#d1ebf4"/><stop offset=".50" stop-color="#b1dceb"/><stop offset=".84" stop-color="#6aa1cb"/><stop offset="1" stop-color="#598dc0"/></linearGradient><linearGradient id="w242" x1="0" y1="0" x2="0" y2="1"><stop offset="0" stop-color="#dcf1f7"/><stop offset=".09" stop-color="#e6efe3"/><stop offset=".13" stop-color="#ebecd1"/><stop offset=".24" stop-color="#ecebce"/><stop offset=".32" stop-color="#dff2f8"/><stop offset=".40" stop-color="#d3edf4"/><stop offset=".52" stop-color="#b0dbea"/><stop offset=".82" stop-color="#6ea6ce"/><stop offset="1" stop-color="#5486bd"/></linearGradient><linearGradient id="w243" x1="0" y1="0" x2="0" y2="1"><stop offset="0" stop-color="#dbf1f7"/><stop offset=".10" stop-color="#e7eedf"/><stop offset=".14" stop-color="#eeeac9"/><stop offset=".25" stop-color="#ebecd1"/><stop offset=".32" stop-color="#e1f2f4"/><stop offset=".40" stop-color="#d2ecf4"/><stop offset=".49" stop-color="#aedbea"/><stop offset=".82" stop-color="#6aa1cb"/><stop offset="1" stop-color="#598dc0"/></linearGradient><linearGradient id="w244" x1="0" y1="0" x2="0" y2="1"><stop offset="0" stop-color="#def2f8"/><stop offset=".10" stop-color="#e6efe4"/><stop offset=".15" stop-color="#ecebcd"/><stop offset=".26" stop-color="#e8eedb"/><stop offset=".32" stop-color="#dff2f8"/><stop offset=".39" stop-color="#d4edf5"/><stop offset=".49" stop-color="#b2dceb"/><stop offset=".72" stop-color="#78b0d3"/><stop offset="1" stop-color="#5487bd"/></linearGradient><linearGradient id="w245" x1="0" y1="0" x2="0" y2="1"><stop offset="0" stop-color="#daf0f6"/><stop offset=".10" stop-color="#e5f0e7"/><stop offset=".14" stop-color="#ebecd1"/><stop offset=".25" stop-color="#ebecd2"/><stop offset=".33" stop-color="#e1f2f4"/><stop offset=".39" stop-color="#d4edf5"/><stop offset=".47" stop-color="#b4ddeb"/><stop offset=".75" stop-color="#79b1d3"/><stop offset=".93" stop-color="#6196c5"/><stop offset="1" stop-color="#588cc0"/></linearGradient><linearGradient id="w246" x1="0" y1="0" x2="0" y2="1"><stop offset="0" stop-color="#daf0f6"/><stop offset=".10" stop-color="#e6efe3"/><stop offset=".16" stop-color="#ebecd0"/><stop offset=".25" stop-color="#ebecd2"/><stop offset=".31" stop-color="#e1f2f5"/><stop offset=".39" stop-color="#d3ecf4"/><stop offset=".63" stop-color="#93c6de"/><stop offset=".82" stop-color="#6ea6cd"/><stop offset="1" stop-color="#5689bf"/></linearGradient><linearGradient id="w247" x1="0" y1="0" x2="0" y2="1"><stop offset="0" stop-color="#dcf1f7"/><stop offset=".08" stop-color="#e5f0e7"/><stop offset=".12" stop-color="#ebecd3"/><stop offset=".24" stop-color="#ecebce"/><stop offset=".37" stop-color="#def2f8"/><stop offset=".41" stop-color="#d5edf5"/><stop offset=".50" stop-color="#b2ddeb"/><stop offset=".86" stop-color="#6ca3cc"/><stop offset="1" stop-color="#5c91c2"/></linearGradient><linearGradient id="w248" x1="0" y1="0" x2="0" y2="1"><stop offset="0" stop-color="#dcf1f7"/><stop offset=".10" stop-color="#e6efe4"/><stop offset=".15" stop-color="#ecebcd"/><stop offset=".25" stop-color="#ececd0"/><stop offset=".33" stop-color="#dcf1f7"/><stop offset=".40" stop-color="#d4edf5"/><stop offset=".53" stop-color="#aedaea"/><stop offset=".82" stop-color="#71a9cf"/><stop offset="1" stop-color="#5d91c3"/></linearGradient><linearGradient id="w249" x1="0" y1="0" x2="0" y2="1"><stop offset="0" stop-color="#def2f7"/><stop offset=".08" stop-color="#e5f0e7"/><stop offset=".12" stop-color="#ecebce"/><stop offset=".24" stop-color="#ecebcd"/><stop offset=".35" stop-color="#dff2f8"/><stop offset=".41" stop-color="#d3ecf4"/><stop offset=".49" stop-color="#b2ddeb"/><stop offset=".86" stop-color="#6ca3cc"/><stop offset="1" stop-color="#5e93c4"/></linearGradient><linearGradient id="w250" x1="0" y1="0" x2="0" y2="1"><stop offset="0" stop-color="#ddf2f7"/><stop offset=".08" stop-color="#e4f0e9"/><stop offset=".15" stop-color="#edeac9"/><stop offset=".25" stop-color="#ecebce"/><stop offset=".34" stop-color="#def2f8"/><stop offset=".41" stop-color="#d5eef5"/><stop offset=".53" stop-color="#b0dbea"/><stop offset="1" stop-color="#5e93c3"/></linearGradient><linearGradient id="w251" x1="0" y1="0" x2="0" y2="1"><stop offset="0" stop-color="#dbf0f7"/><stop offset=".10" stop-color="#e4f1eb"/><stop offset=".15" stop-color="#ecebce"/><stop offset=".28" stop-color="#e9edd8"/><stop offset=".37" stop-color="#ddf1f7"/><stop offset=".44" stop-color="#d1ecf4"/><stop offset=".54" stop-color="#b2ddeb"/><stop offset=".73" stop-color="#8bc0db"/><stop offset=".88" stop-color="#6ea5cd"/><stop offset="1" stop-color="#5f94c4"/></linearGradient><linearGradient id="w252" x1="0" y1="0" x2="0" y2="1"><stop offset="0" stop-color="#dcf1f7"/><stop offset=".07" stop-color="#e2f2f0"/><stop offset=".13" stop-color="#ecebce"/><stop offset=".27" stop-color="#ebecd4"/><stop offset=".35" stop-color="#e1f2f4"/><stop offset=".45" stop-color="#d4edf4"/><stop offset=".56" stop-color="#aedaea"/><stop offset=".86" stop-color="#70a9cf"/><stop offset="1" stop-color="#6297c6"/></linearGradient><linearGradient id="w253" x1="0" y1="0" x2="0" y2="1"><stop offset="0" stop-color="#ddf2f7"/><stop offset=".07" stop-color="#e2f2f2"/><stop offset=".14" stop-color="#edebcb"/><stop offset=".29" stop-color="#ebecd3"/><stop offset=".39" stop-color="#dcf1f7"/><stop offset=".43" stop-color="#d2ecf4"/><stop offset=".51" stop-color="#b5deec"/><stop offset=".86" stop-color="#70a8cf"/><stop offset="1" stop-color="#6095c5"/></linearGradient><linearGradient id="w254" x1="0" y1="0" x2="0" y2="1"><stop offset="0" stop-color="#dcf1f7"/><stop offset=".10" stop-color="#e5f0e8"/><stop offset=".16" stop-color="#ebecd1"/><stop offset=".26" stop-color="#ebecd1"/><stop offset=".34" stop-color="#e0f3f8"/><stop offset=".41" stop-color="#d4edf4"/><stop offset=".50" stop-color="#b2ddeb"/><stop offset=".87" stop-color="#6ca4cc"/><stop offset="1" stop-color="#5f94c4"/></linearGradient><linearGradient id="w255" x1="0" y1="0" x2="0" y2="1"><stop offset="0" stop-color="#daf0f6"/><stop offset=".09" stop-color="#e1f2f4"/><stop offset=".15" stop-color="#ececcf"/><stop offset=".27" stop-color="#edebcc"/><stop offset=".35" stop-color="#e0f3f7"/><stop offset=".43" stop-color="#d5eef5"/><stop offset=".56" stop-color="#addaea"/><stop offset=".91" stop-color="#689fca"/><stop offset="1" stop-color="#5d92c3"/></linearGradient><linearGradient id="w256" x1="0" y1="0" x2="0" y2="1"><stop offset="0" stop-color="#d9eff6"/><stop offset=".07" stop-color="#e1f3f6"/><stop offset=".14" stop-color="#eeeac8"/><stop offset=".29" stop-color="#ebecd1"/><stop offset=".38" stop-color="#ddf2f7"/><stop offset=".45" stop-color="#d1ecf4"/><stop offset=".55" stop-color="#b2dceb"/><stop offset=".85" stop-color="#6fa7ce"/><stop offset="1" stop-color="#6197c5"/></linearGradient><linearGradient id="w257" x1="0" y1="0" x2="0" y2="1"><stop offset="0" stop-color="#dcf1f7"/><stop offset=".06" stop-color="#e1f2f4"/><stop offset=".13" stop-color="#eeeac9"/><stop offset=".27" stop-color="#eaedd5"/><stop offset=".37" stop-color="#def2f8"/><stop offset=".45" stop-color="#d0ebf3"/><stop offset=".55" stop-color="#b2dceb"/><stop offset=".72" stop-color="#8fc3dd"/><stop offset="1" stop-color="#649ac7"/></linearGradient><linearGradient id="w258" x1="0" y1="0" x2="0" y2="1"><stop offset="0" stop-color="#dcf1f7"/><stop offset=".04" stop-color="#e1f3f5"/><stop offset=".12" stop-color="#edebca"/><stop offset=".28" stop-color="#eaedd5"/><stop offset=".36" stop-color="#e0f3f8"/><stop offset=".43" stop-color="#cfebf3"/><stop offset=".57" stop-color="#b1dceb"/><stop offset=".94" stop-color="#6da5cd"/><stop offset="1" stop-color="#689fca"/></linearGradient><linearGradient id="w259" x1="0" y1="0" x2="0" y2="1"><stop offset="0" stop-color="#dff2f8"/><stop offset=".05" stop-color="#dff3f8"/><stop offset=".12" stop-color="#ebecd2"/><stop offset=".27" stop-color="#eaedd7"/><stop offset=".40" stop-color="#e0f3f8"/><stop offset=".47" stop-color="#d6eef5"/><stop offset=".60" stop-color="#b0dbea"/><stop offset=".98" stop-color="#6aa1cb"/><stop offset="1" stop-color="#669cc8"/></linearGradient><linearGradient id="w260" x1="0" y1="0" x2="0" y2="1"><stop offset="0" stop-color="#d9f0f6"/><stop offset=".03" stop-color="#e0f3f8"/><stop offset=".06" stop-color="#e6efe5"/><stop offset=".14" stop-color="#edebcb"/><stop offset=".30" stop-color="#ececd0"/><stop offset=".39" stop-color="#e1f2f4"/><stop offset=".48" stop-color="#d2ecf4"/><stop offset=".61" stop-color="#b0dbea"/><stop offset=".94" stop-color="#70a8cf"/><stop offset="1" stop-color="#6ba2cb"/></linearGradient><linearGradient id="w261" x1="0" y1="0" x2="0" y2="1"><stop offset="0" stop-color="#dcf1f7"/><stop offset=".03" stop-color="#e0f3f8"/><stop offset=".08" stop-color="#e7efe0"/><stop offset=".15" stop-color="#ecebce"/><stop offset=".31" stop-color="#ecebcf"/><stop offset=".44" stop-color="#ddf2f7"/><stop offset=".50" stop-color="#cfebf3"/><stop offset=".60" stop-color="#aedbea"/><stop offset="1" stop-color="#6aa1cb"/></linearGradient><linearGradient id="w262" x1="0" y1="0" x2="0" y2="1"><stop offset="0" stop-color="#dbf1f7"/><stop offset=".03" stop-color="#def2f8"/><stop offset=".07" stop-color="#e5f0e6"/><stop offset=".15" stop-color="#ebecd0"/><stop offset=".31" stop-color="#ebecd0"/><stop offset=".41" stop-color="#dff2f8"/><stop offset=".49" stop-color="#d4edf5"/><stop offset=".63" stop-color="#b4ddec"/><stop offset=".88" stop-color="#8cc0db"/><stop offset="1" stop-color="#79b1d3"/></linearGradient><linearGradient id="w263" x1="0" y1="0" x2="0" y2="1"><stop offset="0" stop-color="#ddf1f7"/><stop offset=".02" stop-color="#dbf0f6"/><stop offset=".05" stop-color="#e7efe1"/><stop offset=".12" stop-color="#ecebcd"/><stop offset=".30" stop-color="#ebecd2"/><stop offset=".44" stop-color="#def2f7"/><stop offset=".51" stop-color="#d0ebf3"/><stop offset=".61" stop-color="#b4deec"/><stop offset=".84" stop-color="#9acbe1"/><stop offset="1" stop-color="#75aed2"/></linearGradient><linearGradient id="w264" x1="0" y1="0" x2="0" y2="1"><stop offset="0" stop-color="#def2f7"/><stop offset=".02" stop-color="#e4f1eb"/><stop offset=".11" stop-color="#ebecd0"/><stop offset=".29" stop-color="#ececd0"/><stop offset=".41" stop-color="#e0f3f7"/><stop offset=".55" stop-color="#d6eef5"/><stop offset=".68" stop-color="#aedbea"/><stop offset="1" stop-color="#74acd1"/></linearGradient><linearGradient id="w265" x1="0" y1="0" x2="0" y2="1"><stop offset="0" stop-color="#dbf1f7"/><stop offset=".02" stop-color="#ddf2f7"/><stop offset=".04" stop-color="#e5f0e6"/><stop offset=".12" stop-color="#edebcb"/><stop offset=".36" stop-color="#edebcc"/><stop offset=".46" stop-color="#e0f3f8"/><stop offset=".54" stop-color="#d2ecf4"/><stop offset=".64" stop-color="#b2dceb"/><stop offset="1" stop-color="#79b1d3"/></linearGradient><linearGradient id="w266" x1="0" y1="0" x2="0" y2="1"><stop offset="0" stop-color="#dbf0f6"/><stop offset=".02" stop-color="#dcf1f7"/><stop offset=".04" stop-color="#e4f0e9"/><stop offset=".15" stop-color="#edebcb"/><stop offset=".31" stop-color="#ebecd1"/><stop offset=".44" stop-color="#dcf1f7"/><stop offset=".51" stop-color="#d4edf4"/><stop offset=".64" stop-color="#b2dceb"/><stop offset="1" stop-color="#7db4d5"/></linearGradient><linearGradient id="w267" x1="0" y1="0" x2="0" y2="1"><stop offset="0" stop-color="#e3f1ed"/><stop offset=".11" stop-color="#ecebcd"/><stop offset=".35" stop-color="#eaedd5"/><stop offset=".53" stop-color="#def2f7"/><stop offset=".62" stop-color="#d5eef5"/><stop offset=".84" stop-color="#abd9e9"/><stop offset="1" stop-color="#92c5de"/></linearGradient><linearGradient id="w268" x1="0" y1="0" x2="0" y2="1"><stop offset="0" stop-color="#e4f0e9"/><stop offset=".12" stop-color="#ebecd0"/><stop offset=".37" stop-color="#ecebce"/><stop offset=".65" stop-color="#d1ebf4"/><stop offset=".79" stop-color="#b1dceb"/><stop offset="1" stop-color="#95c7df"/></linearGradient><linearGradient id="w269" x1="0" y1="0" x2="0" y2="1"><stop offset="0" stop-color="#e5f0e7"/><stop offset=".12" stop-color="#ecebcf"/><stop offset=".35" stop-color="#ebecd1"/><stop offset=".52" stop-color="#ddf2f7"/><stop offset=".61" stop-color="#d7eff5"/><stop offset=".78" stop-color="#b3ddeb"/><stop offset="1" stop-color="#9acce2"/></linearGradient><linearGradient id="w270" x1="0" y1="0" x2="0" y2="1"><stop offset="0" stop-color="#e4f0ea"/><stop offset=".12" stop-color="#ebecd0"/><stop offset=".33" stop-color="#ebecd1"/><stop offset=".51" stop-color="#e0f3f8"/><stop offset=".63" stop-color="#d4edf4"/><stop offset=".86" stop-color="#a8d7e8"/><stop offset="1" stop-color="#97c9e0"/></linearGradient><linearGradient id="w271" x1="0" y1="0" x2="0" y2="1"><stop offset="0" stop-color="#e6efe3"/><stop offset=".09" stop-color="#ecebce"/><stop offset=".35" stop-color="#eaedd5"/><stop offset=".60" stop-color="#d5edf5"/><stop offset=".77" stop-color="#b1dceb"/><stop offset="1" stop-color="#96c8e0"/></linearGradient><linearGradient id="w272" x1="0" y1="0" x2="0" y2="1"><stop offset="0" stop-color="#daf0f6"/><stop offset=".02" stop-color="#e4f0e9"/><stop offset=".14" stop-color="#ebecd3"/><stop offset=".37" stop-color="#ebecd2"/><stop offset=".53" stop-color="#def2f7"/><stop offset=".65" stop-color="#d3edf4"/><stop offset=".81" stop-color="#b5deec"/><stop offset="1" stop-color="#a5d4e6"/></linearGradient><linearGradient id="w273" x1="0" y1="0" x2="0" y2="1"><stop offset="0" stop-color="#e4f0ea"/><stop offset=".12" stop-color="#ebecd1"/><stop offset=".37" stop-color="#ebecd2"/><stop offset=".54" stop-color="#dff2f8"/><stop offset=".73" stop-color="#d4edf5"/><stop offset=".90" stop-color="#afdbea"/><stop offset="1" stop-color="#a1d1e5"/></linearGradient><linearGradient id="w274" x1="0" y1="0" x2="0" y2="1"><stop offset="0" stop-color="#e5f0e7"/><stop offset=".12" stop-color="#ececcf"/><stop offset=".42" stop-color="#ebecd0"/><stop offset=".59" stop-color="#dcf1f7"/><stop offset=".66" stop-color="#d0ebf4"/><stop offset=".80" stop-color="#b5deec"/><stop offset="1" stop-color="#99cae1"/></linearGradient><linearGradient id="w275" x1="0" y1="0" x2="0" y2="1"><stop offset="0" stop-color="#e6efe5"/><stop offset=".14" stop-color="#edebcc"/><stop offset=".36" stop-color="#eaedd7"/><stop offset=".48" stop-color="#e2f2f1"/><stop offset=".62" stop-color="#d4edf5"/><stop offset=".81" stop-color="#b2dceb"/><stop offset="1" stop-color="#96c8e0"/></linearGradient><linearGradient id="w276" x1="0" y1="0" x2="0" y2="1"><stop offset="0" stop-color="#e4f0e9"/><stop offset=".10" stop-color="#ecebce"/><stop offset=".36" stop-color="#e9edda"/><stop offset=".58" stop-color="#dcf1f7"/><stop offset=".82" stop-color="#b3ddeb"/><stop offset="1" stop-color="#9ecee3"/></linearGradient><linearGradient id="w277" x1="0" y1="0" x2="0" y2="1"><stop offset="0" stop-color="#e5f0e7"/><stop offset=".12" stop-color="#eaedd6"/><stop offset=".34" stop-color="#ececd0"/><stop offset=".51" stop-color="#e0f3f7"/><stop offset=".70" stop-color="#d3edf4"/><stop offset=".89" stop-color="#addaea"/><stop offset="1" stop-color="#a1d1e4"/></linearGradient><linearGradient id="w278" x1="0" y1="0" x2="0" y2="1"><stop offset="0" stop-color="#e7efe0"/><stop offset=".10" stop-color="#ebecd0"/><stop offset=".41" stop-color="#ebecd3"/><stop offset=".60" stop-color="#daf0f6"/><stop offset=".84" stop-color="#b2dceb"/><stop offset="1" stop-color="#a2d1e5"/></linearGradient><linearGradient id="w279" x1="0" y1="0" x2="0" y2="1"><stop offset="0" stop-color="#dcf1f7"/><stop offset=".03" stop-color="#e6efe3"/><stop offset=".15" stop-color="#ececd0"/><stop offset=".40" stop-color="#ebecd3"/><stop offset=".60" stop-color="#e0f3f7"/><stop offset=".72" stop-color="#d2ecf4"/><stop offset=".93" stop-color="#addaea"/><stop offset="1" stop-color="#a2d2e5"/></linearGradient><linearGradient id="w280" x1="0" y1="0" x2="0" y2="1"><stop offset="0" stop-color="#e5f0e8"/><stop offset=".13" stop-color="#edebcc"/><stop offset=".44" stop-color="#eaecd4"/><stop offset=".65" stop-color="#d9f0f6"/><stop offset=".88" stop-color="#b0dbea"/><stop offset="1" stop-color="#a2d2e5"/></linearGradient><linearGradient id="w281" x1="0" y1="0" x2="0" y2="1"><stop offset="0" stop-color="#e6efe4"/><stop offset=".14" stop-color="#edebcc"/><stop offset=".36" stop-color="#ebecd0"/><stop offset=".52" stop-color="#dff2f8"/><stop offset=".64" stop-color="#d1ecf4"/><stop offset=".81" stop-color="#addaea"/><stop offset="1" stop-color="#95c8e0"/></linearGradient><linearGradient id="w282" x1="0" y1="0" x2="0" y2="1"><stop offset="0" stop-color="#e7eede"/><stop offset=".10" stop-color="#edebcc"/><stop offset=".32" stop-color="#ecebce"/><stop offset=".54" stop-color="#daf0f6"/><stop offset=".74" stop-color="#b7dfec"/><stop offset="1" stop-color="#9ccde3"/></linearGradient><linearGradient id="w283" x1="0" y1="0" x2="0" y2="1"><stop offset="0" stop-color="#e6efe4"/><stop offset=".10" stop-color="#ecebcd"/><stop offset=".31" stop-color="#ebecd1"/><stop offset=".46" stop-color="#e1f3f5"/><stop offset=".63" stop-color="#d1ecf4"/><stop offset=".84" stop-color="#b0dbea"/><stop offset="1" stop-color="#9ccde2"/></linearGradient><linearGradient id="w284" x1="0" y1="0" x2="0" y2="1"><stop offset="0" stop-color="#e7eedf"/><stop offset=".07" stop-color="#ecebcf"/><stop offset=".34" stop-color="#ececd0"/><stop offset=".59" stop-color="#d9f0f6"/><stop offset=".73" stop-color="#c2e4ef"/><stop offset=".90" stop-color="#a8d6e7"/><stop offset="1" stop-color="#9dcee3"/></linearGradient><linearGradient id="w285" x1="0" y1="0" x2="0" y2="1"><stop offset="0" stop-color="#e8eedd"/><stop offset=".10" stop-color="#efeac5"/><stop offset=".35" stop-color="#ebecd2"/><stop offset=".58" stop-color="#ddf2f7"/><stop offset=".68" stop-color="#cce9f2"/><stop offset=".86" stop-color="#acdae9"/><stop offset="1" stop-color="#9acbe2"/></linearGradient><linearGradient id="w286" x1="0" y1="0" x2="0" y2="1"><stop offset="0" stop-color="#e5f0e6"/><stop offset=".10" stop-color="#ebecd1"/><stop offset=".35" stop-color="#ebecd0"/><stop offset=".55" stop-color="#dcf1f7"/><stop offset=".62" stop-color="#d1ecf4"/><stop offset=".78" stop-color="#b5deec"/><stop offset="1" stop-color="#a0d1e4"/></linearGradient><linearGradient id="w287" x1="0" y1="0" x2="0" y2="1"><stop offset="0" stop-color="#e6efe3"/><stop offset=".10" stop-color="#edebcc"/><stop offset=".33" stop-color="#ebecd3"/><stop offset=".42" stop-color="#e1f3f6"/><stop offset=".65" stop-color="#d3edf4"/><stop offset=".78" stop-color="#bde2ee"/><stop offset="1" stop-color="#97c9e0"/></linearGradient><linearGradient id="w288" x1="0" y1="0" x2="0" y2="1"><stop offset="0" stop-color="#e7efe1"/><stop offset=".07" stop-color="#ebecd1"/><stop offset=".38" stop-color="#ebecd2"/><stop offset=".62" stop-color="#d4edf4"/><stop offset=".75" stop-color="#b6deec"/><stop offset="1" stop-color="#9fcfe4"/></linearGradient><linearGradient id="w289" x1="0" y1="0" x2="0" y2="1"><stop offset="0" stop-color="#e8eedc"/><stop offset=".10" stop-color="#ebecd0"/><stop offset=".30" stop-color="#ebecd1"/><stop offset=".40" stop-color="#e1f3f5"/><stop offset=".59" stop-color="#d2ecf4"/><stop offset=".84" stop-color="#abd9e9"/><stop offset="1" stop-color="#96c8e0"/></linearGradient><linearGradient id="w290" x1="0" y1="0" x2="0" y2="1"><stop offset="0" stop-color="#eaedd5"/><stop offset=".13" stop-color="#ecebce"/><stop offset=".32" stop-color="#ebecd2"/><stop offset=".64" stop-color="#d2ecf4"/><stop offset=".83" stop-color="#b2ddeb"/><stop offset="1" stop-color="#9fcfe4"/></linearGradient><linearGradient id="w291" x1="0" y1="0" x2="0" y2="1"><stop offset="0" stop-color="#e9eeda"/><stop offset=".16" stop-color="#ececcf"/><stop offset=".32" stop-color="#eaedd6"/><stop offset=".45" stop-color="#e0f3f7"/><stop offset=".61" stop-color="#d3edf4"/><stop offset=".84" stop-color="#b0dcea"/><stop offset="1" stop-color="#a2d2e5"/></linearGradient><linearGradient id="w292" x1="0" y1="0" x2="0" y2="1"><stop offset="0" stop-color="#e6efe2"/><stop offset=".10" stop-color="#ebecd1"/><stop offset=".34" stop-color="#e9edd8"/><stop offset=".51" stop-color="#def2f7"/><stop offset=".66" stop-color="#d2ecf4"/><stop offset=".85" stop-color="#addae9"/><stop offset="1" stop-color="#99cbe1"/></linearGradient><linearGradient id="w293" x1="0" y1="0" x2="0" y2="1"><stop offset="0" stop-color="#eaedd5"/><stop offset=".13" stop-color="#ececcf"/><stop offset=".35" stop-color="#eaecd4"/><stop offset=".56" stop-color="#dcf1f7"/><stop offset=".76" stop-color="#b4deec"/><stop offset="1" stop-color="#9ccde2"/></linearGradient><linearGradient id="w294" x1="0" y1="0" x2="0" y2="1"><stop offset="0" stop-color="#e7eedf"/><stop offset=".10" stop-color="#ecebcf"/><stop offset=".30" stop-color="#edebca"/><stop offset=".44" stop-color="#e0f3f7"/><stop offset=".62" stop-color="#d5eef5"/><stop offset=".84" stop-color="#acd9e9"/><stop offset="1" stop-color="#97c9e0"/></linearGradient><linearGradient id="w295" x1="0" y1="0" x2="0" y2="1"><stop offset="0" stop-color="#e9eeda"/><stop offset=".10" stop-color="#edebcc"/><stop offset=".35" stop-color="#e9edd9"/><stop offset=".60" stop-color="#d2ecf4"/><stop offset=".75" stop-color="#b6deec"/><stop offset="1" stop-color="#97c9e0"/></linearGradient><linearGradient id="w296" x1="0" y1="0" x2="0" y2="1"><stop offset="0" stop-color="#e8eedd"/><stop offset=".14" stop-color="#ecebce"/><stop offset=".30" stop-color="#eaecd4"/><stop offset=".47" stop-color="#e0f3f8"/><stop offset=".63" stop-color="#d3ecf4"/><stop offset=".85" stop-color="#afdbea"/><stop offset="1" stop-color="#a2d2e5"/></linearGradient><linearGradient id="w297" x1="0" y1="0" x2="0" y2="1"><stop offset="0" stop-color="#ebecd3"/><stop offset=".30" stop-color="#eaedd5"/><stop offset=".52" stop-color="#ddf2f7"/><stop offset=".66" stop-color="#d0ebf3"/><stop offset=".88" stop-color="#b0dbea"/><stop offset="1" stop-color="#a3d3e6"/></linearGradient><linearGradient id="w298" x1="0" y1="0" x2="0" y2="1"><stop offset="0" stop-color="#e7efe0"/><stop offset=".10" stop-color="#ebecd1"/><stop offset=".33" stop-color="#e9edd8"/><stop offset=".51" stop-color="#e0f3f8"/><stop offset=".64" stop-color="#d5eef5"/><stop offset=".87" stop-color="#b4ddeb"/><stop offset="1" stop-color="#a5d4e6"/></linearGradient><linearGradient id="w299" x1="0" y1="0" x2="0" y2="1"><stop offset="0" stop-color="#ebecd3"/><stop offset=".15" stop-color="#ecebcd"/><stop offset=".33" stop-color="#eaecd4"/><stop offset=".55" stop-color="#ddf2f7"/><stop offset=".68" stop-color="#d1ecf4"/><stop offset=".88" stop-color="#b0dbea"/><stop offset="1" stop-color="#9bcce2"/></linearGradient><linearGradient id="w300" x1="0" y1="0" x2="0" y2="1"><stop offset="0" stop-color="#e9eeda"/><stop offset=".13" stop-color="#edebca"/><stop offset=".38" stop-color="#ececcf"/><stop offset=".56" stop-color="#ddf1f7"/><stop offset=".66" stop-color="#d1ecf4"/><stop offset=".81" stop-color="#b0dceb"/><stop offset="1" stop-color="#99cae1"/></linearGradient><linearGradient id="w301" x1="0" y1="0" x2="0" y2="1"><stop offset="0" stop-color="#e5f0e6"/><stop offset=".12" stop-color="#ebecd1"/><stop offset=".37" stop-color="#ecebce"/><stop offset=".54" stop-color="#e0f3f8"/><stop offset=".64" stop-color="#ceeaf3"/><stop offset=".79" stop-color="#b5deec"/><stop offset="1" stop-color="#a6d5e7"/></linearGradient><linearGradient id="w302" x1="0" y1="0" x2="0" y2="1"><stop offset="0" stop-color="#e9edd7"/><stop offset=".27" stop-color="#ebecd3"/><stop offset=".55" stop-color="#e2f2f2"/><stop offset=".71" stop-color="#d5eef5"/><stop offset=".88" stop-color="#afdbea"/><stop offset="1" stop-color="#a2d1e5"/></linearGradient><linearGradient id="w303" x1="0" y1="0" x2="0" y2="1"><stop offset="0" stop-color="#ecebcd"/><stop offset=".41" stop-color="#ebecd0"/><stop offset=".62" stop-color="#dcf1f7"/><stop offset=".91" stop-color="#aedbea"/><stop offset="1" stop-color="#a9d7e8"/></linearGradient><linearGradient id="w304" x1="0" y1="0" x2="0" y2="1"><stop offset="0" stop-color="#e6efe2"/><stop offset=".11" stop-color="#edebcc"/><stop offset=".37" stop-color="#ececd0"/><stop offset=".57" stop-color="#dcf1f7"/><stop offset=".71" stop-color="#d2ecf4"/><stop offset=".97" stop-color="#b0dcea"/><stop offset="1" stop-color="#afdbea"/></linearGradient><linearGradient id="w305" x1="0" y1="0" x2="0" y2="1"><stop offset="0" stop-color="#e8eedb"/><stop offset=".11" stop-color="#ebecd0"/><stop offset=".35" stop-color="#eaedd5"/><stop offset=".61" stop-color="#dcf1f7"/><stop offset=".72" stop-color="#d7eef5"/><stop offset=".91" stop-color="#b2dceb"/><stop offset="1" stop-color="#a5d4e6"/></linearGradient><linearGradient id="w306" x1="0" y1="0" x2="0" y2="1"><stop offset="0" stop-color="#e8eedc"/><stop offset=".12" stop-color="#ecebce"/><stop offset=".48" stop-color="#eaedd5"/><stop offset=".69" stop-color="#dcf1f7"/><stop offset=".81" stop-color="#d1ebf4"/><stop offset="1" stop-color="#b2dceb"/></linearGradient><linearGradient id="w307" x1="0" y1="0" x2="0" y2="1"><stop offset="0" stop-color="#ebecd2"/><stop offset=".38" stop-color="#ebecd1"/><stop offset=".63" stop-color="#ddf2f7"/><stop offset=".76" stop-color="#d4edf5"/><stop offset="1" stop-color="#b0dcea"/></linearGradient><linearGradient id="w308" x1="0" y1="0" x2="0" y2="1"><stop offset="0" stop-color="#eaedd7"/><stop offset=".38" stop-color="#ebecd1"/><stop offset=".66" stop-color="#def2f7"/><stop offset=".78" stop-color="#d2ecf4"/><stop offset="1" stop-color="#b2dceb"/></linearGradient><linearGradient id="w309" x1="0" y1="0" x2="0" y2="1"><stop offset="0" stop-color="#ebecd1"/><stop offset=".34" stop-color="#ebecd1"/><stop offset=".54" stop-color="#dff2f8"/><stop offset=".68" stop-color="#d5eef5"/><stop offset=".90" stop-color="#aedaea"/><stop offset="1" stop-color="#a7d6e7"/></linearGradient><linearGradient id="w310" x1="0" y1="0" x2="0" y2="1"><stop offset="0" stop-color="#ececd0"/><stop offset=".34" stop-color="#ebecd3"/><stop offset=".54" stop-color="#e0f3f8"/><stop offset=".68" stop-color="#d3edf4"/><stop offset=".87" stop-color="#b1dceb"/><stop offset="1" stop-color="#a3d2e5"/></linearGradient><linearGradient id="w311" x1="0" y1="0" x2="0" y2="1"><stop offset="0" stop-color="#ececd0"/><stop offset=".34" stop-color="#ebecd2"/><stop offset=".56" stop-color="#dbf1f7"/><stop offset=".70" stop-color="#cbe9f2"/><stop offset=".90" stop-color="#b0dcea"/><stop offset="1" stop-color="#a8d7e8"/></linearGradient><linearGradient id="w312" x1="0" y1="0" x2="0" y2="1"><stop offset="0" stop-color="#ecebce"/><stop offset=".32" stop-color="#eaecd4"/><stop offset=".58" stop-color="#dcf1f7"/><stop offset=".70" stop-color="#d4edf5"/><stop offset=".90" stop-color="#b2dceb"/><stop offset="1" stop-color="#a5d4e6"/></linearGradient><linearGradient id="w313" x1="0" y1="0" x2="0" y2="1"><stop offset="0" stop-color="#ecebcf"/><stop offset=".38" stop-color="#eaecd4"/><stop offset=".63" stop-color="#dbf1f7"/><stop offset=".76" stop-color="#cae8f2"/><stop offset=".95" stop-color="#afdbea"/><stop offset="1" stop-color="#aad8e8"/></linearGradient><linearGradient id="w314" x1="0" y1="0" x2="0" y2="1"><stop offset="0" stop-color="#ebecd1"/><stop offset=".29" stop-color="#ebecd2"/><stop offset=".50" stop-color="#def2f7"/><stop offset=".62" stop-color="#d3ecf4"/><stop offset=".88" stop-color="#b0dcea"/><stop offset="1" stop-color="#a6d5e7"/></linearGradient><linearGradient id="w315" x1="0" y1="0" x2="0" y2="1"><stop offset="0" stop-color="#eaedd6"/><stop offset=".27" stop-color="#e9eeda"/><stop offset=".48" stop-color="#def2f7"/><stop offset=".64" stop-color="#d6eef5"/><stop offset=".85" stop-color="#afdbea"/><stop offset="1" stop-color="#a0d0e4"/></linearGradient><linearGradient id="w316" x1="0" y1="0" x2="0" y2="1"><stop offset="0" stop-color="#ececcf"/><stop offset=".30" stop-color="#ebecd0"/><stop offset=".48" stop-color="#dff2f8"/><stop offset=".60" stop-color="#d3edf4"/><stop offset=".81" stop-color="#b3ddeb"/><stop offset="1" stop-color="#9ccde2"/></linearGradient><linearGradient id="w317" x1="0" y1="0" x2="0" y2="1"><stop offset="0" stop-color="#ececcf"/><stop offset=".25" stop-color="#eaedd5"/><stop offset=".47" stop-color="#dbf1f7"/><stop offset=".59" stop-color="#d1ecf4"/><stop offset=".84" stop-color="#b2dceb"/><stop offset="1" stop-color="#a6d5e7"/></linearGradient><linearGradient id="w318" x1="0" y1="0" x2="0" y2="1"><stop offset="0" stop-color="#ebecd1"/><stop offset=".22" stop-color="#ececcf"/><stop offset=".44" stop-color="#dcf1f7"/><stop offset=".63" stop-color="#d3edf4"/><stop offset=".89" stop-color="#aedbea"/><stop offset="1" stop-color="#a2d2e5"/></linearGradient><linearGradient id="w319" x1="0" y1="0" x2="0" y2="1"><stop offset="0" stop-color="#edebca"/><stop offset=".30" stop-color="#ebecd2"/><stop offset=".53" stop-color="#ddf1f7"/><stop offset=".67" stop-color="#d3edf4"/><stop offset=".90" stop-color="#b5deec"/><stop offset="1" stop-color="#a8d7e8"/></linearGradient><linearGradient id="w320" x1="0" y1="0" x2="0" y2="1"><stop offset="0" stop-color="#ecebcd"/><stop offset=".25" stop-color="#eaecd4"/><stop offset=".48" stop-color="#ddf2f7"/><stop offset=".60" stop-color="#cfeaf3"/><stop offset=".86" stop-color="#b6deec"/><stop offset="1" stop-color="#a8d6e8"/></linearGradient><linearGradient id="w321" x1="0" y1="0" x2="0" y2="1"><stop offset="0" stop-color="#ececcf"/><stop offset=".25" stop-color="#ebecd0"/><stop offset=".47" stop-color="#dff3f8"/><stop offset=".66" stop-color="#d2ecf4"/><stop offset=".88" stop-color="#b2dceb"/><stop offset="1" stop-color="#a6d5e7"/></linearGradient><linearGradient id="w322" x1="0" y1="0" x2="0" y2="1"><stop offset="0" stop-color="#ebecd2"/><stop offset=".27" stop-color="#ebecd0"/><stop offset=".48" stop-color="#ddf1f7"/><stop offset=".60" stop-color="#d3ecf4"/><stop offset=".78" stop-color="#b3ddeb"/><stop offset="1" stop-color="#99cbe1"/></linearGradient><linearGradient id="w323" x1="0" y1="0" x2="0" y2="1"><stop offset="0" stop-color="#edebcc"/><stop offset=".21" stop-color="#edebcc"/><stop offset=".39" stop-color="#ddf1f7"/><stop offset=".52" stop-color="#d3edf4"/><stop offset=".70" stop-color="#b3ddeb"/><stop offset="1" stop-color="#9acbe2"/></linearGradient><linearGradient id="w324" x1="0" y1="0" x2="0" y2="1"><stop offset="0" stop-color="#ecebcf"/><stop offset=".20" stop-color="#e9edd8"/><stop offset=".36" stop-color="#e2f2f2"/><stop offset=".56" stop-color="#d3edf4"/><stop offset=".82" stop-color="#afdbea"/><stop offset="1" stop-color="#9ecee3"/></linearGradient><linearGradient id="w325" x1="0" y1="0" x2="0" y2="1"><stop offset="0" stop-color="#edebca"/><stop offset=".17" stop-color="#ecebce"/><stop offset=".37" stop-color="#dff2f8"/><stop offset=".53" stop-color="#d5eef5"/><stop offset=".80" stop-color="#b1dceb"/><stop offset="1" stop-color="#9dcee3"/></linearGradient><linearGradient id="w326" x1="0" y1="0" x2="0" y2="1"><stop offset="0" stop-color="#ecebcf"/><stop offset=".15" stop-color="#ececd0"/><stop offset=".36" stop-color="#e1f3f6"/><stop offset=".55" stop-color="#d1ecf4"/><stop offset=".84" stop-color="#b1dceb"/><stop offset="1" stop-color="#a4d3e6"/></linearGradient><linearGradient id="w327" x1="0" y1="0" x2="0" y2="1"><stop offset="0" stop-color="#ecebcd"/><stop offset=".21" stop-color="#e9edd7"/><stop offset=".39" stop-color="#e0f3f7"/><stop offset=".63" stop-color="#d1ebf4"/><stop offset=".95" stop-color="#b1dceb"/><stop offset="1" stop-color="#addaea"/></linearGradient><linearGradient id="w328" x1="0" y1="0" x2="0" y2="1"><stop offset="0" stop-color="#edebcd"/><stop offset=".17" stop-color="#eaedd7"/><stop offset=".30" stop-color="#e2f2f3"/><stop offset=".63" stop-color="#d6eef5"/><stop offset=".97" stop-color="#b1dceb"/><stop offset="1" stop-color="#acdae9"/></linearGradient><linearGradient id="w329" x1="0" y1="0" x2="0" y2="1"><stop offset="0" stop-color="#ebecd1"/><stop offset=".17" stop-color="#eaedd7"/><stop offset=".31" stop-color="#e2f2f1"/><stop offset=".76" stop-color="#ceeaf3"/><stop offset="1" stop-color="#bde2ee"/></linearGradient><linearGradient id="w330" x1="0" y1="0" x2="0" y2="1"><stop offset="0" stop-color="#ecebcf"/><stop offset=".11" stop-color="#e8eedd"/><stop offset=".25" stop-color="#e4f1ea"/><stop offset=".75" stop-color="#d3edf4"/><stop offset="1" stop-color="#bfe3ef"/></linearGradient><linearGradient id="w331" x1="0" y1="0" x2="0" y2="1"><stop offset="0" stop-color="#ebecd1"/><stop offset=".23" stop-color="#e2f2f1"/><stop offset=".75" stop-color="#d2ecf4"/><stop offset="1" stop-color="#c0e3ef"/></linearGradient><linearGradient id="w332" x1="0" y1="0" x2="0" y2="1"><stop offset="0" stop-color="#e9edd9"/><stop offset=".12" stop-color="#e3f1ee"/><stop offset=".76" stop-color="#d0ebf4"/><stop offset="1" stop-color="#c3e5f0"/></linearGradient><linearGradient id="w333" x1="0" y1="0" x2="0" y2="1"><stop offset="0" stop-color="#e3f1ed"/><stop offset=".75" stop-color="#d4edf5"/><stop offset="1" stop-color="#c6e6f1"/></linearGradient><linearGradient id="w334" x1="0" y1="0" x2="0" y2="1"><stop offset="0" stop-color="#e3f1ee"/><stop offset=".77" stop-color="#d2ecf4"/><stop offset="1" stop-color="#c8e7f1"/></linearGradient><linearGradient id="w335" x1="0" y1="0" x2="0" y2="1"><stop offset="0" stop-color="#e2f2f3"/><stop offset=".75" stop-color="#d3edf4"/><stop offset="1" stop-color="#c7e7f1"/></linearGradient><linearGradient id="w336" x1="0" y1="0" x2="0" y2="1"><stop offset="0" stop-color="#def2f7"/><stop offset=".67" stop-color="#d2ecf4"/><stop offset="1" stop-color="#c6e6f1"/></linearGradient><linearGradient id="w337" x1="0" y1="0" x2="0" y2="1"><stop offset="0" stop-color="#c8e7f1"/><stop offset=".90" stop-color="#a2d2e5"/><stop offset="1" stop-color="#99cbe1"/></linearGradient><linearGradient id="w338" x1="0" y1="0" x2="0" y2="1"><stop offset="0" stop-color="#a9d7e8"/><stop offset="1" stop-color="#71a9cf"/></linearGradient><linearGradient id="w339" x1="0" y1="0" x2="0" y2="1"><stop offset="0" stop-color="#a2d2e5"/><stop offset="1" stop-color="#70a9cf"/></linearGradient><linearGradient id="w340" x1="0" y1="0" x2="0" y2="1"><stop offset="0" stop-color="#a4d3e6"/><stop offset="1" stop-color="#6fa7ce"/></linearGradient><linearGradient id="w341" x1="0" y1="0" x2="0" y2="1"><stop offset="0" stop-color="#aad8e9"/><stop offset="1" stop-color="#6da4cd"/></linearGradient><linearGradient id="w342" x1="0" y1="0" x2="0" y2="1"><stop offset="0" stop-color="#aedaea"/><stop offset="1" stop-color="#6ea6ce"/></linearGradient><linearGradient id="w343" x1="0" y1="0" x2="0" y2="1"><stop offset="0" stop-color="#a3d3e6"/><stop offset=".81" stop-color="#6ba2cb"/><stop offset="1" stop-color="#6095c5"/></linearGradient><linearGradient id="w344" x1="0" y1="0" x2="0" y2="1"><stop offset="0" stop-color="#a8d6e8"/><stop offset=".71" stop-color="#6da5cd"/><stop offset="1" stop-color="#6196c5"/></linearGradient><linearGradient id="w345" x1="0" y1="0" x2="0" y2="1"><stop offset="0" stop-color="#aad9e9"/><stop offset=".74" stop-color="#6ba2cb"/><stop offset="1" stop-color="#5e93c4"/></linearGradient><linearGradient id="w346" x1="0" y1="0" x2="0" y2="1"><stop offset="0" stop-color="#abd9e9"/><stop offset=".62" stop-color="#6ea6ce"/><stop offset="1" stop-color="#5a8ec1"/></linearGradient><linearGradient id="w347" x1="0" y1="0" x2="0" y2="1"><stop offset="0" stop-color="#aad8e9"/><stop offset=".62" stop-color="#6ca3cc"/><stop offset="1" stop-color="#5386bd"/></linearGradient><linearGradient id="w348" x1="0" y1="0" x2="0" y2="1"><stop offset="0" stop-color="#a9d7e8"/><stop offset=".58" stop-color="#6da5cd"/><stop offset="1" stop-color="#5487bd"/></linearGradient><linearGradient id="w349" x1="0" y1="0" x2="0" y2="1"><stop offset="0" stop-color="#aad8e9"/><stop offset=".57" stop-color="#6ca3cc"/><stop offset="1" stop-color="#4e80ba"/></linearGradient><linearGradient id="w350" x1="0" y1="0" x2="0" y2="1"><stop offset="0" stop-color="#abd9e9"/><stop offset=".51" stop-color="#6ca3cc"/><stop offset="1" stop-color="#5385bc"/></linearGradient><linearGradient id="w351" x1="0" y1="0" x2="0" y2="1"><stop offset="0" stop-color="#a7d6e7"/><stop offset=".51" stop-color="#72abd0"/><stop offset="1" stop-color="#5285bc"/></linearGradient><linearGradient id="w352" x1="0" y1="0" x2="0" y2="1"><stop offset="0" stop-color="#99cbe1"/><stop offset=".55" stop-color="#6ba2cc"/><stop offset="1" stop-color="#5183bb"/></linearGradient><linearGradient id="w353" x1="0" y1="0" x2="0" y2="1"><stop offset="0" stop-color="#9fd0e4"/><stop offset=".50" stop-color="#6aa1cb"/><stop offset="1" stop-color="#5183bb"/></linearGradient><linearGradient id="w354" x1="0" y1="0" x2="0" y2="1"><stop offset="0" stop-color="#9acbe1"/><stop offset=".46" stop-color="#6ea6cd"/><stop offset="1" stop-color="#4e80ba"/></linearGradient><linearGradient id="w355" x1="0" y1="0" x2="0" y2="1"><stop offset="0" stop-color="#9bcce2"/><stop offset=".46" stop-color="#6da4cd"/><stop offset="1" stop-color="#5284bc"/></linearGradient><linearGradient id="w356" x1="0" y1="0" x2="0" y2="1"><stop offset="0" stop-color="#9acbe1"/><stop offset=".46" stop-color="#6ca3cc"/><stop offset="1" stop-color="#4e80ba"/></linearGradient><linearGradient id="w357" x1="0" y1="0" x2="0" y2="1"><stop offset="0" stop-color="#93c6df"/><stop offset=".43" stop-color="#6ca3cc"/><stop offset="1" stop-color="#4c7eb8"/></linearGradient><linearGradient id="w358" x1="0" y1="0" x2="0" y2="1"><stop offset="0" stop-color="#8cc0db"/><stop offset=".43" stop-color="#689ec9"/><stop offset="1" stop-color="#5082bb"/></linearGradient><linearGradient id="w359" x1="0" y1="0" x2="0" y2="1"><stop offset="0" stop-color="#84bad8"/><stop offset=".36" stop-color="#6aa2cb"/><stop offset="1" stop-color="#5386bd"/></linearGradient><linearGradient id="w360" x1="0" y1="0" x2="0" y2="1"><stop offset="0" stop-color="#7db4d5"/><stop offset="1" stop-color="#4f81ba"/></linearGradient><linearGradient id="w361" x1="0" y1="0" x2="0" y2="1"><stop offset="0" stop-color="#76aed2"/><stop offset="1" stop-color="#5183bb"/></linearGradient><linearGradient id="w362" x1="0" y1="0" x2="0" y2="1"><stop offset="0" stop-color="#73acd0"/><stop offset="1" stop-color="#4c7eb8"/></linearGradient><linearGradient id="w363" x1="0" y1="0" x2="0" y2="1"><stop offset="0" stop-color="#6ea6cd"/><stop offset="1" stop-color="#4f80ba"/></linearGradient><linearGradient id="w364" x1="0" y1="0" x2="0" y2="1"><stop offset="0" stop-color="#679dc9"/><stop offset="1" stop-color="#5184bc"/></linearGradient><linearGradient id="w365" x1="0" y1="0" x2="0" y2="1"><stop offset="0" stop-color="#649bc7"/><stop offset="1" stop-color="#5386bd"/></linearGradient><linearGradient id="w366" x1="0" y1="0" x2="0" y2="1"><stop offset="0" stop-color="#6aa1cb"/><stop offset="1" stop-color="#4e80ba"/></linearGradient><linearGradient id="w367" x1="0" y1="0" x2="0" y2="1"><stop offset="0" stop-color="#679dc9"/><stop offset="1" stop-color="#5588be"/></linearGradient><linearGradient id="w368" x1="0" y1="0" x2="0" y2="1"><stop offset="0" stop-color="#6ba2cb"/><stop offset="1" stop-color="#4e80ba"/></linearGradient><linearGradient id="w369" x1="0" y1="0" x2="0" y2="1"><stop offset="0" stop-color="#689fca"/><stop offset="1" stop-color="#4f81ba"/></linearGradient><linearGradient id="w370" x1="0" y1="0" x2="0" y2="1"><stop offset="0" stop-color="#689fca"/><stop offset="1" stop-color="#4f81ba"/></linearGradient><linearGradient id="w371" x1="0" y1="0" x2="0" y2="1"><stop offset="0" stop-color="#689ec9"/><stop offset="1" stop-color="#4f81ba"/></linearGradient><linearGradient id="w372" x1="0" y1="0" x2="0" y2="1"><stop offset="0" stop-color="#659bc8"/><stop offset="1" stop-color="#4a7bb7"/></linearGradient><linearGradient id="w373" x1="0" y1="0" x2="0" y2="1"><stop offset="0" stop-color="#669cc8"/><stop offset="1" stop-color="#4e80ba"/></linearGradient><linearGradient id="w374" x1="0" y1="0" x2="0" y2="1"><stop offset="0" stop-color="#669cc8"/><stop offset="1" stop-color="#4f81ba"/></linearGradient><linearGradient id="w375" x1="0" y1="0" x2="0" y2="1"><stop offset="0" stop-color="#6297c6"/><stop offset="1" stop-color="#4b7cb8"/></linearGradient><linearGradient id="w376" x1="0" y1="0" x2="0" y2="1"><stop offset="0" stop-color="#6095c5"/><stop offset="1" stop-color="#4d7fb9"/></linearGradient><linearGradient id="w377" x1="0" y1="0" x2="0" y2="1"><stop offset="0" stop-color="#6196c5"/><stop offset="1" stop-color="#4b7cb7"/></linearGradient><linearGradient id="w378" x1="0" y1="0" x2="0" y2="1"><stop offset="0" stop-color="#659bc8"/><stop offset="1" stop-color="#5487bd"/></linearGradient><linearGradient id="w379" x1="0" y1="0" x2="0" y2="1"><stop offset="0" stop-color="#6196c5"/><stop offset="1" stop-color="#598dc0"/></linearGradient><linearGradient id="w380" x1="0" y1="0" x2="0" y2="1"><stop offset="0" stop-color="#6197c5"/><stop offset="1" stop-color="#5c91c2"/></linearGradient><linearGradient id="w381" x1="0" y1="0" x2="0" y2="1"><stop offset="0" stop-color="#679ec9"/><stop offset="1" stop-color="#6095c5"/></linearGradient><linearGradient id="w382" x1="0" y1="0" x2="0" y2="1"><stop offset="0" stop-color="#659bc8"/><stop offset="1" stop-color="#6399c6"/></linearGradient></defs>
<g shape-rendering="crispEdges"><rect x="533" y="419" width="1" height="5" fill="url(#w0)"/><rect x="534" y="419" width="1" height="9" fill="url(#w1)"/><rect x="535" y="419" width="1" height="10" fill="url(#w2)"/><rect x="536" y="418" width="1" height="13" fill="url(#w3)"/><rect x="537" y="416" width="1" height="16" fill="url(#w4)"/><rect x="538" y="415" width="1" height="17" fill="url(#w5)"/><rect x="539" y="410" width="1" height="22" fill="url(#w6)"/><rect x="540" y="412" width="1" height="22" fill="url(#w7)"/><rect x="541" y="413" width="1" height="21" fill="url(#w8)"/><rect x="542" y="413" width="1" height="20" fill="url(#w9)"/><rect x="543" y="412" width="1" height="20" fill="url(#w10)"/><rect x="544" y="411" width="1" height="20" fill="url(#w11)"/><rect x="545" y="411" width="1" height="19" fill="url(#w12)"/><rect x="546" y="410" width="1" height="19" fill="url(#w13)"/><rect x="547" y="409" width="1" height="19" fill="url(#w14)"/><rect x="548" y="405" width="1" height="22" fill="url(#w15)"/><rect x="549" y="406" width="1" height="20" fill="url(#w16)"/><rect x="550" y="400" width="1" height="25" fill="url(#w17)"/><rect x="551" y="399" width="1" height="25" fill="url(#w18)"/><rect x="552" y="396" width="1" height="28" fill="url(#w19)"/><rect x="553" y="386" width="1" height="37" fill="url(#w20)"/><rect x="554" y="379" width="1" height="44" fill="url(#w21)"/><rect x="555" y="374" width="1" height="43" fill="url(#w22)"/><rect x="556" y="371" width="1" height="46" fill="url(#w23)"/><rect x="557" y="368" width="1" height="56" fill="url(#w24)"/><rect x="558" y="365" width="1" height="59" fill="url(#w25)"/><rect x="559" y="363" width="1" height="61" fill="url(#w26)"/><rect x="560" y="362" width="1" height="55" fill="url(#w27)"/><rect x="561" y="358" width="1" height="60" fill="url(#w28)"/><rect x="562" y="359" width="1" height="64" fill="url(#w29)"/><rect x="563" y="357" width="1" height="67" fill="url(#w30)"/><rect x="564" y="356" width="1" height="73" fill="url(#w31)"/><rect x="565" y="354" width="1" height="76" fill="url(#w32)"/><rect x="566" y="353" width="1" height="76" fill="url(#w33)"/><rect x="567" y="348" width="1" height="82" fill="url(#w34)"/><rect x="568" y="351" width="1" height="79" fill="url(#w35)"/><rect x="569" y="350" width="1" height="76" fill="url(#w36)"/><rect x="570" y="348" width="1" height="78" fill="url(#w37)"/><rect x="571" y="344" width="1" height="83" fill="url(#w38)"/><rect x="572" y="343" width="1" height="83" fill="url(#w39)"/><rect x="573" y="343" width="1" height="83" fill="url(#w40)"/><rect x="574" y="343" width="1" height="84" fill="url(#w41)"/><rect x="575" y="343" width="1" height="82" fill="url(#w42)"/><rect x="576" y="344" width="1" height="81" fill="url(#w43)"/><rect x="577" y="343" width="1" height="80" fill="url(#w44)"/><rect x="578" y="340" width="1" height="84" fill="url(#w45)"/><rect x="579" y="340" width="1" height="84" fill="url(#w46)"/><rect x="580" y="341" width="1" height="83" fill="url(#w47)"/><rect x="581" y="340" width="1" height="85" fill="url(#w48)"/><rect x="582" y="338" width="1" height="93" fill="url(#w49)"/><rect x="583" y="337" width="1" height="94" fill="url(#w50)"/><rect x="584" y="336" width="1" height="95" fill="url(#w51)"/><rect x="585" y="337" width="1" height="94" fill="url(#w52)"/><rect x="586" y="338" width="1" height="93" fill="url(#w53)"/><rect x="587" y="333" width="1" height="97" fill="url(#w54)"/><rect x="588" y="332" width="1" height="98" fill="url(#w55)"/><rect x="589" y="334" width="1" height="94" fill="url(#w56)"/><rect x="590" y="334" width="1" height="93" fill="url(#w57)"/><rect x="591" y="331" width="1" height="99" fill="url(#w58)"/><rect x="592" y="331" width="1" height="101" fill="url(#w59)"/><rect x="593" y="333" width="1" height="98" fill="url(#w60)"/><rect x="594" y="331" width="1" height="92" fill="url(#w61)"/><rect x="595" y="331" width="1" height="100" fill="url(#w62)"/><rect x="596" y="331" width="1" height="98" fill="url(#w63)"/><rect x="597" y="329" width="1" height="104" fill="url(#w64)"/><rect x="598" y="330" width="1" height="98" fill="url(#w65)"/><rect x="599" y="329" width="1" height="98" fill="url(#w66)"/><rect x="600" y="328" width="1" height="102" fill="url(#w67)"/><rect x="601" y="327" width="1" height="100" fill="url(#w68)"/><rect x="602" y="325" width="1" height="102" fill="url(#w69)"/><rect x="603" y="324" width="1" height="104" fill="url(#w70)"/><rect x="604" y="323" width="1" height="107" fill="url(#w71)"/><rect x="605" y="324" width="1" height="106" fill="url(#w72)"/><rect x="606" y="325" width="1" height="105" fill="url(#w73)"/><rect x="607" y="322" width="1" height="108" fill="url(#w74)"/><rect x="608" y="324" width="1" height="110" fill="url(#w75)"/><rect x="609" y="320" width="1" height="115" fill="url(#w76)"/><rect x="610" y="322" width="1" height="106" fill="url(#w77)"/><rect x="611" y="323" width="1" height="107" fill="url(#w78)"/><rect x="612" y="323" width="1" height="108" fill="url(#w79)"/><rect x="613" y="322" width="1" height="119" fill="url(#w80)"/><rect x="614" y="320" width="1" height="123" fill="url(#w81)"/><rect x="615" y="320" width="1" height="126" fill="url(#w82)"/><rect x="616" y="322" width="1" height="116" fill="url(#w83)"/><rect x="617" y="321" width="1" height="115" fill="url(#w84)"/><rect x="618" y="319" width="1" height="124" fill="url(#w85)"/><rect x="619" y="318" width="1" height="123" fill="url(#w86)"/><rect x="620" y="319" width="1" height="121" fill="url(#w87)"/><rect x="621" y="315" width="1" height="124" fill="url(#w88)"/><rect x="622" y="314" width="1" height="126" fill="url(#w89)"/><rect x="623" y="318" width="1" height="121" fill="url(#w90)"/><rect x="624" y="316" width="1" height="124" fill="url(#w91)"/><rect x="625" y="314" width="1" height="127" fill="url(#w92)"/><rect x="626" y="316" width="1" height="125" fill="url(#w93)"/><rect x="627" y="316" width="1" height="124" fill="url(#w94)"/><rect x="628" y="313" width="1" height="127" fill="url(#w95)"/><rect x="629" y="313" width="1" height="124" fill="url(#w96)"/><rect x="630" y="313" width="1" height="126" fill="url(#w97)"/><rect x="631" y="315" width="1" height="124" fill="url(#w98)"/><rect x="632" y="314" width="1" height="125" fill="url(#w99)"/><rect x="633" y="310" width="1" height="129" fill="url(#w100)"/><rect x="634" y="314" width="1" height="117" fill="url(#w101)"/><rect x="635" y="313" width="1" height="128" fill="url(#w102)"/><rect x="636" y="309" width="1" height="132" fill="url(#w103)"/><rect x="637" y="309" width="1" height="132" fill="url(#w104)"/><rect x="638" y="310" width="1" height="132" fill="url(#w105)"/><rect x="639" y="309" width="1" height="134" fill="url(#w106)"/><rect x="640" y="312" width="1" height="131" fill="url(#w107)"/><rect x="641" y="311" width="1" height="135" fill="url(#w108)"/><rect x="642" y="310" width="1" height="140" fill="url(#w109)"/><rect x="643" y="309" width="1" height="143" fill="url(#w110)"/><rect x="644" y="309" width="1" height="144" fill="url(#w111)"/><rect x="645" y="310" width="1" height="142" fill="url(#w112)"/><rect x="646" y="309" width="1" height="140" fill="url(#w113)"/><rect x="647" y="309" width="1" height="139" fill="url(#w114)"/><rect x="648" y="309" width="1" height="137" fill="url(#w115)"/><rect x="649" y="309" width="1" height="136" fill="url(#w116)"/><rect x="650" y="308" width="1" height="137" fill="url(#w117)"/><rect x="651" y="308" width="1" height="140" fill="url(#w118)"/><rect x="652" y="307" width="1" height="139" fill="url(#w119)"/><rect x="653" y="306" width="1" height="141" fill="url(#w120)"/><rect x="654" y="304" width="1" height="136" fill="url(#w121)"/><rect x="655" y="304" width="1" height="136" fill="url(#w122)"/><rect x="656" y="306" width="1" height="134" fill="url(#w123)"/><rect x="657" y="307" width="1" height="140" fill="url(#w124)"/><rect x="658" y="307" width="1" height="139" fill="url(#w125)"/><rect x="659" y="307" width="1" height="139" fill="url(#w126)"/><rect x="660" y="305" width="1" height="142" fill="url(#w127)"/><rect x="661" y="307" width="1" height="142" fill="url(#w128)"/><rect x="662" y="308" width="1" height="140" fill="url(#w129)"/><rect x="663" y="307" width="1" height="141" fill="url(#w130)"/><rect x="664" y="306" width="1" height="144" fill="url(#w131)"/><rect x="665" y="307" width="1" height="143" fill="url(#w132)"/><rect x="666" y="307" width="1" height="143" fill="url(#w133)"/><rect x="667" y="307" width="1" height="142" fill="url(#w134)"/><rect x="668" y="309" width="1" height="140" fill="url(#w135)"/><rect x="669" y="307" width="1" height="142" fill="url(#w136)"/><rect x="670" y="309" width="1" height="139" fill="url(#w137)"/><rect x="671" y="310" width="1" height="138" fill="url(#w138)"/><rect x="672" y="309" width="1" height="138" fill="url(#w139)"/><rect x="673" y="310" width="1" height="133" fill="url(#w140)"/><rect x="674" y="310" width="1" height="133" fill="url(#w141)"/><rect x="675" y="308" width="1" height="138" fill="url(#w142)"/><rect x="676" y="310" width="1" height="135" fill="url(#w143)"/><rect x="677" y="310" width="1" height="134" fill="url(#w144)"/><rect x="678" y="310" width="1" height="133" fill="url(#w145)"/><rect x="679" y="311" width="1" height="132" fill="url(#w146)"/><rect x="680" y="309" width="1" height="133" fill="url(#w147)"/><rect x="681" y="311" width="1" height="131" fill="url(#w148)"/><rect x="682" y="308" width="1" height="135" fill="url(#w149)"/><rect x="683" y="307" width="1" height="137" fill="url(#w150)"/><rect x="684" y="310" width="1" height="134" fill="url(#w151)"/><rect x="685" y="311" width="1" height="134" fill="url(#w152)"/><rect x="686" y="311" width="1" height="129" fill="url(#w153)"/><rect x="687" y="310" width="1" height="130" fill="url(#w154)"/><rect x="688" y="312" width="1" height="125" fill="url(#w155)"/><rect x="689" y="312" width="1" height="128" fill="url(#w156)"/><rect x="690" y="312" width="1" height="138" fill="url(#w157)"/><rect x="691" y="312" width="1" height="140" fill="url(#w158)"/><rect x="692" y="312" width="1" height="135" fill="url(#w159)"/><rect x="693" y="310" width="1" height="137" fill="url(#w160)"/><rect x="694" y="310" width="1" height="138" fill="url(#w161)"/><rect x="695" y="310" width="1" height="137" fill="url(#w162)"/><rect x="696" y="312" width="1" height="133" fill="url(#w163)"/><rect x="697" y="313" width="1" height="127" fill="url(#w164)"/><rect x="698" y="310" width="1" height="138" fill="url(#w165)"/><rect x="699" y="313" width="1" height="129" fill="url(#w166)"/><rect x="700" y="314" width="1" height="133" fill="url(#w167)"/><rect x="701" y="310" width="1" height="135" fill="url(#w168)"/><rect x="702" y="311" width="1" height="134" fill="url(#w169)"/><rect x="703" y="313" width="1" height="133" fill="url(#w170)"/><rect x="704" y="314" width="1" height="133" fill="url(#w171)"/><rect x="705" y="313" width="1" height="136" fill="url(#w172)"/><rect x="706" y="315" width="1" height="137" fill="url(#w173)"/><rect x="707" y="315" width="1" height="139" fill="url(#w174)"/><rect x="708" y="315" width="1" height="137" fill="url(#w175)"/><rect x="709" y="315" width="1" height="138" fill="url(#w176)"/><rect x="710" y="315" width="1" height="137" fill="url(#w177)"/><rect x="711" y="315" width="1" height="131" fill="url(#w178)"/><rect x="712" y="315" width="1" height="130" fill="url(#w179)"/><rect x="713" y="313" width="1" height="133" fill="url(#w180)"/><rect x="714" y="313" width="1" height="134" fill="url(#w181)"/><rect x="715" y="316" width="1" height="133" fill="url(#w182)"/><rect x="716" y="317" width="1" height="132" fill="url(#w183)"/><rect x="717" y="314" width="1" height="135" fill="url(#w184)"/><rect x="718" y="313" width="1" height="133" fill="url(#w185)"/><rect x="719" y="314" width="1" height="132" fill="url(#w186)"/><rect x="720" y="317" width="1" height="129" fill="url(#w187)"/><rect x="721" y="318" width="1" height="130" fill="url(#w188)"/><rect x="722" y="317" width="1" height="132" fill="url(#w189)"/><rect x="723" y="315" width="1" height="134" fill="url(#w190)"/><rect x="724" y="318" width="1" height="131" fill="url(#w191)"/><rect x="725" y="318" width="1" height="131" fill="url(#w192)"/><rect x="726" y="319" width="1" height="126" fill="url(#w193)"/><rect x="727" y="314" width="1" height="135" fill="url(#w194)"/><rect x="728" y="318" width="1" height="130" fill="url(#w195)"/><rect x="729" y="317" width="1" height="131" fill="url(#w196)"/><rect x="730" y="317" width="1" height="131" fill="url(#w197)"/><rect x="731" y="320" width="1" height="128" fill="url(#w198)"/><rect x="732" y="319" width="1" height="129" fill="url(#w199)"/><rect x="733" y="320" width="1" height="128" fill="url(#w200)"/><rect x="734" y="320" width="1" height="125" fill="url(#w201)"/><rect x="735" y="319" width="1" height="127" fill="url(#w202)"/><rect x="736" y="320" width="1" height="128" fill="url(#w203)"/><rect x="737" y="320" width="1" height="124" fill="url(#w204)"/><rect x="738" y="321" width="1" height="126" fill="url(#w205)"/><rect x="739" y="321" width="1" height="128" fill="url(#w206)"/><rect x="740" y="321" width="1" height="128" fill="url(#w207)"/><rect x="741" y="321" width="1" height="128" fill="url(#w208)"/><rect x="742" y="321" width="1" height="122" fill="url(#w209)"/><rect x="743" y="320" width="1" height="122" fill="url(#w210)"/><rect x="744" y="321" width="1" height="125" fill="url(#w211)"/><rect x="745" y="320" width="1" height="126" fill="url(#w212)"/><rect x="746" y="322" width="1" height="125" fill="url(#w213)"/><rect x="747" y="322" width="1" height="126" fill="url(#w214)"/><rect x="748" y="321" width="1" height="126" fill="url(#w215)"/><rect x="749" y="322" width="1" height="125" fill="url(#w216)"/><rect x="750" y="323" width="1" height="125" fill="url(#w217)"/><rect x="751" y="322" width="1" height="126" fill="url(#w218)"/><rect x="752" y="323" width="1" height="124" fill="url(#w219)"/><rect x="753" y="323" width="1" height="126" fill="url(#w220)"/><rect x="754" y="322" width="1" height="134" fill="url(#w221)"/><rect x="755" y="323" width="1" height="136" fill="url(#w222)"/><rect x="756" y="323" width="1" height="140" fill="url(#w223)"/><rect x="757" y="323" width="1" height="142" fill="url(#w224)"/><rect x="758" y="324" width="1" height="144" fill="url(#w225)"/><rect x="759" y="324" width="1" height="146" fill="url(#w226)"/><rect x="760" y="325" width="1" height="143" fill="url(#w227)"/><rect x="761" y="325" width="1" height="146" fill="url(#w228)"/><rect x="762" y="325" width="1" height="152" fill="url(#w229)"/><rect x="763" y="325" width="1" height="151" fill="url(#w230)"/><rect x="764" y="325" width="1" height="149" fill="url(#w231)"/><rect x="765" y="326" width="1" height="148" fill="url(#w232)"/><rect x="766" y="326" width="1" height="148" fill="url(#w233)"/><rect x="767" y="326" width="1" height="148" fill="url(#w234)"/><rect x="768" y="327" width="1" height="148" fill="url(#w235)"/><rect x="769" y="327" width="1" height="150" fill="url(#w236)"/><rect x="770" y="325" width="1" height="153" fill="url(#w237)"/><rect x="771" y="326" width="1" height="153" fill="url(#w238)"/><rect x="772" y="328" width="1" height="148" fill="url(#w239)"/><rect x="773" y="328" width="1" height="149" fill="url(#w240)"/><rect x="774" y="328" width="1" height="153" fill="url(#w241)"/><rect x="775" y="328" width="1" height="151" fill="url(#w242)"/><rect x="776" y="328" width="1" height="154" fill="url(#w243)"/><rect x="777" y="328" width="1" height="155" fill="url(#w244)"/><rect x="778" y="328" width="1" height="153" fill="url(#w245)"/><rect x="779" y="327" width="1" height="153" fill="url(#w246)"/><rect x="780" y="328" width="1" height="147" fill="url(#w247)"/><rect x="781" y="328" width="1" height="146" fill="url(#w248)"/><rect x="782" y="328" width="1" height="147" fill="url(#w249)"/><rect x="783" y="328" width="1" height="143" fill="url(#w250)"/><rect x="784" y="325" width="1" height="145" fill="url(#w251)"/><rect x="785" y="328" width="1" height="142" fill="url(#w252)"/><rect x="786" y="328" width="1" height="144" fill="url(#w253)"/><rect x="787" y="328" width="1" height="147" fill="url(#w254)"/><rect x="788" y="325" width="1" height="150" fill="url(#w255)"/><rect x="789" y="326" width="1" height="146" fill="url(#w256)"/><rect x="790" y="330" width="1" height="139" fill="url(#w257)"/><rect x="791" y="331" width="1" height="134" fill="url(#w258)"/><rect x="792" y="331" width="1" height="131" fill="url(#w259)"/><rect x="793" y="331" width="1" height="128" fill="url(#w260)"/><rect x="794" y="332" width="1" height="124" fill="url(#w261)"/><rect x="795" y="332" width="1" height="118" fill="url(#w262)"/><rect x="796" y="333" width="1" height="114" fill="url(#w263)"/><rect x="797" y="334" width="1" height="112" fill="url(#w264)"/><rect x="798" y="332" width="1" height="112" fill="url(#w265)"/><rect x="799" y="333" width="1" height="109" fill="url(#w266)"/><rect x="800" y="334" width="1" height="91" fill="url(#w267)"/><rect x="801" y="334" width="1" height="86" fill="url(#w268)"/><rect x="802" y="334" width="1" height="85" fill="url(#w269)"/><rect x="803" y="334" width="1" height="86" fill="url(#w270)"/><rect x="804" y="334" width="1" height="86" fill="url(#w271)"/><rect x="805" y="330" width="1" height="86" fill="url(#w272)"/><rect x="806" y="332" width="1" height="82" fill="url(#w273)"/><rect x="807" y="332" width="1" height="85" fill="url(#w274)"/><rect x="808" y="333" width="1" height="84" fill="url(#w275)"/><rect x="809" y="332" width="1" height="83" fill="url(#w276)"/><rect x="810" y="331" width="1" height="83" fill="url(#w277)"/><rect x="811" y="331" width="1" height="83" fill="url(#w278)"/><rect x="812" y="329" width="1" height="80" fill="url(#w279)"/><rect x="813" y="330" width="1" height="77" fill="url(#w280)"/><rect x="814" y="329" width="1" height="84" fill="url(#w281)"/><rect x="815" y="331" width="1" height="81" fill="url(#w282)"/><rect x="816" y="329" width="1" height="83" fill="url(#w283)"/><rect x="817" y="329" width="1" height="82" fill="url(#w284)"/><rect x="818" y="329" width="1" height="79" fill="url(#w285)"/><rect x="819" y="328" width="1" height="80" fill="url(#w286)"/><rect x="820" y="328" width="1" height="80" fill="url(#w287)"/><rect x="821" y="327" width="1" height="80" fill="url(#w288)"/><rect x="822" y="329" width="1" height="81" fill="url(#w289)"/><rect x="823" y="329" width="1" height="75" fill="url(#w290)"/><rect x="824" y="329" width="1" height="76" fill="url(#w291)"/><rect x="825" y="325" width="1" height="82" fill="url(#w292)"/><rect x="826" y="328" width="1" height="79" fill="url(#w293)"/><rect x="827" y="327" width="1" height="81" fill="url(#w294)"/><rect x="828" y="327" width="1" height="80" fill="url(#w295)"/><rect x="829" y="328" width="1" height="73" fill="url(#w296)"/><rect x="830" y="328" width="1" height="73" fill="url(#w297)"/><rect x="831" y="326" width="1" height="78" fill="url(#w298)"/><rect x="832" y="327" width="1" height="80" fill="url(#w299)"/><rect x="833" y="327" width="1" height="79" fill="url(#w300)"/><rect x="834" y="324" width="1" height="81" fill="url(#w301)"/><rect x="835" y="328" width="1" height="73" fill="url(#w302)"/><rect x="836" y="328" width="1" height="68" fill="url(#w303)"/><rect x="837" y="325" width="1" height="70" fill="url(#w304)"/><rect x="838" y="325" width="1" height="75" fill="url(#w305)"/><rect x="839" y="324" width="1" height="67" fill="url(#w306)"/><rect x="840" y="328" width="1" height="63" fill="url(#w307)"/><rect x="841" y="327" width="1" height="64" fill="url(#w308)"/><rect x="842" y="328" width="1" height="71" fill="url(#w309)"/><rect x="843" y="327" width="1" height="71" fill="url(#w310)"/><rect x="844" y="327" width="1" height="71" fill="url(#w311)"/><rect x="845" y="327" width="1" height="69" fill="url(#w312)"/><rect x="846" y="328" width="1" height="63" fill="url(#w313)"/><rect x="847" y="328" width="1" height="68" fill="url(#w314)"/><rect x="848" y="329" width="1" height="66" fill="url(#w315)"/><rect x="849" y="327" width="1" height="67" fill="url(#w316)"/><rect x="850" y="328" width="1" height="64" fill="url(#w317)"/><rect x="851" y="329" width="1" height="63" fill="url(#w318)"/><rect x="852" y="327" width="1" height="60" fill="url(#w319)"/><rect x="853" y="328" width="1" height="63" fill="url(#w320)"/><rect x="854" y="327" width="1" height="64" fill="url(#w321)"/><rect x="855" y="327" width="1" height="67" fill="url(#w322)"/><rect x="856" y="328" width="1" height="66" fill="url(#w323)"/><rect x="857" y="328" width="1" height="61" fill="url(#w324)"/><rect x="858" y="329" width="1" height="60" fill="url(#w325)"/><rect x="859" y="330" width="1" height="55" fill="url(#w326)"/><rect x="860" y="327" width="1" height="57" fill="url(#w327)"/><rect x="861" y="329" width="1" height="60" fill="url(#w328)"/><rect x="862" y="330" width="1" height="58" fill="url(#w329)"/><rect x="863" y="332" width="1" height="56" fill="url(#w330)"/><rect x="864" y="334" width="1" height="53" fill="url(#w331)"/><rect x="865" y="336" width="1" height="50" fill="url(#w332)"/><rect x="866" y="338" width="1" height="48" fill="url(#w333)"/><rect x="867" y="341" width="1" height="44" fill="url(#w334)"/><rect x="868" y="345" width="1" height="40" fill="url(#w335)"/><rect x="869" y="348" width="1" height="33" fill="url(#w336)"/><rect x="870" y="353" width="1" height="29" fill="url(#w337)"/><rect x="871" y="355" width="1" height="31" fill="url(#w338)"/><rect x="872" y="357" width="1" height="30" fill="url(#w339)"/><rect x="873" y="358" width="1" height="29" fill="url(#w340)"/><rect x="874" y="354" width="1" height="35" fill="url(#w341)"/><rect x="875" y="354" width="1" height="37" fill="url(#w342)"/><rect x="876" y="356" width="1" height="42" fill="url(#w343)"/><rect x="877" y="356" width="1" height="42" fill="url(#w344)"/><rect x="878" y="353" width="1" height="46" fill="url(#w345)"/><rect x="879" y="353" width="1" height="48" fill="url(#w346)"/><rect x="880" y="353" width="1" height="52" fill="url(#w347)"/><rect x="881" y="353" width="1" height="52" fill="url(#w348)"/><rect x="882" y="353" width="1" height="53" fill="url(#w349)"/><rect x="883" y="353" width="1" height="55" fill="url(#w350)"/><rect x="884" y="353" width="1" height="55" fill="url(#w351)"/><rect x="885" y="361" width="1" height="47" fill="url(#w352)"/><rect x="886" y="360" width="1" height="48" fill="url(#w353)"/><rect x="887" y="360" width="1" height="48" fill="url(#w354)"/><rect x="888" y="360" width="1" height="48" fill="url(#w355)"/><rect x="889" y="361" width="1" height="48" fill="url(#w356)"/><rect x="890" y="363" width="1" height="47" fill="url(#w357)"/><rect x="891" y="367" width="1" height="42" fill="url(#w358)"/><rect x="892" y="371" width="1" height="39" fill="url(#w359)"/><rect x="893" y="374" width="1" height="36" fill="url(#w360)"/><rect x="894" y="378" width="1" height="33" fill="url(#w361)"/><rect x="895" y="380" width="1" height="34" fill="url(#w362)"/><rect x="896" y="385" width="1" height="29" fill="url(#w363)"/><rect x="897" y="390" width="1" height="20" fill="url(#w364)"/><rect x="898" y="390" width="1" height="20" fill="url(#w365)"/><rect x="899" y="390" width="1" height="24" fill="url(#w366)"/><rect x="900" y="390" width="1" height="24" fill="url(#w367)"/><rect x="901" y="390" width="1" height="24" fill="url(#w368)"/><rect x="902" y="391" width="1" height="23" fill="url(#w369)"/><rect x="903" y="389" width="1" height="24" fill="url(#w370)"/><rect x="904" y="390" width="1" height="23" fill="url(#w371)"/><rect x="905" y="391" width="1" height="23" fill="url(#w372)"/><rect x="906" y="392" width="1" height="22" fill="url(#w373)"/><rect x="907" y="393" width="1" height="22" fill="url(#w374)"/><rect x="908" y="394" width="1" height="19" fill="url(#w375)"/><rect x="909" y="394" width="1" height="19" fill="url(#w376)"/><rect x="910" y="395" width="1" height="21" fill="url(#w377)"/><rect x="911" y="393" width="1" height="14" fill="url(#w378)"/><rect x="912" y="393" width="1" height="8" fill="url(#w379)"/><rect x="913" y="392" width="1" height="5" fill="url(#w380)"/><rect x="914" y="392" width="1" height="5" fill="url(#w381)"/><rect x="915" y="392" width="1" height="2" fill="url(#w382)"/></g>
<path d="M507.5 298.7V468.0L780.6 517.8L936.8 432.7M507.5 298.7h7.2M507.5 327.1h7.2M507.5 355.5h7.2M507.5 383.9h7.2M507.5 412.3h7.2M507.5 440.7h7.2M507.5 469.1h7.2M527.0 471.6l2.2 -1.2M546.5 475.1l4.4 -2.4M566.0 478.7l2.2 -1.2M585.5 482.2l4.4 -2.4M605.0 485.8l2.2 -1.2M624.5 489.3l4.4 -2.4M644.0 492.9l2.2 -1.2M663.6 496.5l4.4 -2.4M683.1 500.0l2.2 -1.2M702.6 503.6l4.4 -2.4M722.1 507.1l2.2 -1.2M741.6 510.7l4.4 -2.4M761.1 514.2l2.2 -1.2M802.9 505.6l-5.4 -1.0M825.2 493.5l-5.4 -1.0M847.5 481.3l-5.4 -1.0M869.9 469.2l-5.4 -1.0M892.2 457.0l-5.4 -1.0M914.5 444.9l-5.4 -1.0" stroke="#f8f8b4" stroke-width="1" fill="none"/>
<text x="493.8" y="301.6" fill="#f8f8b4" text-anchor="end">0</text>
<text x="493.8" y="330.0" fill="#f8f8b4" text-anchor="end">-20</text>
<text x="493.8" y="358.4" fill="#f8f8b4" text-anchor="end">-40</text>
<text x="493.8" y="386.8" fill="#f8f8b4" text-anchor="end">-60</text>
<text x="493.8" y="415.2" fill="#f8f8b4" text-anchor="end">-80</text>
<text x="493.8" y="443.6" fill="#f8f8b4" text-anchor="end">-100</text>
<text x="493.8" y="472.0" fill="#f8f8b4" text-anchor="end">-120</text>
<text transform="translate(448.3 382) rotate(-90)" fill="#f8f8b4" text-anchor="middle">PSD (dBm)</text>
<text x="502.0" y="476.7" fill="#f8f8b4" text-anchor="middle">19:34:00</text>
<text x="540.6" y="483.5" fill="#f8f8b4" text-anchor="middle">19:34:20</text>
<text x="579.3" y="490.4" fill="#f8f8b4" text-anchor="middle">19:34:40</text>
<text x="617.9" y="497.2" fill="#f8f8b4" text-anchor="middle">19:35:00</text>
<text x="656.5" y="504.1" fill="#f8f8b4" text-anchor="middle">19:35:20</text>
<text x="695.1" y="510.9" fill="#f8f8b4" text-anchor="middle">19:35:40</text>
<text x="733.8" y="517.7" fill="#f8f8b4" text-anchor="middle">19:36:00</text>
<text x="772.4" y="524.6" fill="#f8f8b4" text-anchor="middle">19:36:20</text>
<text x="813.3" y="524.1" fill="#f8f8b4" text-anchor="middle">1210</text>
<text x="835.3" y="511.9" fill="#f8f8b4" text-anchor="middle">1215</text>
<text x="857.3" y="499.8" fill="#f8f8b4" text-anchor="middle">1220</text>
<text x="879.3" y="487.6" fill="#f8f8b4" text-anchor="middle">1225</text>
<text x="901.3" y="475.5" fill="#f8f8b4" text-anchor="middle">1230</text>
<text x="923.3" y="463.3" fill="#f8f8b4" text-anchor="middle">1235</text>
<text x="945.3" y="451.1" fill="#f8f8b4" text-anchor="middle">1240</text>
<text x="967.3" y="439.0" fill="#f8f8b4" text-anchor="middle">1245</text>
<text transform="translate(600 514.7) rotate(10.5)" fill="#f8f8b4" text-anchor="middle" y="5.7">Time (UTC)</text>
<text transform="translate(932.3 486) rotate(-28.6)" fill="#f8f8b4" text-anchor="middle" y="5.7">Frequency (MHz)</text>
<path d="M754.5 331.3L891.4 257.3V428L754.5 501.5Z" stroke="#ff0000" stroke-width="1.1" fill="none"/>
<path d="M205.5 620.5V719.5M337.5 620.5V719.5M469.5 620.5V719.5M600.5 620.5V719.5M732.5 620.5V719.5M864.5 620.5V719.5M73.5 661.5H996.5" stroke="#c8c8c8" stroke-width="1" stroke-dasharray="2 2" fill="none" shape-rendering="crispEdges"/>
<path d="M73.5 620.5H996.5V719.5H73.5ZM73.5 719.5v-9M73.5 620.5v9M139.5 719.5v-4.5M139.5 620.5v4.5M205.5 719.5v-9M205.5 620.5v9M271.5 719.5v-4.5M271.5 620.5v4.5M337.5 719.5v-9M337.5 620.5v9M403.5 719.5v-4.5M403.5 620.5v4.5M469.5 719.5v-9M469.5 620.5v9M535.5 719.5v-4.5M535.5 620.5v4.5M600.5 719.5v-9M600.5 620.5v9M666.5 719.5v-4.5M666.5 620.5v4.5M732.5 719.5v-9M732.5 620.5v9M798.5 719.5v-4.5M798.5 620.5v4.5M864.5 719.5v-9M864.5 620.5v9M930.5 719.5v-4.5M930.5 620.5v4.5M996.5 719.5v-9M996.5 620.5v9M73.5 661.5h7.5M996.5 661.5h-7.5" stroke="#f8f8b4" stroke-width="1" fill="none"/>
<text x="73.5" y="737.6" fill="#f8f8b4" text-anchor="middle">19:34:00</text>
<text x="205.4" y="737.6" fill="#f8f8b4" text-anchor="middle">19:34:20</text>
<text x="337.2" y="737.6" fill="#f8f8b4" text-anchor="middle">19:34:40</text>
<text x="469.1" y="737.6" fill="#f8f8b4" text-anchor="middle">19:35:00</text>
<text x="600.9" y="737.6" fill="#f8f8b4" text-anchor="middle">19:35:20</text>
<text x="732.8" y="737.6" fill="#f8f8b4" text-anchor="middle">19:35:40</text>
<text x="864.6" y="737.6" fill="#f8f8b4" text-anchor="middle">19:36:00</text>
<text x="996.5" y="737.6" fill="#f8f8b4" text-anchor="middle">19:36:20</text>
<text x="64" y="664.8" fill="#f8f8b4" text-anchor="end">-100</text>
<text x="64" y="722.6" fill="#f8f8b4" text-anchor="end">-120</text>
<text x="534" y="759.5" fill="#f8f8b4" text-anchor="middle">Time (UTC)</text>
<text transform="translate(17.2 668.5) rotate(-90)" fill="#f8f8b4" text-anchor="middle">Power (dBm)</text>
<polyline points="132.3,690.4 137.6,691.6 142,690.7 151.6,687.2 181.5,687.5 186,688.3 190.3,687.2 206.4,687.2 218.2,684.5 228.4,684 237.2,682.5 253.3,682.5 256.2,683.4 266.5,683.7 269.4,684.5 287,684.5 290,685.4 306,685.4 309,684.5 325,684.5 329.5,683.4 379.3,683.4 382.2,684.5 391,684.5 394,683.4 432.2,683.4 435,682.5 451.3,682.5 458.6,680.4 474.7,675.5 483.5,675.2 489.4,673.4 504,673.4 507,674.6 517.2,674.6 520,675.5 531.8,675.5 552.4,680.4 572.9,683.4 577.3,683.4 581.7,682.5 587.5,682.5 594.8,680.4 602.2,680.4 608,681.6 611,681.6 618.3,683.4 630,683.4 634.4,682.5 637.3,681.6 649,681.6 663.7,678.4 675.4,677.5 688.6,673.7 694,672.6 700.4,669.8 706.2,668.3 713.3,700.6 718.7,668.3 726.2,664.3 731.6,667.3 740.2,662.3 753,662.3 759.5,666.2 781,666.2 783.1,665.3 788.5,665.3 790.6,666.2 795,666.2 797.1,665.3 805.7,665.3 811,669.4 818.6,669.4 825,674.4 840,674.4 844.4,676.3 851.2,682.3 857.9,652.7 859.6,654.4 864.8,689.8" stroke="#ffff00" stroke-width="1" fill="none" shape-rendering="crispEdges"/>
<path d="M858.3 620.5V719.5" stroke="#ff0000" stroke-width="1.3"/>
</svg>
</body></html>
